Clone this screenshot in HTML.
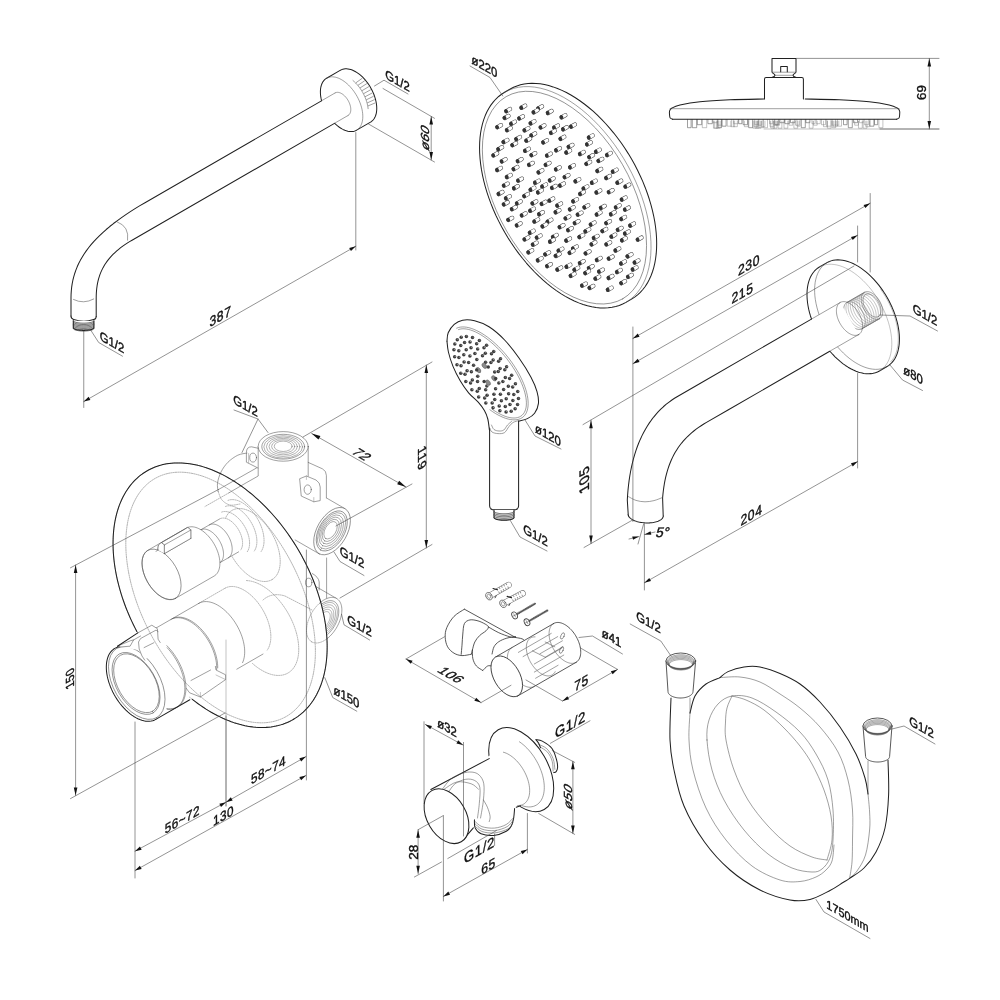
<!DOCTYPE html>
<html><head><meta charset="utf-8"><title>Shower set dimensions</title>
<style>
html,body{margin:0;padding:0;background:#fff;}
body{width:1000px;height:1000px;overflow:hidden;font-family:"Liberation Sans",sans-serif;}
svg{display:block;will-change:transform;}
path,ellipse{fill:none;stroke-linecap:round;stroke-linejoin:round;}
.k{stroke:#202020;stroke-width:1.02;}
.t{stroke:#505050;stroke-width:.55;}
.d{stroke:#3a3a3a;stroke-width:.55;}
.h{stroke:#7a7a7a;stroke-width:.45;}
.o{stroke:#707070;stroke-width:.5;stroke-dasharray:1.2 1.1;}
.m{stroke:#2e2e2e;stroke-width:.8;}
.t2{stroke:#666;stroke-width:.5;}
.w{fill:#fff;stroke:none;}
.a{fill:#111;stroke:none;}
text{font-family:"Liberation Sans",sans-serif;fill:#111;}
</style></head><body>
<svg width="1000" height="1000" viewBox="0 0 1000 1000">
<rect width="1000" height="1000" fill="#fff"/>
<path class="k" d="M326.6 78.22L325.59 78.89L324.66 79.68L323.81 80.59L323.05 81.61L322.38 82.75L321.8 83.99L321.32 85.32L320.94 86.75L320.65 88.27L320.47 89.86L320.4 91.52L320.42 93.25L320.55 95.02L320.78 96.85L321.12 98.71L321.55 100.59L322.08 102.49L322.71 104.4L323.43 106.31L324.23 108.21L325.12 110.09L326.09 111.94L327.14 113.76L328.26 115.52L329.44 117.24L330.68 118.88L331.98 120.46L333.32 121.96L334.7 123.37L336.12 124.69L337.56 125.9L339.02 127.02L340.5 128.02L341.98 128.9L343.45 129.67L344.92 130.31L346.38 130.82L347.81 131.2L349.21 131.45L350.57 131.57L351.89 131.56L353.16 131.41L354.37 131.13L355.52 130.72L356.6 130.18L370.54 122.13L371.55 121.46L372.48 120.67L373.33 119.76L374.09 118.74L374.77 117.6L375.34 116.36L375.83 115.03L376.21 113.6L376.49 112.08L376.67 110.49L376.75 108.83L376.72 107.1L376.59 105.33L376.36 103.5L376.03 101.64L375.59 99.76L375.06 97.86L374.44 95.95L373.72 94.04L372.91 92.14L372.02 90.26L371.05 88.41L370 86.59L368.88 84.83L367.7 83.11L366.46 81.47L365.16 79.89L363.82 78.39L362.44 76.98L361.03 75.66L359.58 74.45L358.12 73.33L356.65 72.33L355.17 71.45L353.69 70.68L352.22 70.04L350.77 69.53L349.34 69.15L347.94 68.9L346.57 68.78L345.26 68.79L343.99 68.94L342.78 69.22L341.63 69.63L340.54 70.17Z" style="fill:#fff"/>
<path class="t" d="M356.6 130.18L357.61 129.51L358.54 128.72L359.39 127.81L360.15 126.79L360.82 125.65L361.4 124.41L361.88 123.08L362.26 121.65L362.55 120.13L362.73 118.54L362.8 116.88L362.78 115.15L362.65 113.38L362.42 111.55L362.08 109.69L361.65 107.81L361.12 105.91L360.49 104L359.77 102.09L358.97 100.19L358.08 98.31L357.11 96.46L356.06 94.64L354.94 92.88L353.76 91.16L352.52 89.52L351.22 87.94L349.88 86.44L348.5 85.03L347.08 83.71L345.64 82.5L344.18 81.38L342.7 80.38L341.22 79.5L339.75 78.73L338.28 78.09L336.82 77.58L335.39 77.2L333.99 76.95L332.63 76.83L331.31 76.84L330.04 76.99L328.83 77.27L327.68 77.68L326.6 78.22"/>
<path class="t" d="M368.26 105.83L375 103.01"/>
<path class="t" d="M367.57 102.77L374.27 99.75"/>
<path class="t" d="M366.61 99.66L373.25 96.45"/>
<path class="t" d="M365.39 96.56L371.94 93.15"/>
<path class="t" d="M363.92 93.51L370.38 89.9"/>
<path class="t" d="M362.24 90.55L368.59 86.75"/>
<path class="t" d="M360.35 87.73L366.58 83.75"/>
<path class="t" d="M358.3 85.09L364.39 80.94"/>
<path class="t" d="M356.11 82.67L362.06 78.36"/>
<path class="t" d="M368.12 108.68L367.89 106.94L367.57 105.16L367.15 103.35L366.63 101.53L366.02 99.7L365.32 97.87L364.53 96.06L363.66 94.26L362.71 92.5L361.69 90.77L360.6 89.1L359.45 87.48L358.24 85.93L356.98 84.45L355.68 83.05L354.34 81.74L352.97 80.52"/>
<path class="w" d="M335.1 92.94L145.01 202.69L145.01 202.69L139.93 205.68L135.04 208.66L130.35 211.63L125.85 214.61L121.54 217.58L117.42 220.56L113.48 223.53L109.74 226.52L106.18 229.51L102.8 232.52L99.6 235.53L96.58 238.56L93.73 241.61L91.07 244.67L88.58 247.76L86.26 250.87L84.11 254L82.13 257.17L80.32 260.36L78.67 263.58L77.19 266.83L75.88 270.13L74.72 273.46L73.72 276.83L72.88 280.24L72.2 283.69L71.67 287.2L71.3 290.75L71.07 294.35L71 298L71 317.6L71 317.6L71.03 317.82L71.12 318.05L71.28 318.27L71.49 318.48L71.76 318.69L72.09 318.9L72.47 319.1L72.91 319.3L73.41 319.48L73.95 319.66L74.54 319.82L75.17 319.98L75.84 320.12L76.55 320.25L77.3 320.37L78.08 320.48L78.88 320.57L79.71 320.64L80.55 320.7L81.41 320.75L82.28 320.78L83.16 320.8L84.04 320.8L84.92 320.78L85.79 320.75L86.65 320.7L87.49 320.64L88.32 320.57L89.12 320.48L89.9 320.37L90.65 320.25L91.36 320.12L92.03 319.98L92.66 319.82L93.25 319.66L93.79 319.48L94.29 319.3L94.73 319.1L95.11 318.9L95.44 318.69L95.71 318.48L95.92 318.27L96.08 318.05L96.17 317.82L96.2 317.6L96.2 298L96.2 298L96.24 295.43L96.34 292.92L96.53 290.46L96.78 288.06L97.11 285.71L97.52 283.41L98 281.15L98.56 278.95L99.2 276.8L99.92 274.69L100.71 272.63L101.59 270.61L102.55 268.63L103.59 266.69L104.71 264.79L105.92 262.93L107.21 261.11L108.58 259.33L110.04 257.57L111.59 255.85L113.23 254.17L114.95 252.51L116.77 250.88L118.67 249.29L120.66 247.71L122.75 246.17L124.93 244.64L127.2 243.14L129.57 241.67L132.03 240.21L132.03 240.21L348.1 115.46Z"/>
<path class="t" d="M335.1 92.94L321.46 100.82"/>
<path class="t" d="M348.1 115.46L334.46 123.33"/>
<path class="k" d="M321.46 100.82L145.01 202.69L145.01 202.69L139.93 205.68L135.04 208.66L130.35 211.63L125.85 214.61L121.54 217.58L117.42 220.56L113.48 223.53L109.74 226.52L106.18 229.51L102.8 232.52L99.6 235.53L96.58 238.56L93.73 241.61L91.07 244.67L88.58 247.76L86.26 250.87L84.11 254L82.13 257.17L80.32 260.36L78.67 263.58L77.19 266.83L75.88 270.13L74.72 273.46L73.72 276.83L72.88 280.24L72.2 283.69L71.67 287.2L71.3 290.75L71.07 294.35L71 298L71 316.1"/>
<path class="k" d="M334.46 123.33L132.03 240.21L132.03 240.21L129.57 241.67L127.2 243.14L124.93 244.64L122.75 246.17L120.66 247.71L118.67 249.29L116.77 250.88L114.95 252.51L113.23 254.17L111.59 255.85L110.04 257.57L108.58 259.33L107.21 261.11L105.92 262.93L104.71 264.79L103.59 266.69L102.55 268.63L101.59 270.61L100.71 272.63L99.92 274.69L99.2 276.8L98.56 278.95L98 281.15L97.52 283.41L97.11 285.71L96.78 288.06L96.53 290.46L96.34 292.92L96.24 295.43L96.2 298L96.2 316.4"/>
<path class="t" d="M348.1 115.46L348.54 115.17L348.94 114.83L349.31 114.43L349.64 113.99L349.93 113.5L350.18 112.96L350.39 112.38L350.55 111.76L350.68 111.1L350.75 110.41L350.79 109.69L350.78 108.95L350.72 108.18L350.62 107.39L350.48 106.58L350.29 105.76L350.06 104.94L349.79 104.11L349.48 103.28L349.13 102.46L348.74 101.65L348.32 100.84L347.87 100.06L347.38 99.29L346.87 98.55L346.33 97.84L345.77 97.15L345.19 96.51L344.59 95.89L343.98 95.32L343.35 94.8L342.72 94.31L342.08 93.88L341.44 93.5L340.8 93.16L340.16 92.89L339.53 92.66L338.91 92.5L338.3 92.39L337.71 92.34L337.14 92.34L336.59 92.41L336.07 92.53L335.57 92.71L335.1 92.94"/>
<path class="t" d="M117.4 222Q129.5 226.5 127.6 240.2"/>
<path class="t" d="M73.5 299.5Q83.6 304.5 93.7 299"/>
<path class="k" d="M71.0 316.1Q71.0 318.8 73.6 319.40000000000003Q83.6 322.8 93.60000000000001 319.6Q96.2 319.0 96.2 316.40000000000003"/>
<path class="k" d="M73.3 320.8L73.3 327.6L73.3 327.6L73.33 327.8L73.4 327.99L73.53 328.18L73.7 328.37L73.92 328.56L74.19 328.74L74.51 328.91L74.87 329.08L75.27 329.25L75.71 329.4L76.19 329.55L76.71 329.68L77.26 329.81L77.84 329.92L78.45 330.02L79.08 330.12L79.74 330.2L80.42 330.26L81.11 330.32L81.81 330.36L82.52 330.38L83.24 330.4L83.96 330.4L84.68 330.38L85.39 330.36L86.09 330.32L86.78 330.26L87.46 330.2L88.12 330.12L88.75 330.02L89.36 329.92L89.94 329.81L90.49 329.68L91.01 329.55L91.49 329.4L91.93 329.25L92.33 329.08L92.69 328.91L93.01 328.74L93.28 328.56L93.5 328.37L93.67 328.18L93.8 327.99L93.87 327.8L93.9 327.6L93.9 321" style="fill:#fff"/>
<path class="m" d="M73.31 320.69L73.36 320.87L73.46 321.05L73.61 321.23L73.8 321.4L74.05 321.57L74.34 321.74L74.68 321.9L75.06 322.05L75.48 322.2L75.95 322.34L76.45 322.47L76.98 322.59L77.55 322.7L78.14 322.8L78.76 322.9L79.41 322.98L80.08 323.04L80.76 323.1L81.46 323.14L82.17 323.17L82.88 323.19L83.6 323.2L84.32 323.19L85.03 323.17L85.74 323.14L86.44 323.1L87.12 323.04L87.79 322.98L88.44 322.9L89.06 322.8L89.65 322.7L90.22 322.59L90.75 322.47L91.25 322.34L91.72 322.2L92.14 322.05L92.52 321.9L92.86 321.74L93.15 321.57L93.4 321.4L93.59 321.23L93.74 321.05L93.84 320.87L93.89 320.69"/>
<path class="m" d="M73.31 321.99L73.36 322.17L73.46 322.35L73.61 322.53L73.8 322.7L74.05 322.87L74.34 323.04L74.68 323.2L75.06 323.35L75.48 323.5L75.95 323.64L76.45 323.77L76.98 323.89L77.55 324L78.14 324.1L78.76 324.2L79.41 324.28L80.08 324.34L80.76 324.4L81.46 324.44L82.17 324.47L82.88 324.49L83.6 324.5L84.32 324.49L85.03 324.47L85.74 324.44L86.44 324.4L87.12 324.34L87.79 324.28L88.44 324.2L89.06 324.1L89.65 324L90.22 323.89L90.75 323.77L91.25 323.64L91.72 323.5L92.14 323.35L92.52 323.2L92.86 323.04L93.15 322.87L93.4 322.7L93.59 322.53L93.74 322.35L93.84 322.17L93.89 321.99"/>
<path class="m" d="M73.31 323.29L73.36 323.47L73.46 323.65L73.61 323.83L73.8 324L74.05 324.17L74.34 324.34L74.68 324.5L75.06 324.65L75.48 324.8L75.95 324.94L76.45 325.07L76.98 325.19L77.55 325.3L78.14 325.4L78.76 325.5L79.41 325.58L80.08 325.64L80.76 325.7L81.46 325.74L82.17 325.77L82.88 325.79L83.6 325.8L84.32 325.79L85.03 325.77L85.74 325.74L86.44 325.7L87.12 325.64L87.79 325.58L88.44 325.5L89.06 325.4L89.65 325.3L90.22 325.19L90.75 325.07L91.25 324.94L91.72 324.8L92.14 324.65L92.52 324.5L92.86 324.34L93.15 324.17L93.4 324L93.59 323.83L93.74 323.65L93.84 323.47L93.89 323.29"/>
<path class="m" d="M73.31 324.59L73.36 324.77L73.46 324.95L73.61 325.13L73.8 325.3L74.05 325.47L74.34 325.64L74.68 325.8L75.06 325.95L75.48 326.1L75.95 326.24L76.45 326.37L76.98 326.49L77.55 326.6L78.14 326.7L78.76 326.8L79.41 326.88L80.08 326.94L80.76 327L81.46 327.04L82.17 327.07L82.88 327.09L83.6 327.1L84.32 327.09L85.03 327.07L85.74 327.04L86.44 327L87.12 326.94L87.79 326.88L88.44 326.8L89.06 326.7L89.65 326.6L90.22 326.49L90.75 326.37L91.25 326.24L91.72 326.1L92.14 325.95L92.52 325.8L92.86 325.64L93.15 325.47L93.4 325.3L93.59 325.13L93.74 324.95L93.84 324.77L93.89 324.59"/>
<path class="m" d="M73.31 325.89L73.36 326.07L73.46 326.25L73.61 326.43L73.8 326.6L74.05 326.77L74.34 326.94L74.68 327.1L75.06 327.25L75.48 327.4L75.95 327.54L76.45 327.67L76.98 327.79L77.55 327.9L78.14 328L78.76 328.1L79.41 328.18L80.08 328.24L80.76 328.3L81.46 328.34L82.17 328.37L82.88 328.39L83.6 328.4L84.32 328.39L85.03 328.37L85.74 328.34L86.44 328.3L87.12 328.24L87.79 328.18L88.44 328.1L89.06 328L89.65 327.9L90.22 327.79L90.75 327.67L91.25 327.54L91.72 327.4L92.14 327.25L92.52 327.1L92.86 326.94L93.15 326.77L93.4 326.6L93.59 326.43L93.74 326.25L93.84 326.07L93.89 325.89"/>
<path class="m" d="M73.31 327.19L73.36 327.37L73.46 327.55L73.61 327.73L73.8 327.9L74.05 328.07L74.34 328.24L74.68 328.4L75.06 328.55L75.48 328.7L75.95 328.84L76.45 328.97L76.98 329.09L77.55 329.2L78.14 329.3L78.76 329.4L79.41 329.48L80.08 329.54L80.76 329.6L81.46 329.64L82.17 329.67L82.88 329.69L83.6 329.7L84.32 329.69L85.03 329.67L85.74 329.64L86.44 329.6L87.12 329.54L87.79 329.48L88.44 329.4L89.06 329.3L89.65 329.2L90.22 329.09L90.75 328.97L91.25 328.84L91.72 328.7L92.14 328.55L92.52 328.4L92.86 328.24L93.15 328.07L93.4 327.9L93.59 327.73L93.74 327.55L93.84 327.37L93.89 327.19"/>
<path class="m" d="M73.31 328.49L73.36 328.67L73.46 328.85L73.61 329.03L73.8 329.2L74.05 329.37L74.34 329.54L74.68 329.7L75.06 329.85L75.48 330L75.95 330.14L76.45 330.27L76.98 330.39L77.55 330.5L78.14 330.6L78.76 330.7L79.41 330.78L80.08 330.84L80.76 330.9L81.46 330.94L82.17 330.97L82.88 330.99L83.6 331L84.32 330.99L85.03 330.97L85.74 330.94L86.44 330.9L87.12 330.84L87.79 330.78L88.44 330.7L89.06 330.6L89.65 330.5L90.22 330.39L90.75 330.27L91.25 330.14L91.72 330L92.14 329.85L92.52 329.7L92.86 329.54L93.15 329.37L93.4 329.2L93.59 329.03L93.74 328.85L93.84 328.67L93.89 328.49"/>
<path class="d" d="M90 329L98.7 342.5L122.5 356.2"/>
<text x="0" y="0" text-anchor="middle" transform="matrix(0.87 0.5 0 1 112 342.2)" style="font-size:13px;stroke:#111;stroke-width:0.4px;" dominant-baseline="central">G1/2</text>
<path class="d" d="M83.75 331L83.75 407.5"/>
<path class="d" d="M355.8 132.5L355.8 250"/>
<path class="d" d="M83.75 401.6L355.8 246.2"/>
<path class="a" d="M83.75 401.6L88.59 396.76L90.37 399.89Z"/>
<path class="a" d="M355.8 246.2L350.96 251.04L349.18 247.91Z"/>
<text x="0" y="0" text-anchor="middle" transform="matrix(0.87 -0.5 0 1 220.5 316)" style="font-size:14px;letter-spacing:0.6px;stroke:#111;stroke-width:0.4px;" dominant-baseline="central">387</text>
<path class="d" d="M374.5 86L384 80.2L408 94"/>
<text x="0" y="0" text-anchor="middle" transform="matrix(0.87 0.5 0 1 397.5 80.7)" style="font-size:13px;stroke:#111;stroke-width:0.4px;" dominant-baseline="central">G1/2</text>
<path class="d" d="M383 88.5L434.5 118.3"/>
<path class="d" d="M368.5 124L434.5 162"/>
<path class="d" d="M431.2 116.5L431.2 160"/>
<path class="a" d="M431.2 116.5L433 124.5L429.4 124.5Z"/>
<path class="a" d="M431.2 160L429.4 152L433 152Z"/>
<text x="0" y="0" text-anchor="middle" transform="matrix(0 -1 0.87 0.5 424.8 137.5)" style="font-size:13.5px;letter-spacing:0.3px;stroke:#111;stroke-width:0.4px;" dominant-baseline="central">ø60</text>
<path class="k" d="M504.65 92.25L501.56 94.23L498.65 96.48L495.91 99.02L493.37 101.82L491.03 104.89L488.89 108.21L486.96 111.77L485.24 115.57L483.74 119.59L482.47 123.82L481.42 128.26L480.61 132.88L480.02 137.68L479.67 142.65L479.55 147.76L479.67 153.01L480.03 158.39L480.61 163.87L481.43 169.44L482.48 175.08L483.76 180.79L485.26 186.54L486.98 192.32L488.91 198.12L491.05 203.91L493.4 209.69L495.95 215.43L498.68 221.12L501.6 226.75L504.69 232.3L507.94 237.74L511.36 243.08L514.92 248.3L518.62 253.37L522.45 258.29L526.4 263.04L530.45 267.62L534.6 272L538.83 276.17L543.13 280.13L547.5 283.86L551.91 287.36L556.36 290.61L560.84 293.6L565.33 296.33L569.81 298.78L574.29 300.96L578.74 302.86L583.15 304.46L587.52 305.77L591.82 306.79L596.05 307.5L600.2 307.91L604.25 308.02L608.2 307.83L612.02 307.33L615.72 306.53L619.28 305.43L622.69 304.04L625.95 302.35L631.58 299.1L634.67 297.12L637.58 294.87L640.31 292.33L642.86 289.53L645.2 286.46L647.34 283.14L649.27 279.58L650.99 275.78L652.49 271.76L653.76 267.53L654.81 263.09L655.62 258.47L656.21 253.67L656.56 248.7L656.68 243.59L656.56 238.34L656.2 232.96L655.62 227.48L654.8 221.91L653.75 216.27L652.47 210.56L650.97 204.81L649.25 199.03L647.32 193.23L645.17 187.44L642.83 181.66L640.28 175.92L637.55 170.23L634.63 164.6L631.54 159.05L628.29 153.61L624.87 148.27L621.31 143.05L617.61 137.98L613.78 133.06L609.83 128.31L605.78 123.73L601.63 119.35L597.4 115.18L593.1 111.22L588.73 107.49L584.32 103.99L579.87 100.74L575.39 97.75L570.9 95.02L566.42 92.57L561.94 90.39L557.49 88.49L553.08 86.89L548.71 85.58L544.41 84.56L540.18 83.85L536.03 83.44L531.98 83.33L528.03 83.52L524.21 84.02L520.51 84.82L516.95 85.92L513.53 87.31L510.28 89Z" style="fill:#fff"/>
<path class="t" d="M625.95 302.35L630.03 299.65L633.8 296.46L637.23 292.78L640.31 288.63L643.02 284.04L645.36 279.03L647.31 273.62L648.85 267.84L649.99 261.72L650.72 255.28L651.03 248.56L650.93 241.59L650.4 234.4L649.47 227.03L648.12 219.52L646.37 211.9L644.22 204.21L641.69 196.48L638.79 188.76L635.52 181.08L631.92 173.48L627.99 165.99L623.76 158.66L619.24 151.52L614.46 144.6L609.44 137.93L604.2 131.56L598.78 125.5L593.19 119.8L587.47 114.47L581.64 109.55L575.72 105.05L569.76 101L563.78 97.42L557.8 94.33L551.86 91.74L545.99 89.67L540.21 88.12L534.55 87.1L529.04 86.62L523.71 86.67L518.58 87.27L513.68 88.4L509.03 90.07L504.65 92.25"/>
<ellipse class="t" cx="564.5" cy="197.7" rx="116.7" ry="66.79" transform="rotate(60 564.5 197.7)"/>
<path d="M641.53 237.56L637.81 239.71" style="stroke:#3a3a3a;stroke-width:4.2;stroke-linecap:round"/>
<path d="M641.53 237.56L637.81 239.71" style="stroke:#fff;stroke-width:3.2;stroke-linecap:round"/>
<ellipse cx="637.61" cy="239.81" rx="2.15" ry="1.85" transform="rotate(60 637.81 239.71)" style="fill:#333;stroke:none"/>
<path d="M638.46 260.47L634.74 262.62" style="stroke:#3a3a3a;stroke-width:4.2;stroke-linecap:round"/>
<path d="M638.46 260.47L634.74 262.62" style="stroke:#fff;stroke-width:3.2;stroke-linecap:round"/>
<ellipse cx="634.54" cy="262.72" rx="2.15" ry="1.85" transform="rotate(60 634.74 262.62)" style="fill:#333;stroke:none"/>
<path d="M636.54 267.46L632.82 269.61" style="stroke:#3a3a3a;stroke-width:4.2;stroke-linecap:round"/>
<path d="M636.54 267.46L632.82 269.61" style="stroke:#fff;stroke-width:3.2;stroke-linecap:round"/>
<ellipse cx="632.62" cy="269.71" rx="2.15" ry="1.85" transform="rotate(60 632.82 269.61)" style="fill:#333;stroke:none"/>
<path d="M633.98 223.53L630.26 225.68" style="stroke:#3a3a3a;stroke-width:4.2;stroke-linecap:round"/>
<path d="M633.98 223.53L630.26 225.68" style="stroke:#fff;stroke-width:3.2;stroke-linecap:round"/>
<ellipse cx="630.06" cy="225.78" rx="2.15" ry="1.85" transform="rotate(60 630.26 225.68)" style="fill:#333;stroke:none"/>
<path d="M631.8 274.84L628.08 276.99" style="stroke:#3a3a3a;stroke-width:4.2;stroke-linecap:round"/>
<path d="M631.8 274.84L628.08 276.99" style="stroke:#fff;stroke-width:3.2;stroke-linecap:round"/>
<ellipse cx="627.88" cy="277.09" rx="2.15" ry="1.85" transform="rotate(60 628.08 276.99)" style="fill:#333;stroke:none"/>
<path d="M631.42 254.28L627.69 256.43" style="stroke:#3a3a3a;stroke-width:4.2;stroke-linecap:round"/>
<path d="M631.42 254.28L627.69 256.43" style="stroke:#fff;stroke-width:3.2;stroke-linecap:round"/>
<ellipse cx="627.49" cy="256.53" rx="2.15" ry="1.85" transform="rotate(60 627.69 256.43)" style="fill:#333;stroke:none"/>
<path d="M629.23 184.64L625.51 186.79" style="stroke:#3a3a3a;stroke-width:4.2;stroke-linecap:round"/>
<path d="M629.23 184.64L625.51 186.79" style="stroke:#fff;stroke-width:3.2;stroke-linecap:round"/>
<ellipse cx="625.31" cy="186.89" rx="2.15" ry="1.85" transform="rotate(60 625.51 186.79)" style="fill:#333;stroke:none"/>
<path d="M628.77 231.52L625.05 233.67" style="stroke:#3a3a3a;stroke-width:4.2;stroke-linecap:round"/>
<path d="M628.77 231.52L625.05 233.67" style="stroke:#fff;stroke-width:3.2;stroke-linecap:round"/>
<ellipse cx="624.85" cy="233.77" rx="2.15" ry="1.85" transform="rotate(60 625.05 233.67)" style="fill:#333;stroke:none"/>
<path d="M628.75 207.57L625.02 209.72" style="stroke:#3a3a3a;stroke-width:4.2;stroke-linecap:round"/>
<path d="M628.75 207.57L625.02 209.72" style="stroke:#fff;stroke-width:3.2;stroke-linecap:round"/>
<ellipse cx="624.82" cy="209.82" rx="2.15" ry="1.85" transform="rotate(60 625.02 209.72)" style="fill:#333;stroke:none"/>
<path d="M625.8 238.25L622.07 240.4" style="stroke:#3a3a3a;stroke-width:4.2;stroke-linecap:round"/>
<path d="M625.8 238.25L622.07 240.4" style="stroke:#fff;stroke-width:3.2;stroke-linecap:round"/>
<ellipse cx="621.87" cy="240.5" rx="2.15" ry="1.85" transform="rotate(60 622.07 240.4)" style="fill:#333;stroke:none"/>
<path d="M625.59 197.52L621.86 199.67" style="stroke:#3a3a3a;stroke-width:4.2;stroke-linecap:round"/>
<path d="M625.59 197.52L621.86 199.67" style="stroke:#fff;stroke-width:3.2;stroke-linecap:round"/>
<ellipse cx="621.66" cy="199.77" rx="2.15" ry="1.85" transform="rotate(60 621.86 199.67)" style="fill:#333;stroke:none"/>
<path d="M625.08 216.97L621.36 219.12" style="stroke:#3a3a3a;stroke-width:4.2;stroke-linecap:round"/>
<path d="M625.08 216.97L621.36 219.12" style="stroke:#fff;stroke-width:3.2;stroke-linecap:round"/>
<ellipse cx="621.16" cy="219.22" rx="2.15" ry="1.85" transform="rotate(60 621.36 219.12)" style="fill:#333;stroke:none"/>
<path d="M625.05 281.13L621.33 283.28" style="stroke:#3a3a3a;stroke-width:4.2;stroke-linecap:round"/>
<path d="M625.05 281.13L621.33 283.28" style="stroke:#fff;stroke-width:3.2;stroke-linecap:round"/>
<ellipse cx="621.13" cy="283.38" rx="2.15" ry="1.85" transform="rotate(60 621.33 283.28)" style="fill:#333;stroke:none"/>
<path d="M624.92 261.48L621.2 263.63" style="stroke:#3a3a3a;stroke-width:4.2;stroke-linecap:round"/>
<path d="M624.92 261.48L621.2 263.63" style="stroke:#fff;stroke-width:3.2;stroke-linecap:round"/>
<ellipse cx="621" cy="263.73" rx="2.15" ry="1.85" transform="rotate(60 621.2 263.63)" style="fill:#333;stroke:none"/>
<path d="M621.6 227.87L617.88 230.02" style="stroke:#3a3a3a;stroke-width:4.2;stroke-linecap:round"/>
<path d="M621.6 227.87L617.88 230.02" style="stroke:#fff;stroke-width:3.2;stroke-linecap:round"/>
<ellipse cx="617.68" cy="230.12" rx="2.15" ry="1.85" transform="rotate(60 617.88 230.02)" style="fill:#333;stroke:none"/>
<path d="M621.24 180.68L617.52 182.83" style="stroke:#3a3a3a;stroke-width:4.2;stroke-linecap:round"/>
<path d="M621.24 180.68L617.52 182.83" style="stroke:#fff;stroke-width:3.2;stroke-linecap:round"/>
<ellipse cx="617.32" cy="182.93" rx="2.15" ry="1.85" transform="rotate(60 617.52 182.83)" style="fill:#333;stroke:none"/>
<path d="M620.79 269.98L617.07 272.13" style="stroke:#3a3a3a;stroke-width:4.2;stroke-linecap:round"/>
<path d="M620.79 269.98L617.07 272.13" style="stroke:#fff;stroke-width:3.2;stroke-linecap:round"/>
<ellipse cx="616.87" cy="272.23" rx="2.15" ry="1.85" transform="rotate(60 617.07 272.13)" style="fill:#333;stroke:none"/>
<path d="M619.66 205.36L615.93 207.51" style="stroke:#3a3a3a;stroke-width:4.2;stroke-linecap:round"/>
<path d="M619.66 205.36L615.93 207.51" style="stroke:#fff;stroke-width:3.2;stroke-linecap:round"/>
<ellipse cx="615.73" cy="207.61" rx="2.15" ry="1.85" transform="rotate(60 615.93 207.51)" style="fill:#333;stroke:none"/>
<path d="M619.31 248.44L615.59 250.59" style="stroke:#3a3a3a;stroke-width:4.2;stroke-linecap:round"/>
<path d="M619.31 248.44L615.59 250.59" style="stroke:#fff;stroke-width:3.2;stroke-linecap:round"/>
<ellipse cx="615.39" cy="250.69" rx="2.15" ry="1.85" transform="rotate(60 615.59 250.59)" style="fill:#333;stroke:none"/>
<path d="M616.64 169.7L612.92 171.85" style="stroke:#3a3a3a;stroke-width:4.2;stroke-linecap:round"/>
<path d="M616.64 169.7L612.92 171.85" style="stroke:#fff;stroke-width:3.2;stroke-linecap:round"/>
<ellipse cx="612.72" cy="171.95" rx="2.15" ry="1.85" transform="rotate(60 612.92 171.85)" style="fill:#333;stroke:none"/>
<path d="M615.25 234.67L611.52 236.82" style="stroke:#3a3a3a;stroke-width:4.2;stroke-linecap:round"/>
<path d="M615.25 234.67L611.52 236.82" style="stroke:#fff;stroke-width:3.2;stroke-linecap:round"/>
<ellipse cx="611.32" cy="236.92" rx="2.15" ry="1.85" transform="rotate(60 611.52 236.82)" style="fill:#333;stroke:none"/>
<path d="M614.73 212.18L611.01 214.33" style="stroke:#3a3a3a;stroke-width:4.2;stroke-linecap:round"/>
<path d="M614.73 212.18L611.01 214.33" style="stroke:#fff;stroke-width:3.2;stroke-linecap:round"/>
<ellipse cx="610.81" cy="214.43" rx="2.15" ry="1.85" transform="rotate(60 611.01 214.33)" style="fill:#333;stroke:none"/>
<path d="M612.58 190.13L608.86 192.28" style="stroke:#3a3a3a;stroke-width:4.2;stroke-linecap:round"/>
<path d="M612.58 190.13L608.86 192.28" style="stroke:#fff;stroke-width:3.2;stroke-linecap:round"/>
<ellipse cx="608.66" cy="192.38" rx="2.15" ry="1.85" transform="rotate(60 608.86 192.28)" style="fill:#333;stroke:none"/>
<path d="M612.58 256.56L608.85 258.71" style="stroke:#3a3a3a;stroke-width:4.2;stroke-linecap:round"/>
<path d="M612.58 256.56L608.85 258.71" style="stroke:#fff;stroke-width:3.2;stroke-linecap:round"/>
<ellipse cx="608.65" cy="258.81" rx="2.15" ry="1.85" transform="rotate(60 608.85 258.71)" style="fill:#333;stroke:none"/>
<path d="M612.44 275.93L608.72 278.08" style="stroke:#3a3a3a;stroke-width:4.2;stroke-linecap:round"/>
<path d="M612.44 275.93L608.72 278.08" style="stroke:#fff;stroke-width:3.2;stroke-linecap:round"/>
<ellipse cx="608.52" cy="278.18" rx="2.15" ry="1.85" transform="rotate(60 608.72 278.08)" style="fill:#333;stroke:none"/>
<path d="M611.64 287.75L607.91 289.9" style="stroke:#3a3a3a;stroke-width:4.2;stroke-linecap:round"/>
<path d="M611.64 287.75L607.91 289.9" style="stroke:#fff;stroke-width:3.2;stroke-linecap:round"/>
<ellipse cx="607.71" cy="290" rx="2.15" ry="1.85" transform="rotate(60 607.91 289.9)" style="fill:#333;stroke:none"/>
<path d="M610.81 153.01L607.09 155.16" style="stroke:#3a3a3a;stroke-width:4.2;stroke-linecap:round"/>
<path d="M610.81 153.01L607.09 155.16" style="stroke:#fff;stroke-width:3.2;stroke-linecap:round"/>
<ellipse cx="606.89" cy="155.26" rx="2.15" ry="1.85" transform="rotate(60 607.09 155.16)" style="fill:#333;stroke:none"/>
<path d="M610.18 242.35L606.45 244.5" style="stroke:#3a3a3a;stroke-width:4.2;stroke-linecap:round"/>
<path d="M610.18 242.35L606.45 244.5" style="stroke:#fff;stroke-width:3.2;stroke-linecap:round"/>
<ellipse cx="606.25" cy="244.6" rx="2.15" ry="1.85" transform="rotate(60 606.45 244.5)" style="fill:#333;stroke:none"/>
<path d="M610.01 221.14L606.29 223.29" style="stroke:#3a3a3a;stroke-width:4.2;stroke-linecap:round"/>
<path d="M610.01 221.14L606.29 223.29" style="stroke:#fff;stroke-width:3.2;stroke-linecap:round"/>
<ellipse cx="606.09" cy="223.39" rx="2.15" ry="1.85" transform="rotate(60 606.29 223.29)" style="fill:#333;stroke:none"/>
<path d="M610.01 175.93L606.29 178.08" style="stroke:#3a3a3a;stroke-width:4.2;stroke-linecap:round"/>
<path d="M610.01 175.93L606.29 178.08" style="stroke:#fff;stroke-width:3.2;stroke-linecap:round"/>
<ellipse cx="606.09" cy="178.18" rx="2.15" ry="1.85" transform="rotate(60 606.29 178.08)" style="fill:#333;stroke:none"/>
<path d="M606.22 229.02L602.49 231.17" style="stroke:#3a3a3a;stroke-width:4.2;stroke-linecap:round"/>
<path d="M606.22 229.02L602.49 231.17" style="stroke:#fff;stroke-width:3.2;stroke-linecap:round"/>
<ellipse cx="602.29" cy="231.27" rx="2.15" ry="1.85" transform="rotate(60 602.49 231.17)" style="fill:#333;stroke:none"/>
<path d="M604.71 205.88L600.98 208.03" style="stroke:#3a3a3a;stroke-width:4.2;stroke-linecap:round"/>
<path d="M604.71 205.88L600.98 208.03" style="stroke:#fff;stroke-width:3.2;stroke-linecap:round"/>
<ellipse cx="600.78" cy="208.13" rx="2.15" ry="1.85" transform="rotate(60 600.98 208.03)" style="fill:#333;stroke:none"/>
<path d="M602.85 269.62L599.13 271.77" style="stroke:#3a3a3a;stroke-width:4.2;stroke-linecap:round"/>
<path d="M602.85 269.62L599.13 271.77" style="stroke:#fff;stroke-width:3.2;stroke-linecap:round"/>
<ellipse cx="598.93" cy="271.87" rx="2.15" ry="1.85" transform="rotate(60 599.13 271.77)" style="fill:#333;stroke:none"/>
<path d="M602.28 158.83L598.56 160.98" style="stroke:#3a3a3a;stroke-width:4.2;stroke-linecap:round"/>
<path d="M602.28 158.83L598.56 160.98" style="stroke:#fff;stroke-width:3.2;stroke-linecap:round"/>
<ellipse cx="598.36" cy="161.08" rx="2.15" ry="1.85" transform="rotate(60 598.56 160.98)" style="fill:#333;stroke:none"/>
<path d="M601.2 168.94L597.48 171.09" style="stroke:#3a3a3a;stroke-width:4.2;stroke-linecap:round"/>
<path d="M601.2 168.94L597.48 171.09" style="stroke:#fff;stroke-width:3.2;stroke-linecap:round"/>
<ellipse cx="597.28" cy="171.19" rx="2.15" ry="1.85" transform="rotate(60 597.48 171.09)" style="fill:#333;stroke:none"/>
<path d="M600.67 257.97L596.95 260.12" style="stroke:#3a3a3a;stroke-width:4.2;stroke-linecap:round"/>
<path d="M600.67 257.97L596.95 260.12" style="stroke:#fff;stroke-width:3.2;stroke-linecap:round"/>
<ellipse cx="596.75" cy="260.22" rx="2.15" ry="1.85" transform="rotate(60 596.95 260.12)" style="fill:#333;stroke:none"/>
<path d="M600.53 212.48L596.81 214.63" style="stroke:#3a3a3a;stroke-width:4.2;stroke-linecap:round"/>
<path d="M600.53 212.48L596.81 214.63" style="stroke:#fff;stroke-width:3.2;stroke-linecap:round"/>
<ellipse cx="596.61" cy="214.73" rx="2.15" ry="1.85" transform="rotate(60 596.81 214.63)" style="fill:#333;stroke:none"/>
<path d="M600.31 190.46L596.58 192.61" style="stroke:#3a3a3a;stroke-width:4.2;stroke-linecap:round"/>
<path d="M600.31 190.46L596.58 192.61" style="stroke:#fff;stroke-width:3.2;stroke-linecap:round"/>
<ellipse cx="596.38" cy="192.71" rx="2.15" ry="1.85" transform="rotate(60 596.58 192.61)" style="fill:#333;stroke:none"/>
<path d="M599.76 149.76L596.04 151.91" style="stroke:#3a3a3a;stroke-width:4.2;stroke-linecap:round"/>
<path d="M599.76 149.76L596.04 151.91" style="stroke:#fff;stroke-width:3.2;stroke-linecap:round"/>
<ellipse cx="595.84" cy="152.01" rx="2.15" ry="1.85" transform="rotate(60 596.04 151.91)" style="fill:#333;stroke:none"/>
<path d="M599.24 276.66L595.51 278.81" style="stroke:#3a3a3a;stroke-width:4.2;stroke-linecap:round"/>
<path d="M599.24 276.66L595.51 278.81" style="stroke:#fff;stroke-width:3.2;stroke-linecap:round"/>
<ellipse cx="595.31" cy="278.91" rx="2.15" ry="1.85" transform="rotate(60 595.51 278.81)" style="fill:#333;stroke:none"/>
<path d="M597.62 235.97L593.89 238.12" style="stroke:#3a3a3a;stroke-width:4.2;stroke-linecap:round"/>
<path d="M597.62 235.97L593.89 238.12" style="stroke:#fff;stroke-width:3.2;stroke-linecap:round"/>
<ellipse cx="593.69" cy="238.22" rx="2.15" ry="1.85" transform="rotate(60 593.89 238.12)" style="fill:#333;stroke:none"/>
<path d="M595.72 180.74L592 182.89" style="stroke:#3a3a3a;stroke-width:4.2;stroke-linecap:round"/>
<path d="M595.72 180.74L592 182.89" style="stroke:#fff;stroke-width:3.2;stroke-linecap:round"/>
<ellipse cx="591.8" cy="182.99" rx="2.15" ry="1.85" transform="rotate(60 592 182.89)" style="fill:#333;stroke:none"/>
<path d="M595.36 242.28L591.63 244.43" style="stroke:#3a3a3a;stroke-width:4.2;stroke-linecap:round"/>
<path d="M595.36 242.28L591.63 244.43" style="stroke:#fff;stroke-width:3.2;stroke-linecap:round"/>
<ellipse cx="591.43" cy="244.53" rx="2.15" ry="1.85" transform="rotate(60 591.63 244.43)" style="fill:#333;stroke:none"/>
<path d="M594.55 222.53L590.83 224.68" style="stroke:#3a3a3a;stroke-width:4.2;stroke-linecap:round"/>
<path d="M594.55 222.53L590.83 224.68" style="stroke:#fff;stroke-width:3.2;stroke-linecap:round"/>
<ellipse cx="590.63" cy="224.78" rx="2.15" ry="1.85" transform="rotate(60 590.83 224.68)" style="fill:#333;stroke:none"/>
<path d="M593.33 285.92L589.61 288.07" style="stroke:#3a3a3a;stroke-width:4.2;stroke-linecap:round"/>
<path d="M593.33 285.92L589.61 288.07" style="stroke:#fff;stroke-width:3.2;stroke-linecap:round"/>
<ellipse cx="589.41" cy="288.17" rx="2.15" ry="1.85" transform="rotate(60 589.61 288.07)" style="fill:#333;stroke:none"/>
<path d="M593 155.15L589.27 157.3" style="stroke:#3a3a3a;stroke-width:4.2;stroke-linecap:round"/>
<path d="M593 155.15L589.27 157.3" style="stroke:#fff;stroke-width:3.2;stroke-linecap:round"/>
<ellipse cx="589.07" cy="157.4" rx="2.15" ry="1.85" transform="rotate(60 589.27 157.3)" style="fill:#333;stroke:none"/>
<path d="M592.67 135.49L588.94 137.64" style="stroke:#3a3a3a;stroke-width:4.2;stroke-linecap:round"/>
<path d="M592.67 135.49L588.94 137.64" style="stroke:#fff;stroke-width:3.2;stroke-linecap:round"/>
<ellipse cx="588.74" cy="137.74" rx="2.15" ry="1.85" transform="rotate(60 588.94 137.64)" style="fill:#333;stroke:none"/>
<path d="M592.65 266.12L588.93 268.27" style="stroke:#3a3a3a;stroke-width:4.2;stroke-linecap:round"/>
<path d="M592.65 266.12L588.93 268.27" style="stroke:#fff;stroke-width:3.2;stroke-linecap:round"/>
<ellipse cx="588.73" cy="268.37" rx="2.15" ry="1.85" transform="rotate(60 588.93 268.27)" style="fill:#333;stroke:none"/>
<path d="M590.83 142.34L587.11 144.49" style="stroke:#3a3a3a;stroke-width:4.2;stroke-linecap:round"/>
<path d="M590.83 142.34L587.11 144.49" style="stroke:#fff;stroke-width:3.2;stroke-linecap:round"/>
<ellipse cx="586.91" cy="144.59" rx="2.15" ry="1.85" transform="rotate(60 587.11 144.49)" style="fill:#333;stroke:none"/>
<path d="M590.17 161.9L586.44 164.05" style="stroke:#3a3a3a;stroke-width:4.2;stroke-linecap:round"/>
<path d="M590.17 161.9L586.44 164.05" style="stroke:#fff;stroke-width:3.2;stroke-linecap:round"/>
<ellipse cx="586.24" cy="164.15" rx="2.15" ry="1.85" transform="rotate(60 586.44 164.05)" style="fill:#333;stroke:none"/>
<path d="M589.49 251.38L585.77 253.53" style="stroke:#3a3a3a;stroke-width:4.2;stroke-linecap:round"/>
<path d="M589.49 251.38L585.77 253.53" style="stroke:#fff;stroke-width:3.2;stroke-linecap:round"/>
<ellipse cx="585.57" cy="253.63" rx="2.15" ry="1.85" transform="rotate(60 585.77 253.53)" style="fill:#333;stroke:none"/>
<path d="M589.25 229.27L585.53 231.42" style="stroke:#3a3a3a;stroke-width:4.2;stroke-linecap:round"/>
<path d="M589.25 229.27L585.53 231.42" style="stroke:#fff;stroke-width:3.2;stroke-linecap:round"/>
<ellipse cx="585.33" cy="231.52" rx="2.15" ry="1.85" transform="rotate(60 585.53 231.42)" style="fill:#333;stroke:none"/>
<path d="M589.05 271.03L585.33 273.18" style="stroke:#3a3a3a;stroke-width:4.2;stroke-linecap:round"/>
<path d="M589.05 271.03L585.33 273.18" style="stroke:#fff;stroke-width:3.2;stroke-linecap:round"/>
<ellipse cx="585.13" cy="273.28" rx="2.15" ry="1.85" transform="rotate(60 585.33 273.18)" style="fill:#333;stroke:none"/>
<path d="M588.22 205.29L584.5 207.44" style="stroke:#3a3a3a;stroke-width:4.2;stroke-linecap:round"/>
<path d="M588.22 205.29L584.5 207.44" style="stroke:#fff;stroke-width:3.2;stroke-linecap:round"/>
<ellipse cx="584.3" cy="207.54" rx="2.15" ry="1.85" transform="rotate(60 584.5 207.44)" style="fill:#333;stroke:none"/>
<path d="M587.36 186.49L583.64 188.64" style="stroke:#3a3a3a;stroke-width:4.2;stroke-linecap:round"/>
<path d="M587.36 186.49L583.64 188.64" style="stroke:#fff;stroke-width:3.2;stroke-linecap:round"/>
<ellipse cx="583.44" cy="188.74" rx="2.15" ry="1.85" transform="rotate(60 583.64 188.64)" style="fill:#333;stroke:none"/>
<path d="M585.83 283.6L582.1 285.75" style="stroke:#3a3a3a;stroke-width:4.2;stroke-linecap:round"/>
<path d="M585.83 283.6L582.1 285.75" style="stroke:#fff;stroke-width:3.2;stroke-linecap:round"/>
<ellipse cx="581.9" cy="285.85" rx="2.15" ry="1.85" transform="rotate(60 582.1 285.75)" style="fill:#333;stroke:none"/>
<path d="M583.95 191.93L580.23 194.08" style="stroke:#3a3a3a;stroke-width:4.2;stroke-linecap:round"/>
<path d="M583.95 191.93L580.23 194.08" style="stroke:#fff;stroke-width:3.2;stroke-linecap:round"/>
<ellipse cx="580.03" cy="194.18" rx="2.15" ry="1.85" transform="rotate(60 580.23 194.08)" style="fill:#333;stroke:none"/>
<path d="M583.77 151.97L580.04 154.12" style="stroke:#3a3a3a;stroke-width:4.2;stroke-linecap:round"/>
<path d="M583.77 151.97L580.04 154.12" style="stroke:#fff;stroke-width:3.2;stroke-linecap:round"/>
<ellipse cx="579.84" cy="154.22" rx="2.15" ry="1.85" transform="rotate(60 580.04 154.12)" style="fill:#333;stroke:none"/>
<path d="M583.65 261.14L579.93 263.29" style="stroke:#3a3a3a;stroke-width:4.2;stroke-linecap:round"/>
<path d="M583.65 261.14L579.93 263.29" style="stroke:#fff;stroke-width:3.2;stroke-linecap:round"/>
<ellipse cx="579.73" cy="263.39" rx="2.15" ry="1.85" transform="rotate(60 579.93 263.29)" style="fill:#333;stroke:none"/>
<path d="M583.19 234.99L579.47 237.14" style="stroke:#3a3a3a;stroke-width:4.2;stroke-linecap:round"/>
<path d="M583.19 234.99L579.47 237.14" style="stroke:#fff;stroke-width:3.2;stroke-linecap:round"/>
<ellipse cx="579.27" cy="237.24" rx="2.15" ry="1.85" transform="rotate(60 579.47 237.14)" style="fill:#333;stroke:none"/>
<path d="M581.53 212.58L577.81 214.73" style="stroke:#3a3a3a;stroke-width:4.2;stroke-linecap:round"/>
<path d="M581.53 212.58L577.81 214.73" style="stroke:#fff;stroke-width:3.2;stroke-linecap:round"/>
<ellipse cx="577.61" cy="214.83" rx="2.15" ry="1.85" transform="rotate(60 577.81 214.73)" style="fill:#333;stroke:none"/>
<path d="M579.26 179.25L575.54 181.4" style="stroke:#3a3a3a;stroke-width:4.2;stroke-linecap:round"/>
<path d="M579.26 179.25L575.54 181.4" style="stroke:#fff;stroke-width:3.2;stroke-linecap:round"/>
<ellipse cx="575.34" cy="181.5" rx="2.15" ry="1.85" transform="rotate(60 575.54 181.4)" style="fill:#333;stroke:none"/>
<path d="M578.54 221.12L574.82 223.27" style="stroke:#3a3a3a;stroke-width:4.2;stroke-linecap:round"/>
<path d="M578.54 221.12L574.82 223.27" style="stroke:#fff;stroke-width:3.2;stroke-linecap:round"/>
<ellipse cx="574.62" cy="223.37" rx="2.15" ry="1.85" transform="rotate(60 574.82 223.27)" style="fill:#333;stroke:none"/>
<path d="M578.26 267.73L574.53 269.88" style="stroke:#3a3a3a;stroke-width:4.2;stroke-linecap:round"/>
<path d="M578.26 267.73L574.53 269.88" style="stroke:#fff;stroke-width:3.2;stroke-linecap:round"/>
<ellipse cx="574.33" cy="269.98" rx="2.15" ry="1.85" transform="rotate(60 574.53 269.88)" style="fill:#333;stroke:none"/>
<path d="M577 199.24L573.27 201.39" style="stroke:#3a3a3a;stroke-width:4.2;stroke-linecap:round"/>
<path d="M577 199.24L573.27 201.39" style="stroke:#fff;stroke-width:3.2;stroke-linecap:round"/>
<ellipse cx="573.07" cy="201.49" rx="2.15" ry="1.85" transform="rotate(60 573.27 201.39)" style="fill:#333;stroke:none"/>
<path d="M576.79 246.52L573.07 248.67" style="stroke:#3a3a3a;stroke-width:4.2;stroke-linecap:round"/>
<path d="M576.79 246.52L573.07 248.67" style="stroke:#fff;stroke-width:3.2;stroke-linecap:round"/>
<ellipse cx="572.87" cy="248.77" rx="2.15" ry="1.85" transform="rotate(60 573.07 248.67)" style="fill:#333;stroke:none"/>
<path d="M574.89 124.54L571.17 126.69" style="stroke:#3a3a3a;stroke-width:4.2;stroke-linecap:round"/>
<path d="M574.89 124.54L571.17 126.69" style="stroke:#fff;stroke-width:3.2;stroke-linecap:round"/>
<ellipse cx="570.97" cy="126.79" rx="2.15" ry="1.85" transform="rotate(60 571.17 126.69)" style="fill:#333;stroke:none"/>
<path d="M574.51 273.79L570.79 275.94" style="stroke:#3a3a3a;stroke-width:4.2;stroke-linecap:round"/>
<path d="M574.51 273.79L570.79 275.94" style="stroke:#fff;stroke-width:3.2;stroke-linecap:round"/>
<ellipse cx="570.59" cy="276.04" rx="2.15" ry="1.85" transform="rotate(60 570.79 275.94)" style="fill:#333;stroke:none"/>
<path d="M573.86 165.26L570.14 167.41" style="stroke:#3a3a3a;stroke-width:4.2;stroke-linecap:round"/>
<path d="M573.86 165.26L570.14 167.41" style="stroke:#fff;stroke-width:3.2;stroke-linecap:round"/>
<ellipse cx="569.94" cy="167.51" rx="2.15" ry="1.85" transform="rotate(60 570.14 167.41)" style="fill:#333;stroke:none"/>
<path d="M573.66 207.3L569.93 209.45" style="stroke:#3a3a3a;stroke-width:4.2;stroke-linecap:round"/>
<path d="M573.66 207.3L569.93 209.45" style="stroke:#fff;stroke-width:3.2;stroke-linecap:round"/>
<ellipse cx="569.73" cy="209.55" rx="2.15" ry="1.85" transform="rotate(60 569.93 209.45)" style="fill:#333;stroke:none"/>
<path d="M573.42 250.78L569.7 252.93" style="stroke:#3a3a3a;stroke-width:4.2;stroke-linecap:round"/>
<path d="M573.42 250.78L569.7 252.93" style="stroke:#fff;stroke-width:3.2;stroke-linecap:round"/>
<ellipse cx="569.5" cy="253.03" rx="2.15" ry="1.85" transform="rotate(60 569.7 252.93)" style="fill:#333;stroke:none"/>
<path d="M572.44 144.89L568.72 147.04" style="stroke:#3a3a3a;stroke-width:4.2;stroke-linecap:round"/>
<path d="M572.44 144.89L568.72 147.04" style="stroke:#fff;stroke-width:3.2;stroke-linecap:round"/>
<ellipse cx="568.52" cy="147.14" rx="2.15" ry="1.85" transform="rotate(60 568.72 147.04)" style="fill:#333;stroke:none"/>
<path d="M571.87 228.14L568.15 230.29" style="stroke:#3a3a3a;stroke-width:4.2;stroke-linecap:round"/>
<path d="M571.87 228.14L568.15 230.29" style="stroke:#fff;stroke-width:3.2;stroke-linecap:round"/>
<ellipse cx="567.95" cy="230.39" rx="2.15" ry="1.85" transform="rotate(60 568.15 230.29)" style="fill:#333;stroke:none"/>
<path d="M570.36 264.74L566.64 266.89" style="stroke:#3a3a3a;stroke-width:4.2;stroke-linecap:round"/>
<path d="M570.36 264.74L566.64 266.89" style="stroke:#fff;stroke-width:3.2;stroke-linecap:round"/>
<ellipse cx="566.44" cy="266.99" rx="2.15" ry="1.85" transform="rotate(60 566.64 266.89)" style="fill:#333;stroke:none"/>
<path d="M570.12 150.49L566.39 152.64" style="stroke:#3a3a3a;stroke-width:4.2;stroke-linecap:round"/>
<path d="M570.12 150.49L566.39 152.64" style="stroke:#fff;stroke-width:3.2;stroke-linecap:round"/>
<ellipse cx="566.19" cy="152.74" rx="2.15" ry="1.85" transform="rotate(60 566.39 152.64)" style="fill:#333;stroke:none"/>
<path d="M570.05 238.53L566.33 240.68" style="stroke:#3a3a3a;stroke-width:4.2;stroke-linecap:round"/>
<path d="M570.05 238.53L566.33 240.68" style="stroke:#fff;stroke-width:3.2;stroke-linecap:round"/>
<ellipse cx="566.13" cy="240.78" rx="2.15" ry="1.85" transform="rotate(60 566.33 240.68)" style="fill:#333;stroke:none"/>
<path d="M569.33 216.36L565.61 218.51" style="stroke:#3a3a3a;stroke-width:4.2;stroke-linecap:round"/>
<path d="M569.33 216.36L565.61 218.51" style="stroke:#fff;stroke-width:3.2;stroke-linecap:round"/>
<ellipse cx="565.41" cy="218.61" rx="2.15" ry="1.85" transform="rotate(60 565.61 218.51)" style="fill:#333;stroke:none"/>
<path d="M568.44 175.11L564.72 177.26" style="stroke:#3a3a3a;stroke-width:4.2;stroke-linecap:round"/>
<path d="M568.44 175.11L564.72 177.26" style="stroke:#fff;stroke-width:3.2;stroke-linecap:round"/>
<ellipse cx="564.52" cy="177.36" rx="2.15" ry="1.85" transform="rotate(60 564.72 177.26)" style="fill:#333;stroke:none"/>
<path d="M566.94 127.18L563.21 129.33" style="stroke:#3a3a3a;stroke-width:4.2;stroke-linecap:round"/>
<path d="M566.94 127.18L563.21 129.33" style="stroke:#fff;stroke-width:3.2;stroke-linecap:round"/>
<ellipse cx="563.01" cy="129.43" rx="2.15" ry="1.85" transform="rotate(60 563.21 129.33)" style="fill:#333;stroke:none"/>
<path d="M565.36 115.2L561.63 117.35" style="stroke:#3a3a3a;stroke-width:4.2;stroke-linecap:round"/>
<path d="M565.36 115.2L561.63 117.35" style="stroke:#fff;stroke-width:3.2;stroke-linecap:round"/>
<ellipse cx="561.43" cy="117.45" rx="2.15" ry="1.85" transform="rotate(60 561.63 117.35)" style="fill:#333;stroke:none"/>
<path d="M564.3 136.78L560.58 138.93" style="stroke:#3a3a3a;stroke-width:4.2;stroke-linecap:round"/>
<path d="M564.3 136.78L560.58 138.93" style="stroke:#fff;stroke-width:3.2;stroke-linecap:round"/>
<ellipse cx="560.38" cy="139.03" rx="2.15" ry="1.85" transform="rotate(60 560.58 138.93)" style="fill:#333;stroke:none"/>
<path d="M563.84 183.53L560.12 185.68" style="stroke:#3a3a3a;stroke-width:4.2;stroke-linecap:round"/>
<path d="M563.84 183.53L560.12 185.68" style="stroke:#fff;stroke-width:3.2;stroke-linecap:round"/>
<ellipse cx="559.92" cy="185.78" rx="2.15" ry="1.85" transform="rotate(60 560.12 185.68)" style="fill:#333;stroke:none"/>
<path d="M563.44 225.13L559.71 227.28" style="stroke:#3a3a3a;stroke-width:4.2;stroke-linecap:round"/>
<path d="M563.44 225.13L559.71 227.28" style="stroke:#fff;stroke-width:3.2;stroke-linecap:round"/>
<ellipse cx="559.51" cy="227.38" rx="2.15" ry="1.85" transform="rotate(60 559.71 227.28)" style="fill:#333;stroke:none"/>
<path d="M562.41 248.71L558.68 250.86" style="stroke:#3a3a3a;stroke-width:4.2;stroke-linecap:round"/>
<path d="M562.41 248.71L558.68 250.86" style="stroke:#fff;stroke-width:3.2;stroke-linecap:round"/>
<ellipse cx="558.48" cy="250.96" rx="2.15" ry="1.85" transform="rotate(60 558.68 250.86)" style="fill:#333;stroke:none"/>
<path d="M561.17 267.54L557.45 269.69" style="stroke:#3a3a3a;stroke-width:4.2;stroke-linecap:round"/>
<path d="M561.17 267.54L557.45 269.69" style="stroke:#fff;stroke-width:3.2;stroke-linecap:round"/>
<ellipse cx="557.25" cy="269.79" rx="2.15" ry="1.85" transform="rotate(60 557.45 269.69)" style="fill:#333;stroke:none"/>
<path d="M561.08 203.54L557.35 205.69" style="stroke:#3a3a3a;stroke-width:4.2;stroke-linecap:round"/>
<path d="M561.08 203.54L557.35 205.69" style="stroke:#fff;stroke-width:3.2;stroke-linecap:round"/>
<ellipse cx="557.15" cy="205.79" rx="2.15" ry="1.85" transform="rotate(60 557.35 205.69)" style="fill:#333;stroke:none"/>
<path d="M559.96 148.21L556.24 150.36" style="stroke:#3a3a3a;stroke-width:4.2;stroke-linecap:round"/>
<path d="M559.96 148.21L556.24 150.36" style="stroke:#fff;stroke-width:3.2;stroke-linecap:round"/>
<ellipse cx="556.04" cy="150.46" rx="2.15" ry="1.85" transform="rotate(60 556.24 150.36)" style="fill:#333;stroke:none"/>
<path d="M559.72 167.37L556 169.52" style="stroke:#3a3a3a;stroke-width:4.2;stroke-linecap:round"/>
<path d="M559.72 167.37L556 169.52" style="stroke:#fff;stroke-width:3.2;stroke-linecap:round"/>
<ellipse cx="555.8" cy="169.62" rx="2.15" ry="1.85" transform="rotate(60 556 169.52)" style="fill:#333;stroke:none"/>
<path d="M559.56 253.92L555.84 256.07" style="stroke:#3a3a3a;stroke-width:4.2;stroke-linecap:round"/>
<path d="M559.56 253.92L555.84 256.07" style="stroke:#fff;stroke-width:3.2;stroke-linecap:round"/>
<ellipse cx="555.64" cy="256.17" rx="2.15" ry="1.85" transform="rotate(60 555.84 256.07)" style="fill:#333;stroke:none"/>
<path d="M559.42 210.19L555.7 212.34" style="stroke:#3a3a3a;stroke-width:4.2;stroke-linecap:round"/>
<path d="M559.42 210.19L555.7 212.34" style="stroke:#fff;stroke-width:3.2;stroke-linecap:round"/>
<ellipse cx="555.5" cy="212.44" rx="2.15" ry="1.85" transform="rotate(60 555.7 212.34)" style="fill:#333;stroke:none"/>
<path d="M557.95 125.52L554.23 127.67" style="stroke:#3a3a3a;stroke-width:4.2;stroke-linecap:round"/>
<path d="M557.95 125.52L554.23 127.67" style="stroke:#fff;stroke-width:3.2;stroke-linecap:round"/>
<ellipse cx="554.03" cy="127.77" rx="2.15" ry="1.85" transform="rotate(60 554.23 127.67)" style="fill:#333;stroke:none"/>
<path d="M556.74 234.97L553.01 237.12" style="stroke:#3a3a3a;stroke-width:4.2;stroke-linecap:round"/>
<path d="M556.74 234.97L553.01 237.12" style="stroke:#fff;stroke-width:3.2;stroke-linecap:round"/>
<ellipse cx="552.81" cy="237.22" rx="2.15" ry="1.85" transform="rotate(60 553.01 237.12)" style="fill:#333;stroke:none"/>
<path d="M555.81 185.85L552.09 188" style="stroke:#3a3a3a;stroke-width:4.2;stroke-linecap:round"/>
<path d="M555.81 185.85L552.09 188" style="stroke:#fff;stroke-width:3.2;stroke-linecap:round"/>
<ellipse cx="551.89" cy="188.1" rx="2.15" ry="1.85" transform="rotate(60 552.09 188)" style="fill:#333;stroke:none"/>
<path d="M554.78 130.8L551.06 132.95" style="stroke:#3a3a3a;stroke-width:4.2;stroke-linecap:round"/>
<path d="M554.78 130.8L551.06 132.95" style="stroke:#fff;stroke-width:3.2;stroke-linecap:round"/>
<ellipse cx="550.86" cy="133.05" rx="2.15" ry="1.85" transform="rotate(60 551.06 132.95)" style="fill:#333;stroke:none"/>
<path d="M553.84 239.68L550.12 241.83" style="stroke:#3a3a3a;stroke-width:4.2;stroke-linecap:round"/>
<path d="M553.84 239.68L550.12 241.83" style="stroke:#fff;stroke-width:3.2;stroke-linecap:round"/>
<ellipse cx="549.92" cy="241.93" rx="2.15" ry="1.85" transform="rotate(60 550.12 241.83)" style="fill:#333;stroke:none"/>
<path d="M553.63 178.42L549.91 180.57" style="stroke:#3a3a3a;stroke-width:4.2;stroke-linecap:round"/>
<path d="M553.63 178.42L549.91 180.57" style="stroke:#fff;stroke-width:3.2;stroke-linecap:round"/>
<ellipse cx="549.71" cy="180.67" rx="2.15" ry="1.85" transform="rotate(60 549.91 180.57)" style="fill:#333;stroke:none"/>
<path d="M553.23 198.55L549.51 200.7" style="stroke:#3a3a3a;stroke-width:4.2;stroke-linecap:round"/>
<path d="M553.23 198.55L549.51 200.7" style="stroke:#fff;stroke-width:3.2;stroke-linecap:round"/>
<ellipse cx="549.31" cy="200.8" rx="2.15" ry="1.85" transform="rotate(60 549.51 200.7)" style="fill:#333;stroke:none"/>
<path d="M551.63 110.94L547.91 113.09" style="stroke:#3a3a3a;stroke-width:4.2;stroke-linecap:round"/>
<path d="M551.63 110.94L547.91 113.09" style="stroke:#fff;stroke-width:3.2;stroke-linecap:round"/>
<ellipse cx="547.71" cy="113.19" rx="2.15" ry="1.85" transform="rotate(60 547.91 113.09)" style="fill:#333;stroke:none"/>
<path d="M551.4 219.73L547.68 221.88" style="stroke:#3a3a3a;stroke-width:4.2;stroke-linecap:round"/>
<path d="M551.4 219.73L547.68 221.88" style="stroke:#fff;stroke-width:3.2;stroke-linecap:round"/>
<ellipse cx="547.48" cy="221.98" rx="2.15" ry="1.85" transform="rotate(60 547.68 221.88)" style="fill:#333;stroke:none"/>
<path d="M550.89 264.12L547.17 266.27" style="stroke:#3a3a3a;stroke-width:4.2;stroke-linecap:round"/>
<path d="M550.89 264.12L547.17 266.27" style="stroke:#fff;stroke-width:3.2;stroke-linecap:round"/>
<ellipse cx="546.97" cy="266.37" rx="2.15" ry="1.85" transform="rotate(60 547.17 266.27)" style="fill:#333;stroke:none"/>
<path d="M550.78 153.64L547.05 155.79" style="stroke:#3a3a3a;stroke-width:4.2;stroke-linecap:round"/>
<path d="M550.78 153.64L547.05 155.79" style="stroke:#fff;stroke-width:3.2;stroke-linecap:round"/>
<ellipse cx="546.85" cy="155.89" rx="2.15" ry="1.85" transform="rotate(60 547.05 155.79)" style="fill:#333;stroke:none"/>
<path d="M549.5 162.85L545.77 165" style="stroke:#3a3a3a;stroke-width:4.2;stroke-linecap:round"/>
<path d="M549.5 162.85L545.77 165" style="stroke:#fff;stroke-width:3.2;stroke-linecap:round"/>
<ellipse cx="545.57" cy="165.1" rx="2.15" ry="1.85" transform="rotate(60 545.77 165)" style="fill:#333;stroke:none"/>
<path d="M549.06 252.33L545.34 254.48" style="stroke:#3a3a3a;stroke-width:4.2;stroke-linecap:round"/>
<path d="M549.06 252.33L545.34 254.48" style="stroke:#fff;stroke-width:3.2;stroke-linecap:round"/>
<ellipse cx="545.14" cy="254.58" rx="2.15" ry="1.85" transform="rotate(60 545.34 254.48)" style="fill:#333;stroke:none"/>
<path d="M547.01 140.28L543.29 142.43" style="stroke:#3a3a3a;stroke-width:4.2;stroke-linecap:round"/>
<path d="M547.01 140.28L543.29 142.43" style="stroke:#fff;stroke-width:3.2;stroke-linecap:round"/>
<ellipse cx="543.09" cy="142.53" rx="2.15" ry="1.85" transform="rotate(60 543.29 142.43)" style="fill:#333;stroke:none"/>
<path d="M546.32 224.29L542.59 226.44" style="stroke:#3a3a3a;stroke-width:4.2;stroke-linecap:round"/>
<path d="M546.32 224.29L542.59 226.44" style="stroke:#fff;stroke-width:3.2;stroke-linecap:round"/>
<ellipse cx="542.39" cy="226.54" rx="2.15" ry="1.85" transform="rotate(60 542.59 226.44)" style="fill:#333;stroke:none"/>
<path d="M546.07 184.49L542.35 186.64" style="stroke:#3a3a3a;stroke-width:4.2;stroke-linecap:round"/>
<path d="M546.07 184.49L542.35 186.64" style="stroke:#fff;stroke-width:3.2;stroke-linecap:round"/>
<ellipse cx="542.15" cy="186.74" rx="2.15" ry="1.85" transform="rotate(60 542.35 186.64)" style="fill:#333;stroke:none"/>
<path d="M545.49 201.8L541.76 203.95" style="stroke:#3a3a3a;stroke-width:4.2;stroke-linecap:round"/>
<path d="M545.49 201.8L541.76 203.95" style="stroke:#fff;stroke-width:3.2;stroke-linecap:round"/>
<ellipse cx="541.56" cy="204.05" rx="2.15" ry="1.85" transform="rotate(60 541.76 203.95)" style="fill:#333;stroke:none"/>
<path d="M544.41 125.33L540.69 127.48" style="stroke:#3a3a3a;stroke-width:4.2;stroke-linecap:round"/>
<path d="M544.41 125.33L540.69 127.48" style="stroke:#fff;stroke-width:3.2;stroke-linecap:round"/>
<ellipse cx="540.49" cy="127.58" rx="2.15" ry="1.85" transform="rotate(60 540.69 127.48)" style="fill:#333;stroke:none"/>
<path d="M542.94 212.18L539.21 214.33" style="stroke:#3a3a3a;stroke-width:4.2;stroke-linecap:round"/>
<path d="M542.94 212.18L539.21 214.33" style="stroke:#fff;stroke-width:3.2;stroke-linecap:round"/>
<ellipse cx="539.01" cy="214.43" rx="2.15" ry="1.85" transform="rotate(60 539.21 214.33)" style="fill:#333;stroke:none"/>
<path d="M542.33 170.29L538.61 172.44" style="stroke:#3a3a3a;stroke-width:4.2;stroke-linecap:round"/>
<path d="M542.33 170.29L538.61 172.44" style="stroke:#fff;stroke-width:3.2;stroke-linecap:round"/>
<ellipse cx="538.41" cy="172.54" rx="2.15" ry="1.85" transform="rotate(60 538.61 172.44)" style="fill:#333;stroke:none"/>
<path d="M542.07 106.38L538.34 108.53" style="stroke:#3a3a3a;stroke-width:4.2;stroke-linecap:round"/>
<path d="M542.07 106.38L538.34 108.53" style="stroke:#fff;stroke-width:3.2;stroke-linecap:round"/>
<ellipse cx="538.14" cy="108.63" rx="2.15" ry="1.85" transform="rotate(60 538.34 108.53)" style="fill:#333;stroke:none"/>
<path d="M541.77 190.28L538.05 192.43" style="stroke:#3a3a3a;stroke-width:4.2;stroke-linecap:round"/>
<path d="M541.77 190.28L538.05 192.43" style="stroke:#fff;stroke-width:3.2;stroke-linecap:round"/>
<ellipse cx="537.85" cy="192.53" rx="2.15" ry="1.85" transform="rotate(60 538.05 192.43)" style="fill:#333;stroke:none"/>
<path d="M541.61 258.24L537.89 260.39" style="stroke:#3a3a3a;stroke-width:4.2;stroke-linecap:round"/>
<path d="M541.61 258.24L537.89 260.39" style="stroke:#fff;stroke-width:3.2;stroke-linecap:round"/>
<ellipse cx="537.69" cy="260.49" rx="2.15" ry="1.85" transform="rotate(60 537.89 260.39)" style="fill:#333;stroke:none"/>
<path d="M540.58 235.55L536.86 237.7" style="stroke:#3a3a3a;stroke-width:4.2;stroke-linecap:round"/>
<path d="M540.58 235.55L536.86 237.7" style="stroke:#fff;stroke-width:3.2;stroke-linecap:round"/>
<ellipse cx="536.66" cy="237.8" rx="2.15" ry="1.85" transform="rotate(60 536.86 237.7)" style="fill:#333;stroke:none"/>
<path d="M538.86 180.71L535.14 182.86" style="stroke:#3a3a3a;stroke-width:4.2;stroke-linecap:round"/>
<path d="M538.86 180.71L535.14 182.86" style="stroke:#fff;stroke-width:3.2;stroke-linecap:round"/>
<ellipse cx="534.94" cy="182.96" rx="2.15" ry="1.85" transform="rotate(60 535.14 182.86)" style="fill:#333;stroke:none"/>
<path d="M538.18 219.47L534.46 221.62" style="stroke:#3a3a3a;stroke-width:4.2;stroke-linecap:round"/>
<path d="M538.18 219.47L534.46 221.62" style="stroke:#fff;stroke-width:3.2;stroke-linecap:round"/>
<ellipse cx="534.26" cy="221.72" rx="2.15" ry="1.85" transform="rotate(60 534.46 221.62)" style="fill:#333;stroke:none"/>
<path d="M537.4 110.23L533.68 112.38" style="stroke:#3a3a3a;stroke-width:4.2;stroke-linecap:round"/>
<path d="M537.4 110.23L533.68 112.38" style="stroke:#fff;stroke-width:3.2;stroke-linecap:round"/>
<ellipse cx="533.48" cy="112.48" rx="2.15" ry="1.85" transform="rotate(60 533.68 112.38)" style="fill:#333;stroke:none"/>
<path d="M536.64 242.67L532.92 244.82" style="stroke:#3a3a3a;stroke-width:4.2;stroke-linecap:round"/>
<path d="M536.64 242.67L532.92 244.82" style="stroke:#fff;stroke-width:3.2;stroke-linecap:round"/>
<ellipse cx="532.72" cy="244.92" rx="2.15" ry="1.85" transform="rotate(60 532.92 244.82)" style="fill:#333;stroke:none"/>
<path d="M536.28 201.42L532.55 203.57" style="stroke:#3a3a3a;stroke-width:4.2;stroke-linecap:round"/>
<path d="M536.28 201.42L532.55 203.57" style="stroke:#fff;stroke-width:3.2;stroke-linecap:round"/>
<ellipse cx="532.35" cy="203.67" rx="2.15" ry="1.85" transform="rotate(60 532.55 203.57)" style="fill:#333;stroke:none"/>
<path d="M535.24 153.09L531.52 155.24" style="stroke:#3a3a3a;stroke-width:4.2;stroke-linecap:round"/>
<path d="M535.24 153.09L531.52 155.24" style="stroke:#fff;stroke-width:3.2;stroke-linecap:round"/>
<ellipse cx="531.32" cy="155.34" rx="2.15" ry="1.85" transform="rotate(60 531.52 155.24)" style="fill:#333;stroke:none"/>
<path d="M535.18 133.44L531.46 135.59" style="stroke:#3a3a3a;stroke-width:4.2;stroke-linecap:round"/>
<path d="M535.18 133.44L531.46 135.59" style="stroke:#fff;stroke-width:3.2;stroke-linecap:round"/>
<ellipse cx="531.26" cy="135.69" rx="2.15" ry="1.85" transform="rotate(60 531.46 135.59)" style="fill:#333;stroke:none"/>
<path d="M534.4 121.25L530.68 123.4" style="stroke:#3a3a3a;stroke-width:4.2;stroke-linecap:round"/>
<path d="M534.4 121.25L530.68 123.4" style="stroke:#fff;stroke-width:3.2;stroke-linecap:round"/>
<ellipse cx="530.48" cy="123.5" rx="2.15" ry="1.85" transform="rotate(60 530.68 123.4)" style="fill:#333;stroke:none"/>
<path d="M534.37 187.76L530.65 189.91" style="stroke:#3a3a3a;stroke-width:4.2;stroke-linecap:round"/>
<path d="M534.37 187.76L530.65 189.91" style="stroke:#fff;stroke-width:3.2;stroke-linecap:round"/>
<ellipse cx="530.45" cy="190.01" rx="2.15" ry="1.85" transform="rotate(60 530.65 189.91)" style="fill:#333;stroke:none"/>
<path d="M533.96 208.73L530.24 210.88" style="stroke:#3a3a3a;stroke-width:4.2;stroke-linecap:round"/>
<path d="M533.96 208.73L530.24 210.88" style="stroke:#fff;stroke-width:3.2;stroke-linecap:round"/>
<ellipse cx="530.04" cy="210.98" rx="2.15" ry="1.85" transform="rotate(60 530.24 210.88)" style="fill:#333;stroke:none"/>
<path d="M533.63 230.76L529.91 232.91" style="stroke:#3a3a3a;stroke-width:4.2;stroke-linecap:round"/>
<path d="M533.63 230.76L529.91 232.91" style="stroke:#fff;stroke-width:3.2;stroke-linecap:round"/>
<ellipse cx="529.71" cy="233.01" rx="2.15" ry="1.85" transform="rotate(60 529.91 232.91)" style="fill:#333;stroke:none"/>
<path d="M532.81 162.86L529.09 165.01" style="stroke:#3a3a3a;stroke-width:4.2;stroke-linecap:round"/>
<path d="M532.81 162.86L529.09 165.01" style="stroke:#fff;stroke-width:3.2;stroke-linecap:round"/>
<ellipse cx="528.89" cy="165.11" rx="2.15" ry="1.85" transform="rotate(60 529.09 165.01)" style="fill:#333;stroke:none"/>
<path d="M532.19 250.27L528.47 252.42" style="stroke:#3a3a3a;stroke-width:4.2;stroke-linecap:round"/>
<path d="M532.19 250.27L528.47 252.42" style="stroke:#fff;stroke-width:3.2;stroke-linecap:round"/>
<ellipse cx="528.27" cy="252.52" rx="2.15" ry="1.85" transform="rotate(60 528.47 252.42)" style="fill:#333;stroke:none"/>
<path d="M530.1 138.66L526.38 140.81" style="stroke:#3a3a3a;stroke-width:4.2;stroke-linecap:round"/>
<path d="M530.1 138.66L526.38 140.81" style="stroke:#fff;stroke-width:3.2;stroke-linecap:round"/>
<ellipse cx="526.18" cy="140.91" rx="2.15" ry="1.85" transform="rotate(60 526.38 140.81)" style="fill:#333;stroke:none"/>
<path d="M528.84 148.77L525.11 150.92" style="stroke:#3a3a3a;stroke-width:4.2;stroke-linecap:round"/>
<path d="M528.84 148.77L525.11 150.92" style="stroke:#fff;stroke-width:3.2;stroke-linecap:round"/>
<ellipse cx="524.91" cy="151.02" rx="2.15" ry="1.85" transform="rotate(60 525.11 150.92)" style="fill:#333;stroke:none"/>
<path d="M528.35 128.23L524.62 130.38" style="stroke:#3a3a3a;stroke-width:4.2;stroke-linecap:round"/>
<path d="M528.35 128.23L524.62 130.38" style="stroke:#fff;stroke-width:3.2;stroke-linecap:round"/>
<ellipse cx="524.42" cy="130.48" rx="2.15" ry="1.85" transform="rotate(60 524.62 130.38)" style="fill:#333;stroke:none"/>
<path d="M528.32 237.37L524.6 239.52" style="stroke:#3a3a3a;stroke-width:4.2;stroke-linecap:round"/>
<path d="M528.32 237.37L524.6 239.52" style="stroke:#fff;stroke-width:3.2;stroke-linecap:round"/>
<ellipse cx="524.4" cy="239.62" rx="2.15" ry="1.85" transform="rotate(60 524.6 239.52)" style="fill:#333;stroke:none"/>
<path d="M528.02 194.04L524.3 196.19" style="stroke:#3a3a3a;stroke-width:4.2;stroke-linecap:round"/>
<path d="M528.02 194.04L524.3 196.19" style="stroke:#fff;stroke-width:3.2;stroke-linecap:round"/>
<ellipse cx="524.1" cy="196.29" rx="2.15" ry="1.85" transform="rotate(60 524.3 196.19)" style="fill:#333;stroke:none"/>
<path d="M525.58 213.37L521.86 215.52" style="stroke:#3a3a3a;stroke-width:4.2;stroke-linecap:round"/>
<path d="M525.58 213.37L521.86 215.52" style="stroke:#fff;stroke-width:3.2;stroke-linecap:round"/>
<ellipse cx="521.66" cy="215.62" rx="2.15" ry="1.85" transform="rotate(60 521.86 215.52)" style="fill:#333;stroke:none"/>
<path d="M525.23 105.68L521.5 107.83" style="stroke:#3a3a3a;stroke-width:4.2;stroke-linecap:round"/>
<path d="M525.23 105.68L521.5 107.83" style="stroke:#fff;stroke-width:3.2;stroke-linecap:round"/>
<ellipse cx="521.3" cy="107.93" rx="2.15" ry="1.85" transform="rotate(60 521.5 107.83)" style="fill:#333;stroke:none"/>
<path d="M522.97 116.33L519.25 118.48" style="stroke:#3a3a3a;stroke-width:4.2;stroke-linecap:round"/>
<path d="M522.97 116.33L519.25 118.48" style="stroke:#fff;stroke-width:3.2;stroke-linecap:round"/>
<ellipse cx="519.05" cy="118.58" rx="2.15" ry="1.85" transform="rotate(60 519.25 118.48)" style="fill:#333;stroke:none"/>
<path d="M521.94 178.6L518.22 180.75" style="stroke:#3a3a3a;stroke-width:4.2;stroke-linecap:round"/>
<path d="M521.94 178.6L518.22 180.75" style="stroke:#fff;stroke-width:3.2;stroke-linecap:round"/>
<ellipse cx="518.02" cy="180.85" rx="2.15" ry="1.85" transform="rotate(60 518.22 180.75)" style="fill:#333;stroke:none"/>
<path d="M521.56 159.14L517.84 161.29" style="stroke:#3a3a3a;stroke-width:4.2;stroke-linecap:round"/>
<path d="M521.56 159.14L517.84 161.29" style="stroke:#fff;stroke-width:3.2;stroke-linecap:round"/>
<ellipse cx="517.64" cy="161.39" rx="2.15" ry="1.85" transform="rotate(60 517.84 161.29)" style="fill:#333;stroke:none"/>
<path d="M520.72 201.39L517 203.54" style="stroke:#3a3a3a;stroke-width:4.2;stroke-linecap:round"/>
<path d="M520.72 201.39L517 203.54" style="stroke:#fff;stroke-width:3.2;stroke-linecap:round"/>
<ellipse cx="516.8" cy="203.64" rx="2.15" ry="1.85" transform="rotate(60 517 203.54)" style="fill:#333;stroke:none"/>
<path d="M520.6 223.39L516.88 225.54" style="stroke:#3a3a3a;stroke-width:4.2;stroke-linecap:round"/>
<path d="M520.6 223.39L516.88 225.54" style="stroke:#fff;stroke-width:3.2;stroke-linecap:round"/>
<ellipse cx="516.68" cy="225.64" rx="2.15" ry="1.85" transform="rotate(60 516.88 225.54)" style="fill:#333;stroke:none"/>
<path d="M520.02 137.02L516.3 139.17" style="stroke:#3a3a3a;stroke-width:4.2;stroke-linecap:round"/>
<path d="M520.02 137.02L516.3 139.17" style="stroke:#fff;stroke-width:3.2;stroke-linecap:round"/>
<ellipse cx="516.1" cy="139.27" rx="2.15" ry="1.85" transform="rotate(60 516.3 139.17)" style="fill:#333;stroke:none"/>
<path d="M517.81 186.18L514.08 188.33" style="stroke:#3a3a3a;stroke-width:4.2;stroke-linecap:round"/>
<path d="M517.81 186.18L514.08 188.33" style="stroke:#fff;stroke-width:3.2;stroke-linecap:round"/>
<ellipse cx="513.88" cy="188.43" rx="2.15" ry="1.85" transform="rotate(60 514.08 188.33)" style="fill:#333;stroke:none"/>
<path d="M517.39 167.04L513.67 169.19" style="stroke:#3a3a3a;stroke-width:4.2;stroke-linecap:round"/>
<path d="M517.39 167.04L513.67 169.19" style="stroke:#fff;stroke-width:3.2;stroke-linecap:round"/>
<ellipse cx="513.47" cy="169.29" rx="2.15" ry="1.85" transform="rotate(60 513.67 169.19)" style="fill:#333;stroke:none"/>
<path d="M516.12 143.07L512.4 145.22" style="stroke:#3a3a3a;stroke-width:4.2;stroke-linecap:round"/>
<path d="M516.12 143.07L512.4 145.22" style="stroke:#fff;stroke-width:3.2;stroke-linecap:round"/>
<ellipse cx="512.2" cy="145.32" rx="2.15" ry="1.85" transform="rotate(60 512.4 145.22)" style="fill:#333;stroke:none"/>
<path d="M515.68 207.06L511.95 209.21" style="stroke:#3a3a3a;stroke-width:4.2;stroke-linecap:round"/>
<path d="M515.68 207.06L511.95 209.21" style="stroke:#fff;stroke-width:3.2;stroke-linecap:round"/>
<ellipse cx="511.75" cy="209.31" rx="2.15" ry="1.85" transform="rotate(60 511.95 209.21)" style="fill:#333;stroke:none"/>
<path d="M514.95 121.73L511.23 123.88" style="stroke:#3a3a3a;stroke-width:4.2;stroke-linecap:round"/>
<path d="M514.95 121.73L511.23 123.88" style="stroke:#fff;stroke-width:3.2;stroke-linecap:round"/>
<ellipse cx="511.03" cy="123.98" rx="2.15" ry="1.85" transform="rotate(60 511.23 123.88)" style="fill:#333;stroke:none"/>
<path d="M512.11 217.87L508.38 220.02" style="stroke:#3a3a3a;stroke-width:4.2;stroke-linecap:round"/>
<path d="M512.11 217.87L508.38 220.02" style="stroke:#fff;stroke-width:3.2;stroke-linecap:round"/>
<ellipse cx="508.18" cy="220.12" rx="2.15" ry="1.85" transform="rotate(60 508.38 220.02)" style="fill:#333;stroke:none"/>
<path d="M510.75 128.03L507.03 130.18" style="stroke:#3a3a3a;stroke-width:4.2;stroke-linecap:round"/>
<path d="M510.75 128.03L507.03 130.18" style="stroke:#fff;stroke-width:3.2;stroke-linecap:round"/>
<ellipse cx="506.83" cy="130.28" rx="2.15" ry="1.85" transform="rotate(60 507.03 130.18)" style="fill:#333;stroke:none"/>
<path d="M510.69 174.99L506.96 177.14" style="stroke:#3a3a3a;stroke-width:4.2;stroke-linecap:round"/>
<path d="M510.69 174.99L506.96 177.14" style="stroke:#fff;stroke-width:3.2;stroke-linecap:round"/>
<ellipse cx="506.76" cy="177.24" rx="2.15" ry="1.85" transform="rotate(60 506.96 177.14)" style="fill:#333;stroke:none"/>
<path d="M509.98 109.05L506.26 111.2" style="stroke:#3a3a3a;stroke-width:4.2;stroke-linecap:round"/>
<path d="M509.98 109.05L506.26 111.2" style="stroke:#fff;stroke-width:3.2;stroke-linecap:round"/>
<ellipse cx="506.06" cy="111.3" rx="2.15" ry="1.85" transform="rotate(60 506.26 111.2)" style="fill:#333;stroke:none"/>
<path d="M509.76 196.24L506.04 198.39" style="stroke:#3a3a3a;stroke-width:4.2;stroke-linecap:round"/>
<path d="M509.76 196.24L506.04 198.39" style="stroke:#fff;stroke-width:3.2;stroke-linecap:round"/>
<ellipse cx="505.84" cy="198.49" rx="2.15" ry="1.85" transform="rotate(60 506.04 198.39)" style="fill:#333;stroke:none"/>
<path d="M508.43 115.91L504.71 118.06" style="stroke:#3a3a3a;stroke-width:4.2;stroke-linecap:round"/>
<path d="M508.43 115.91L504.71 118.06" style="stroke:#fff;stroke-width:3.2;stroke-linecap:round"/>
<ellipse cx="504.51" cy="118.16" rx="2.15" ry="1.85" transform="rotate(60 504.71 118.06)" style="fill:#333;stroke:none"/>
<path d="M507.7 183.62L503.98 185.77" style="stroke:#3a3a3a;stroke-width:4.2;stroke-linecap:round"/>
<path d="M507.7 183.62L503.98 185.77" style="stroke:#fff;stroke-width:3.2;stroke-linecap:round"/>
<ellipse cx="503.78" cy="185.87" rx="2.15" ry="1.85" transform="rotate(60 503.98 185.77)" style="fill:#333;stroke:none"/>
<path d="M507.63 202.31L503.9 204.46" style="stroke:#3a3a3a;stroke-width:4.2;stroke-linecap:round"/>
<path d="M507.63 202.31L503.9 204.46" style="stroke:#fff;stroke-width:3.2;stroke-linecap:round"/>
<ellipse cx="503.7" cy="204.56" rx="2.15" ry="1.85" transform="rotate(60 503.9 204.46)" style="fill:#333;stroke:none"/>
<path d="M507.35 140.01L503.63 142.16" style="stroke:#3a3a3a;stroke-width:4.2;stroke-linecap:round"/>
<path d="M507.35 140.01L503.63 142.16" style="stroke:#fff;stroke-width:3.2;stroke-linecap:round"/>
<ellipse cx="503.43" cy="142.26" rx="2.15" ry="1.85" transform="rotate(60 503.63 142.16)" style="fill:#333;stroke:none"/>
<path d="M505.57 159.28L501.85 161.43" style="stroke:#3a3a3a;stroke-width:4.2;stroke-linecap:round"/>
<path d="M505.57 159.28L501.85 161.43" style="stroke:#fff;stroke-width:3.2;stroke-linecap:round"/>
<ellipse cx="501.65" cy="161.53" rx="2.15" ry="1.85" transform="rotate(60 501.85 161.43)" style="fill:#333;stroke:none"/>
<path d="M502.44 191.94L498.72 194.09" style="stroke:#3a3a3a;stroke-width:4.2;stroke-linecap:round"/>
<path d="M502.44 191.94L498.72 194.09" style="stroke:#fff;stroke-width:3.2;stroke-linecap:round"/>
<ellipse cx="498.52" cy="194.19" rx="2.15" ry="1.85" transform="rotate(60 498.72 194.09)" style="fill:#333;stroke:none"/>
<path d="M502.12 147.18L498.4 149.33" style="stroke:#3a3a3a;stroke-width:4.2;stroke-linecap:round"/>
<path d="M502.12 147.18L498.4 149.33" style="stroke:#fff;stroke-width:3.2;stroke-linecap:round"/>
<ellipse cx="498.2" cy="149.43" rx="2.15" ry="1.85" transform="rotate(60 498.4 149.33)" style="fill:#333;stroke:none"/>
<path d="M501.03 125.09L497.31 127.24" style="stroke:#3a3a3a;stroke-width:4.2;stroke-linecap:round"/>
<path d="M501.03 125.09L497.31 127.24" style="stroke:#fff;stroke-width:3.2;stroke-linecap:round"/>
<ellipse cx="497.11" cy="127.34" rx="2.15" ry="1.85" transform="rotate(60 497.31 127.24)" style="fill:#333;stroke:none"/>
<path d="M500.96 167.95L497.24 170.1" style="stroke:#3a3a3a;stroke-width:4.2;stroke-linecap:round"/>
<path d="M500.96 167.95L497.24 170.1" style="stroke:#fff;stroke-width:3.2;stroke-linecap:round"/>
<ellipse cx="497.04" cy="170.2" rx="2.15" ry="1.85" transform="rotate(60 497.24 170.1)" style="fill:#333;stroke:none"/>
<path d="M497.16 153.39L493.43 155.54" style="stroke:#3a3a3a;stroke-width:4.2;stroke-linecap:round"/>
<path d="M497.16 153.39L493.43 155.54" style="stroke:#fff;stroke-width:3.2;stroke-linecap:round"/>
<ellipse cx="493.23" cy="155.64" rx="2.15" ry="1.85" transform="rotate(60 493.43 155.54)" style="fill:#333;stroke:none"/>
<path class="d" d="M470 66L490 77.5L502.8 96"/>
<text x="0" y="0" text-anchor="middle" transform="matrix(0.87 0.5 0 1 484.5 66.2)" style="font-size:13px;stroke:#111;stroke-width:0.4px;" dominant-baseline="central">ø220</text>
<path class="t" d="M687.5 119.2V127.7H691.1V119.2"/>
<path class="t" d="M692.3 119.2V127.7H696.7V119.2"/>
<path class="t" d="M697.3 119.2V124.7H701.7V119.2"/>
<path class="h" d="M702.3 119.2V127.7H706.7V119.2"/>
<path class="t" d="M707.9 119.2V123.7H712.3V119.2"/>
<path class="h" d="M712.9 119.2V122.7H717.3V119.2"/>
<path class="t" d="M717.9 119.2V127.7H721.5V119.2"/>
<path class="t" d="M722.1 119.2V126.2H726.1V119.2"/>
<path class="h" d="M727.3 119.2V126.2H731.7V119.2"/>
<path class="h" d="M733.7 119.2V123.7H738.1V119.2"/>
<path class="t" d="M738.7 119.2V123.7H741.9V119.2"/>
<path class="t" d="M743.1 119.2V124.7H747.5V119.2"/>
<path class="t" d="M748.7 119.2V127.7H752.7V119.2"/>
<path class="h" d="M754.7 119.2V124.7H758.3V119.2"/>
<path class="h" d="M758.9 119.2V127.7H762.9V119.2"/>
<path class="h" d="M763.5 119.2V127.7H767.5V119.2"/>
<path class="h" d="M769.5 119.2V123.7H772.7V119.2"/>
<path class="t" d="M774.7 119.2V124.7H778.7V119.2"/>
<path class="t" d="M779.9 119.2V122.7H784.3V119.2"/>
<path class="t" d="M784.9 119.2V123.7H789.3V119.2"/>
<path class="t" d="M790.5 119.2V122.7H794.9V119.2"/>
<path class="h" d="M796.9 119.2V126.2H800.1V119.2"/>
<path class="t" d="M801.3 119.2V127.7H805.3V119.2"/>
<path class="t" d="M805.9 119.2V122.7H809.9V119.2"/>
<path class="h" d="M811.9 119.2V123.7H815.1V119.2"/>
<path class="h" d="M816.3 119.2V123.7H820.3V119.2"/>
<path class="h" d="M821.5 119.2V124.7H825.5V119.2"/>
<path class="h" d="M826.7 119.2V126.2H831.1V119.2"/>
<path class="h" d="M832.3 119.2V127.7H835.5V119.2"/>
<path class="h" d="M837.5 119.2V126.2H841.5V119.2"/>
<path class="t" d="M843.5 119.2V124.7H847.1V119.2"/>
<path class="t" d="M848.3 119.2V127.7H852.3V119.2"/>
<path class="t" d="M853.5 119.2V122.7H857.5V119.2"/>
<path class="h" d="M859.5 119.2V122.7H863.1V119.2"/>
<path class="h" d="M864.3 119.2V124.7H868.7V119.2"/>
<path class="t" d="M869.9 119.2V126.2H873.9V119.2"/>
<path class="t" d="M874.5 119.2V124.7H877.7V119.2"/>
<path class="h" d="M878.9 119.2V127.7H882.9V119.2"/>
<path class="h" d="M761.14 121.2V126.7H764.94V121.2"/>
<path class="h" d="M827.36 121.2V128.2H831.16V121.2"/>
<path class="h" d="M744.38 121.2V126.7H748.18V121.2"/>
<path class="h" d="M717.62 121.2V125.2H721.42V121.2"/>
<path class="h" d="M863.19 121.2V128.2H866.99V121.2"/>
<path class="h" d="M823.51 121.2V126.7H827.31V121.2"/>
<path class="h" d="M784 121.2V128.2H787.8V121.2"/>
<path class="h" d="M835.04 121.2V125.2H838.84V121.2"/>
<path class="h" d="M755.07 121.2V128.2H758.87V121.2"/>
<path class="h" d="M773.12 121.2V128.2H776.92V121.2"/>
<path class="h" d="M716.3 121.2V128.2H720.1V121.2"/>
<path class="h" d="M754.09 121.2V126.7H757.89V121.2"/>
<path class="h" d="M813.39 121.2V125.2H817.19V121.2"/>
<path class="h" d="M773.66 121.2V125.2H777.46V121.2"/>
<path class="h" d="M713.43 121.2V128.2H717.23V121.2"/>
<path class="h" d="M809.24 121.2V128.2H813.04V121.2"/>
<path class="h" d="M775.79 121.2V125.2H779.59V121.2"/>
<path class="h" d="M832.22 121.2V125.2H836.02V121.2"/>
<path class="h" d="M788.98 121.2V125.2H792.78V121.2"/>
<path class="h" d="M752.94 121.2V128.2H756.74V121.2"/>
<path class="h" d="M730.84 121.2V126.7H734.64V121.2"/>
<path class="h" d="M757.14 121.2V128.2H760.94V121.2"/>
<path class="h" d="M714.37 121.2V128.2H718.17V121.2"/>
<path class="h" d="M758.01 121.2V125.2H761.81V121.2"/>
<path class="h" d="M770.77 121.2V128.2H774.57V121.2"/>
<path class="h" d="M833.37 121.2V126.7H837.17V121.2"/>
<path class="h" d="M778.07 121.2V128.2H781.87V121.2"/>
<path class="h" d="M770.04 121.2V126.7H773.84V121.2"/>
<path class="h" d="M795.48 121.2V125.2H799.28V121.2"/>
<path class="h" d="M854.66 121.2V125.2H858.46V121.2"/>
<path class="h" d="M733.53 121.2V126.7H737.33V121.2"/>
<path class="h" d="M858.47 121.2V128.2H862.27V121.2"/>
<path class="h" d="M865.8 121.2V126.7H869.6V121.2"/>
<path class="h" d="M793.89 121.2V128.2H797.69V121.2"/>
<path class="w" d="M669.6 116.7L669.6 110.6L672 108L680 105L700 101.7L730 99.8L764 99L805.2 99L839.2 99.8L869.2 101.7L889.2 105L897.2 108L899.6 110.6L899.6 116.7Q899.6 119.2 896.6 119.2H672.6Q669.6 119.2 669.6 116.7Z"/>
<path class="k" d="M672.6 119.2C672.2 119 670.7 118.67 670.2 118C669.7 117.33 669.7 116.4 669.6 115.2C669.5 114 669.2 112 669.6 110.8C670 109.6 670.27 108.97 672 108C673.73 107.03 675.33 106.05 680 105C684.67 103.95 691.67 102.57 700 101.7C708.33 100.83 719.33 100.25 730 99.8C740.67 99.35 758.33 99.13 764 99"/>
<path class="k" d="M896.6 119.2C897 119 898.5 118.67 899 118C899.5 117.33 899.5 116.4 899.6 115.2C899.7 114 900 112 899.6 110.8C899.2 109.6 898.93 108.97 897.2 108C895.47 107.03 893.87 106.05 889.2 105C884.53 103.95 877.53 102.57 869.2 101.7C860.87 100.83 849.87 100.25 839.2 99.8C828.53 99.35 810.87 99.13 805.2 99"/>
<path class="k" d="M672.6 119.2L896.6 119.2"/>
<path class="t" d="M670.1 108.7L899.1 108.7"/>
<path class="k" d="M764.5 99V79.2Q764.5 77.6 766.1 77.6H801.8Q803.4 77.6 803.4 79.2V99" style="fill:#fff"/>
<path class="k" d="M772 72V58.4H796V72C796 73.5 793 73.8 793 75.2C793 76.6 795 77 796.5 77.6H771.5C773 77 775 76.6 775 75.2C775 73.8 772 73.5 772 72Z" style="fill:#fff"/>
<path class="t" d="M772.5 72.2L795.5 72.2"/>
<path class="t" d="M775 75.3L793 75.3"/>
<path class="k" d="M780.7 71.8V66.6H787.3V71.8"/>
<path class="d" d="M796.5 58.4L939 58.4"/>
<path class="h" d="M764 129L939 129"/>
<path class="d" d="M880 129L939 129"/>
<path class="d" d="M929.3 58.4L929.3 129"/>
<path class="a" d="M929.3 58.4L931.1 66.4L927.5 66.4Z"/>
<path class="a" d="M929.3 129L927.5 121L931.1 121Z"/>
<text x="0" y="0" text-anchor="middle" transform="matrix(0 -1 1 0 921.3 92.5)" style="font-size:13.4px;stroke:#111;stroke-width:0.4px;" dominant-baseline="central">69</text>
<path class="k" d="M819.4 267.04L817.58 268.23L815.88 269.62L814.31 271.2L812.89 272.98L811.6 274.93L810.47 277.06L809.49 279.35L808.67 281.8L808.01 284.4L807.51 287.14L807.17 290L807.01 292.97L807.01 296.05L807.18 299.22L807.51 302.46L808.01 305.77L808.67 309.14L809.5 312.54L810.48 315.97L811.62 319.41L812.9 322.84L814.33 326.27L815.89 329.66L817.59 333.01L819.42 336.31L821.36 339.54L823.41 342.69L825.57 345.74L827.82 348.69L830.16 351.52L832.57 354.22L835.05 356.79L837.58 359.2L840.16 361.46L842.78 363.55L845.42 365.46L848.08 367.19L850.75 368.73L853.4 370.07L856.05 371.21L858.66 372.15L861.25 372.87L863.78 373.39L866.26 373.68L868.67 373.77L871 373.63L873.25 373.28L875.41 372.72L877.46 371.95L879.4 370.96L887.02 366.56L888.84 365.37L890.54 363.98L892.11 362.4L893.53 360.62L894.82 358.67L895.95 356.54L896.93 354.25L897.75 351.8L898.42 349.2L898.91 346.46L899.25 343.6L899.41 340.63L899.41 337.55L899.25 334.38L898.91 331.14L898.41 327.83L897.75 324.46L896.92 321.06L895.94 317.63L894.81 314.19L893.52 310.76L892.09 307.33L890.53 303.94L888.83 300.59L887 297.29L885.06 294.06L883.01 290.91L880.85 287.86L878.6 284.91L876.26 282.08L873.85 279.38L871.38 276.81L868.84 274.4L866.26 272.14L863.64 270.05L861 268.14L858.34 266.41L855.68 264.87L853.02 263.53L850.37 262.39L847.76 261.45L845.18 260.73L842.64 260.21L840.16 259.92L837.75 259.83L835.42 259.97L833.17 260.32L831.02 260.88L828.96 261.65L827.02 262.64Z" style="fill:#fff"/>
<path class="h" d="M879.4 370.96L881.42 369.63L883.28 368.05L884.98 366.23L886.5 364.18L887.85 361.91L889 359.43L889.96 356.75L890.73 353.89L891.29 350.86L891.65 347.68L891.81 344.35L891.75 340.91L891.5 337.35L891.03 333.71L890.37 329.99L889.5 326.22L888.44 322.42L887.18 318.59L885.75 314.77L884.14 310.98L882.35 307.22L880.41 303.51L878.32 299.89L876.08 296.35L873.72 292.93L871.23 289.63L868.64 286.48L865.96 283.49L863.2 280.66L860.37 278.03L857.48 275.59L854.56 273.37L851.61 271.37L848.65 269.6L845.69 268.07L842.75 266.79L839.85 265.76L836.99 264.99L834.19 264.49L831.46 264.25L828.83 264.28L826.29 264.58L823.86 265.14L821.56 265.96L819.4 267.04"/>
<path class="t" d="M829.75 261.33L827.53 262.36L825.45 263.65L823.53 265.19L821.78 266.98L820.2 269L818.81 271.25L817.61 273.72L816.6 276.39L815.8 279.25L815.2 282.29L814.8 285.49L814.62 288.83L814.65 292.3L814.89 295.89L815.34 299.56L816 303.31L816.86 307.12L817.92 310.96L819.17 314.82L820.62 318.68L822.24 322.52L824.04 326.32L826 330.07L828.12 333.73L830.38 337.3L832.77 340.76L835.28 344.09L837.9 347.27L840.62 350.28L843.42 353.12L846.28 355.77L849.2 358.22L852.16 360.44L855.14 362.44L858.14 364.2L861.12 365.72L864.09 366.98L867.02 367.97L869.9 368.71L872.72 369.17L875.46 369.36L878.1 369.28L880.64 368.93L883.07 368.31L885.36 367.42L887.52 366.27L889.52 364.86"/>
<path class="h" d="M890.88 361.57L892.48 359.65L893.9 357.49L895.12 355.11L896.16 352.53L896.99 349.75L897.62 346.8L898.05 343.68L898.26 340.41L898.27 337.01L898.06 333.5L897.65 329.89L897.03 326.2L896.2 322.45L895.18 318.67L893.96 314.86L892.55 311.05L890.96 307.26L889.2 303.51L887.27 299.81L885.19 296.19L882.97 292.66L880.62 289.25"/>
<path class="t" d="M862.1 328.76L861.55 329.04L860.97 329.25L860.35 329.39L859.71 329.46L859.04 329.47L858.35 329.41L857.64 329.28L856.92 329.09L856.18 328.83L855.44 328.5L854.69 328.12L853.94 327.67L853.19 327.16L852.45 326.6L851.72 325.98L851 325.31L850.3 324.6L849.62 323.84L848.97 323.04L848.34 322.2L847.74 321.34L847.17 320.44L846.64 319.52L846.15 318.59L845.7 317.63L845.29 316.67L844.93 315.7L844.61 314.73L844.34 313.77L844.12 312.82L843.95 311.87L843.84 310.95L843.77 310.05L843.76 309.18L843.8 308.33L843.89 307.53L844.03 306.76L844.22 306.04L844.47 305.36L844.76 304.73L845.1 304.16L845.49 303.64L845.92 303.17L846.39 302.77L846.9 302.44L847.45 302.16L848.03 301.95L848.65 301.81L849.29 301.74L849.96 301.73L850.65 301.79L851.36 301.92L852.08 302.11L852.82 302.37L853.56 302.7L854.31 303.08L855.06 303.53L855.81 304.04L856.55 304.6L857.28 305.22L858 305.89L858.7 306.6L859.38 307.36L860.03 308.16L860.66 309L861.26 309.86L861.83 310.76L862.36 311.68L862.85 312.61L863.3 313.57L863.71 314.53L864.07 315.5L864.39 316.47L864.66 317.43L864.88 318.38L865.05 319.33L865.16 320.25L865.23 321.15L865.24 322.02L865.2 322.87L865.11 323.67L864.97 324.44L864.78 325.16L864.53 325.84L864.24 326.47L863.9 327.04L863.51 327.56L863.08 328.03L862.61 328.43L862.1 328.76"/>
<path class="h" d="M864.29 327.5L863.74 327.77L863.16 327.98L862.54 328.13L861.9 328.2L861.23 328.21L860.54 328.15L859.83 328.02L859.11 327.82L858.37 327.56L857.63 327.24L856.88 326.85L856.13 326.4L855.38 325.9L854.64 325.33L853.91 324.72L853.19 324.05L852.49 323.33L851.81 322.58L851.16 321.78L850.53 320.94L849.93 320.07L849.36 319.18L848.83 318.26L848.34 317.32L847.89 316.37L847.48 315.41L847.12 314.44L846.8 313.47L846.53 312.51L846.31 311.55L846.14 310.61L846.02 309.69L845.96 308.79L845.94 307.91L845.98 307.07L846.07 306.27L846.22 305.5L846.41 304.77L846.66 304.1L846.95 303.47L847.29 302.89L847.67 302.37L848.1 301.91L848.58 301.51L849.09 301.17L849.64 300.9L850.22 300.69L850.83 300.55L851.48 300.48L852.14 300.47L852.83 300.53L853.54 300.66L854.27 300.85L855 301.11L855.75 301.43L856.5 301.82L857.25 302.27L857.99 302.78L858.73 303.34L859.47 303.96L860.18 304.63L860.88 305.34L861.56 306.1L862.22 306.9L862.85 307.73L863.45 308.6L864.01 309.5L864.54 310.41L865.04 311.35L865.49 312.3L865.9 313.27L866.26 314.23L866.58 315.2L866.85 316.17L867.07 317.12L867.23 318.06L867.35 318.99L867.42 319.89L867.43 320.76L867.39 321.6L867.3 322.41L867.16 323.18L866.96 323.9L866.72 324.58L866.43 325.21L866.09 325.78L865.7 326.3L865.27 326.76L864.8 327.16L864.29 327.5"/>
<path class="h" d="M866.48 326.24L865.93 326.51L865.34 326.72L864.73 326.86L864.09 326.94L863.42 326.94L862.73 326.88L862.02 326.76L861.3 326.56L860.56 326.3L859.81 325.98L859.07 325.59L858.32 325.14L857.57 324.63L856.83 324.07L856.1 323.45L855.38 322.79L854.68 322.07L854 321.31L853.34 320.51L852.71 319.68L852.12 318.81L851.55 317.92L851.02 317L850.53 316.06L850.08 315.11L849.67 314.15L849.3 313.18L848.99 312.21L848.72 311.25L848.5 310.29L848.33 309.35L848.21 308.43L848.15 307.53L848.13 306.65L848.17 305.81L848.26 305L848.4 304.24L848.6 303.51L848.84 302.83L849.14 302.21L849.48 301.63L849.86 301.11L850.29 300.65L850.76 300.25L851.27 299.91L851.82 299.64L852.41 299.43L853.02 299.29L853.66 299.21L854.33 299.21L855.02 299.27L855.73 299.39L856.45 299.59L857.19 299.85L857.94 300.17L858.68 300.56L859.43 301.01L860.18 301.52L860.92 302.08L861.65 302.7L862.37 303.36L863.07 304.08L863.75 304.84L864.41 305.64L865.04 306.47L865.63 307.34L866.2 308.23L866.73 309.15L867.22 310.09L867.67 311.04L868.08 312L868.45 312.97L868.76 313.94L869.03 314.9L869.25 315.86L869.42 316.8L869.54 317.72L869.6 318.62L869.62 319.5L869.58 320.34L869.49 321.15L869.35 321.91L869.15 322.64L868.91 323.32L868.61 323.94L868.27 324.52L867.89 325.04L867.46 325.5L866.99 325.9L866.48 326.24"/>
<path class="h" d="M868.66 324.98L868.11 325.25L867.53 325.46L866.92 325.6L866.27 325.67L865.61 325.68L864.92 325.62L864.21 325.49L863.48 325.3L862.75 325.04L862 324.72L861.25 324.33L860.5 323.88L859.76 323.37L859.02 322.81L858.28 322.19L857.57 321.52L856.87 320.81L856.19 320.05L855.53 319.25L854.9 318.42L854.3 317.55L853.74 316.65L853.21 315.74L852.71 314.8L852.26 313.85L851.85 312.88L851.49 311.92L851.17 310.95L850.9 309.98L850.68 309.03L850.52 308.09L850.4 307.16L850.33 306.26L850.32 305.39L850.36 304.55L850.45 303.74L850.59 302.97L850.79 302.25L851.03 301.57L851.32 300.94L851.66 300.37L852.05 299.85L852.48 299.39L852.95 298.99L853.46 298.65L854.01 298.38L854.59 298.17L855.21 298.02L855.85 297.95L856.52 297.94L857.21 298L857.92 298.13L858.64 298.33L859.38 298.59L860.12 298.91L860.87 299.3L861.62 299.75L862.37 300.25L863.11 300.82L863.84 301.43L864.56 302.1L865.26 302.82L865.94 303.57L866.59 304.37L867.22 305.21L867.82 306.08L868.39 306.97L868.92 307.89L869.41 308.83L869.86 309.78L870.27 310.74L870.63 311.71L870.95 312.68L871.22 313.64L871.44 314.6L871.61 315.54L871.73 316.46L871.79 317.36L871.81 318.24L871.77 319.08L871.68 319.88L871.53 320.65L871.34 321.38L871.09 322.05L870.8 322.68L870.46 323.26L870.08 323.78L869.65 324.24L869.17 324.64L868.66 324.98"/>
<path class="h" d="M870.85 323.71L870.3 323.99L869.72 324.2L869.1 324.34L868.46 324.41L867.79 324.42L867.1 324.36L866.39 324.23L865.67 324.04L864.93 323.78L864.19 323.45L863.44 323.07L862.69 322.62L861.94 322.11L861.2 321.55L860.47 320.93L859.75 320.26L859.05 319.55L858.37 318.79L857.72 317.99L857.09 317.15L856.49 316.29L855.92 315.39L855.39 314.47L854.9 313.54L854.45 312.58L854.04 311.62L853.68 310.65L853.36 309.68L853.09 308.72L852.87 307.77L852.7 306.82L852.59 305.9L852.52 305L852.51 304.13L852.55 303.28L852.64 302.48L852.78 301.71L852.97 300.99L853.22 300.31L853.51 299.68L853.85 299.11L854.24 298.59L854.67 298.12L855.14 297.72L855.65 297.39L856.2 297.11L856.78 296.9L857.4 296.76L858.04 296.69L858.71 296.68L859.4 296.74L860.11 296.87L860.83 297.06L861.57 297.32L862.31 297.65L863.06 298.03L863.81 298.48L864.56 298.99L865.3 299.55L866.03 300.17L866.75 300.84L867.45 301.55L868.13 302.31L868.78 303.11L869.41 303.95L870.01 304.81L870.58 305.71L871.11 306.63L871.6 307.56L872.05 308.52L872.46 309.48L872.82 310.45L873.14 311.42L873.41 312.38L873.63 313.33L873.8 314.28L873.91 315.2L873.98 316.1L873.99 316.97L873.95 317.82L873.86 318.62L873.72 319.39L873.53 320.11L873.28 320.79L872.99 321.42L872.65 321.99L872.26 322.51L871.83 322.98L871.36 323.38L870.85 323.71"/>
<path class="h" d="M873.04 322.45L872.49 322.72L871.91 322.93L871.29 323.08L870.65 323.15L869.98 323.16L869.29 323.1L868.58 322.97L867.86 322.77L867.12 322.51L866.38 322.19L865.63 321.8L864.88 321.35L864.13 320.85L863.39 320.28L862.66 319.67L861.94 319L861.24 318.28L860.56 317.53L859.91 316.73L859.28 315.89L858.68 315.02L858.11 314.13L857.58 313.21L857.09 312.27L856.64 311.32L856.23 310.36L855.87 309.39L855.55 308.42L855.28 307.46L855.06 306.5L854.89 305.56L854.77 304.64L854.71 303.74L854.69 302.86L854.73 302.02L854.82 301.22L854.97 300.45L855.16 299.72L855.41 299.05L855.7 298.42L856.04 297.84L856.42 297.32L856.85 296.86L857.33 296.46L857.84 296.12L858.39 295.85L858.97 295.64L859.58 295.5L860.23 295.43L860.89 295.42L861.58 295.48L862.29 295.61L863.02 295.8L863.75 296.06L864.5 296.38L865.25 296.77L866 297.22L866.74 297.73L867.48 298.29L868.22 298.91L868.93 299.58L869.63 300.29L870.31 301.05L870.97 301.85L871.6 302.68L872.2 303.55L872.76 304.45L873.29 305.36L873.79 306.3L874.24 307.25L874.65 308.22L875.01 309.18L875.33 310.15L875.6 311.12L875.82 312.07L875.98 313.01L876.1 313.94L876.17 314.84L876.18 315.71L876.14 316.55L876.05 317.36L875.91 318.13L875.71 318.85L875.47 319.53L875.18 320.16L874.84 320.73L874.45 321.25L874.02 321.71L873.55 322.11L873.04 322.45"/>
<path class="h" d="M875.23 321.19L874.68 321.46L874.09 321.67L873.48 321.81L872.84 321.89L872.17 321.89L871.48 321.83L870.77 321.71L870.05 321.51L869.31 321.25L868.56 320.93L867.82 320.54L867.07 320.09L866.32 319.58L865.58 319.02L864.85 318.4L864.13 317.74L863.43 317.02L862.75 316.26L862.09 315.46L861.46 314.63L860.87 313.76L860.3 312.87L859.77 311.95L859.28 311.01L858.83 310.06L858.42 309.1L858.05 308.13L857.74 307.16L857.47 306.2L857.25 305.24L857.08 304.3L856.96 303.38L856.9 302.48L856.88 301.6L856.92 300.76L857.01 299.95L857.15 299.19L857.35 298.46L857.59 297.78L857.89 297.16L858.23 296.58L858.61 296.06L859.04 295.6L859.51 295.2L860.02 294.86L860.57 294.59L861.16 294.38L861.77 294.24L862.41 294.16L863.08 294.16L863.77 294.22L864.48 294.34L865.2 294.54L865.94 294.8L866.69 295.12L867.43 295.51L868.18 295.96L868.93 296.47L869.67 297.03L870.4 297.65L871.12 298.31L871.82 299.03L872.5 299.79L873.16 300.59L873.79 301.42L874.38 302.29L874.95 303.18L875.48 304.1L875.97 305.04L876.42 305.99L876.83 306.95L877.2 307.92L877.51 308.89L877.78 309.85L878 310.81L878.17 311.75L878.29 312.67L878.35 313.57L878.37 314.45L878.33 315.29L878.24 316.1L878.1 316.86L877.9 317.59L877.66 318.27L877.36 318.89L877.02 319.47L876.64 319.99L876.21 320.45L875.74 320.85L875.23 321.19"/>
<path class="h" d="M877.41 319.93L876.86 320.2L876.28 320.41L875.67 320.55L875.02 320.62L874.36 320.63L873.67 320.57L872.96 320.44L872.23 320.25L871.5 319.99L870.75 319.67L870 319.28L869.25 318.83L868.51 318.32L867.77 317.76L867.03 317.14L866.32 316.47L865.62 315.76L864.94 315L864.28 314.2L863.65 313.37L863.05 312.5L862.49 311.6L861.96 310.69L861.46 309.75L861.01 308.8L860.6 307.83L860.24 306.87L859.92 305.9L859.65 304.93L859.43 303.98L859.27 303.04L859.15 302.11L859.08 301.21L859.07 300.34L859.11 299.5L859.2 298.69L859.34 297.92L859.54 297.2L859.78 296.52L860.07 295.89L860.41 295.32L860.8 294.8L861.23 294.34L861.7 293.94L862.21 293.6L862.76 293.33L863.34 293.12L863.96 292.97L864.6 292.9L865.27 292.89L865.96 292.95L866.67 293.08L867.39 293.28L868.13 293.54L868.87 293.86L869.62 294.25L870.37 294.7L871.12 295.2L871.86 295.77L872.59 296.38L873.31 297.05L874.01 297.77L874.69 298.52L875.34 299.32L875.97 300.16L876.57 301.03L877.14 301.92L877.67 302.84L878.16 303.78L878.61 304.73L879.02 305.69L879.38 306.66L879.7 307.63L879.97 308.59L880.19 309.55L880.36 310.49L880.48 311.41L880.54 312.31L880.56 313.19L880.52 314.03L880.43 314.83L880.28 315.6L880.09 316.33L879.84 317L879.55 317.63L879.21 318.21L878.83 318.73L878.4 319.19L877.92 319.59L877.41 319.93"/>
<path class="t" d="M879.6 318.66L879.05 318.94L878.47 319.15L877.85 319.29L877.21 319.36L876.54 319.37L875.85 319.31L875.14 319.18L874.42 318.99L873.68 318.73L872.94 318.4L872.19 318.02L871.44 317.57L870.69 317.06L869.95 316.5L869.22 315.88L868.5 315.21L867.8 314.5L867.12 313.74L866.47 312.94L865.84 312.1L865.24 311.24L864.67 310.34L864.14 309.42L863.65 308.49L863.2 307.53L862.79 306.57L862.43 305.6L862.11 304.63L861.84 303.67L861.62 302.72L861.45 301.77L861.34 300.85L861.27 299.95L861.26 299.08L861.3 298.23L861.39 297.43L861.53 296.66L861.72 295.94L861.97 295.26L862.26 294.63L862.6 294.06L862.99 293.54L863.42 293.07L863.89 292.67L864.4 292.34L864.95 292.06L865.53 291.85L866.15 291.71L866.79 291.64L867.46 291.63L868.15 291.69L868.86 291.82L869.58 292.01L870.32 292.27L871.06 292.6L871.81 292.98L872.56 293.43L873.31 293.94L874.05 294.5L874.78 295.12L875.5 295.79L876.2 296.5L876.88 297.26L877.53 298.06L878.16 298.9L878.76 299.76L879.33 300.66L879.86 301.58L880.35 302.51L880.8 303.47L881.21 304.43L881.57 305.4L881.89 306.37L882.16 307.33L882.38 308.28L882.55 309.23L882.66 310.15L882.73 311.05L882.74 311.92L882.7 312.77L882.61 313.57L882.47 314.34L882.28 315.06L882.03 315.74L881.74 316.37L881.4 316.94L881.01 317.46L880.58 317.93L880.11 318.33L879.6 318.66"/>
<path class="t" d="M846.9 302.44L864.4 292.34"/>
<path class="t" d="M862.1 328.76L879.6 318.66"/>
<path class="t" d="M878.35 316.5L877.89 316.73L877.4 316.9L876.89 317.02L876.35 317.08L875.8 317.09L875.22 317.04L874.63 316.93L874.02 316.77L873.41 316.55L872.79 316.28L872.16 315.96L871.53 315.58L870.91 315.16L870.29 314.69L869.68 314.17L869.08 313.61L868.49 313.02L867.93 312.38L867.38 311.72L866.85 311.02L866.35 310.29L865.88 309.55L865.44 308.78L865.02 307.99L864.65 307.2L864.31 306.39L864 305.59L863.74 304.78L863.51 303.97L863.33 303.17L863.19 302.39L863.09 301.62L863.03 300.86L863.02 300.13L863.06 299.43L863.13 298.76L863.25 298.11L863.41 297.51L863.62 296.94L863.86 296.42L864.15 295.94L864.47 295.5L864.83 295.12L865.22 294.78L865.65 294.5L866.11 294.27L866.6 294.1L867.11 293.98L867.65 293.92L868.2 293.91L868.78 293.96L869.37 294.07L869.98 294.23L870.59 294.45L871.21 294.72L871.84 295.04L872.47 295.42L873.09 295.84L873.71 296.31L874.32 296.83L874.92 297.39L875.51 297.98L876.07 298.62L876.62 299.28L877.15 299.98L877.65 300.71L878.12 301.45L878.56 302.22L878.98 303.01L879.35 303.8L879.69 304.61L880 305.41L880.26 306.22L880.49 307.03L880.67 307.83L880.81 308.61L880.91 309.38L880.97 310.14L880.98 310.87L880.94 311.57L880.87 312.24L880.75 312.89L880.59 313.49L880.38 314.06L880.14 314.58L879.85 315.06L879.53 315.5L879.17 315.88L878.78 316.22L878.35 316.5"/>
<path class="w" d="M840.25 302.48L700 383.46L677.5 396.45L674.49 398.28L671.57 400.23L668.74 402.29L666 404.47L663.35 406.76L660.79 409.16L658.33 411.68L655.95 414.32L653.67 417.06L651.48 419.92L649.38 422.89L647.37 425.98L645.46 429.17L643.63 432.47L641.91 435.89L640.27 439.41L638.73 443.04L637.28 446.79L635.93 450.64L634.67 454.59L633.5 458.66L632.43 462.83L631.46 467.11L630.58 471.49L629.79 475.98L629.1 480.58L628.51 485.28L628.01 490.08L627.61 494.99L627.3 500L628.2 514.2L628.12 514.18L628.14 514.72L628.24 515.27L628.42 515.82L628.69 516.36L629.04 516.9L629.48 517.43L629.99 517.94L630.58 518.45L631.24 518.93L631.97 519.4L632.77 519.85L633.64 520.27L634.56 520.67L635.53 521.04L636.56 521.39L637.63 521.7L638.74 521.98L639.88 522.22L641.05 522.44L642.25 522.61L643.46 522.75L644.68 522.85L645.91 522.92L647.13 522.94L648.35 522.93L649.56 522.88L650.74 522.79L651.91 522.67L653.04 522.5L654.13 522.31L655.19 522.07L656.2 521.81L657.16 521.5L658.06 521.17L658.9 520.81L659.68 520.42L660.39 520.01L661.03 519.57L661.59 519.11L662.08 518.63L662.48 518.13L662.81 517.62L663.05 517.1L663.2 516.56L663.28 516.02L663.2 516L662.6 498L662.93 494.35L663.33 490.8L663.79 487.33L664.33 483.96L664.94 480.68L665.63 477.48L666.38 474.37L667.22 471.34L668.13 468.39L669.11 465.52L670.18 462.73L671.32 460.02L672.54 457.39L673.85 454.82L675.23 452.33L676.7 449.91L678.25 447.56L679.89 445.27L681.61 443.05L683.42 440.89L685.32 438.8L687.3 436.76L689.38 434.78L691.55 432.86L693.8 431L696.15 429.18L698.6 427.42L701.14 425.71L703.77 424.05L706.5 422.43L728 410.02L858.75 334.52Z"/>
<path class="t" d="M840.25 302.48L811.45 319.1"/>
<path class="t" d="M858.75 334.52L829.74 351.27"/>
<path class="k" d="M811.45 319.1L700 383.46L677.5 396.45L674.49 398.28L671.57 400.23L668.74 402.29L666 404.47L663.35 406.76L660.79 409.16L658.33 411.68L655.95 414.32L653.67 417.06L651.48 419.92L649.38 422.89L647.37 425.98L645.46 429.17L643.63 432.47L641.91 435.89L640.27 439.41L638.73 443.04L637.28 446.79L635.93 450.64L634.67 454.59L633.5 458.66L632.43 462.83L631.46 467.11L630.58 471.49L629.79 475.98L629.1 480.58L628.51 485.28L628.01 490.08L627.61 494.99L627.3 500L628.2 514.2"/>
<path class="k" d="M829.74 351.27L728 410.02L706.5 422.43L703.77 424.05L701.14 425.71L698.6 427.42L696.15 429.18L693.8 431L691.55 432.86L689.38 434.78L687.3 436.76L685.32 438.8L683.42 440.89L681.61 443.05L679.89 445.27L678.25 447.56L676.7 449.91L675.23 452.33L673.85 454.82L672.54 457.39L671.32 460.02L670.18 462.73L669.11 465.52L668.13 468.39L667.22 471.34L666.38 474.37L665.63 477.48L664.94 480.68L664.33 483.96L663.79 487.33L663.33 490.8L662.93 494.35L662.6 498L663.2 516"/>
<path class="k" d="M628.12 514.18L628.14 514.72L628.24 515.27L628.42 515.82L628.69 516.36L629.04 516.9L629.48 517.43L629.99 517.94L630.58 518.45L631.24 518.93L631.97 519.4L632.77 519.85L633.64 520.27L634.56 520.67L635.53 521.04L636.56 521.39L637.63 521.7L638.74 521.98L639.88 522.22L641.05 522.44L642.25 522.61L643.46 522.75L644.68 522.85L645.91 522.92L647.13 522.94L648.35 522.93L649.56 522.88L650.74 522.79L651.91 522.67L653.04 522.5L654.13 522.31L655.19 522.07L656.2 521.81L657.16 521.5L658.06 521.17L658.9 520.81L659.68 520.42L660.39 520.01L661.03 519.57L661.59 519.11L662.08 518.63L662.48 518.13L662.81 517.62L663.05 517.1L663.2 516.56L663.28 516.02"/>
<path class="t" d="M858.75 334.52L858.08 334.85L857.37 335.11L856.63 335.28L855.84 335.37L855.03 335.38L854.19 335.31L853.33 335.15L852.45 334.92L851.55 334.6L850.64 334.2L849.73 333.73L848.82 333.19L847.91 332.57L847.01 331.88L846.12 331.13L845.25 330.32L844.39 329.45L843.57 328.53L842.77 327.55L842 326.54L841.27 325.48L840.58 324.39L839.94 323.27L839.34 322.13L838.79 320.97L838.29 319.8L837.85 318.63L837.46 317.45L837.14 316.27L836.87 315.11L836.66 313.97L836.52 312.84L836.44 311.75L836.42 310.68L836.47 309.66L836.58 308.68L836.76 307.74L836.99 306.86L837.29 306.03L837.65 305.27L838.06 304.57L838.53 303.94L839.05 303.38L839.63 302.89L840.25 302.48L840.92 302.15L841.63 301.89L842.37 301.72L843.16 301.63L843.97 301.62L844.81 301.69L845.67 301.85L846.55 302.08L847.45 302.4L848.36 302.8L849.27 303.27L850.18 303.81L851.09 304.43L851.99 305.12L852.88 305.87L853.75 306.68L854.61 307.55L855.43 308.47L856.23 309.45L857 310.46L857.73 311.52L858.42 312.61L859.06 313.73L859.66 314.87L860.21 316.03L860.71 317.2L861.15 318.37L861.54 319.55L861.86 320.73L862.13 321.89L862.34 323.03L862.48 324.16L862.56 325.25L862.58 326.32L862.53 327.34L862.42 328.32L862.24 329.26L862.01 330.14L861.71 330.97L861.35 331.73L860.94 332.43L860.47 333.06L859.95 333.62L859.37 334.11L858.75 334.52"/>
<path class="t" d="M628.4 496.6C629.67 497.23 633.23 499.53 636 500.4C638.77 501.27 642 501.77 645 501.8C648 501.83 651.12 501.3 654 500.6C656.88 499.9 660.92 498.1 662.3 497.6"/>
<path class="d" d="M583 424.6L854 266"/>
<path class="d" d="M584 547.5L633 519.8"/>
<path class="d" d="M591 420.2L591 543.6"/>
<path class="a" d="M591 420.2L592.8 428.2L589.2 428.2Z"/>
<path class="a" d="M591 543.6L589.2 535.6L592.8 535.6Z"/>
<text x="0" y="0" text-anchor="middle" transform="matrix(0 -1 0.95 -0.55 584.2 480)" style="font-size:14.5px;letter-spacing:0.6px;stroke:#111;stroke-width:0.4px;" dominant-baseline="central">105</text>
<path class="d" d="M632.9 327L632.9 521.5"/>
<path class="d" d="M870.2 193.5L870.2 272"/>
<path class="d" d="M857.6 226L857.6 262"/>
<path class="d" d="M857.6 373.5L857.6 468"/>
<path class="d" d="M632.9 338.4L870.2 203.2"/>
<path class="a" d="M632.9 338.4L637.74 333.57L639.53 336.7Z"/>
<path class="a" d="M870.2 203.2L865.36 208.03L863.57 204.9Z"/>
<path class="d" d="M632.9 363.7L857.6 235.2"/>
<path class="a" d="M632.9 363.7L637.74 358.86L639.52 361.99Z"/>
<path class="a" d="M857.6 235.2L852.76 240.04L850.98 236.91Z"/>
<text x="0" y="0" text-anchor="middle" transform="matrix(0.87 -0.5 0 1 749 264.6)" style="font-size:14px;letter-spacing:0.6px;stroke:#111;stroke-width:0.4px;" dominant-baseline="central">230</text>
<text x="0" y="0" text-anchor="middle" transform="matrix(0.87 -0.5 0 1 742.5 292.8)" style="font-size:14px;letter-spacing:0.6px;stroke:#111;stroke-width:0.4px;" dominant-baseline="central">215</text>
<path class="d" d="M644.4 523.5L644.4 590"/>
<path class="d" d="M644.4 582.8L857.6 461.6"/>
<path class="a" d="M644.4 582.8L649.25 577.97L651.03 581.1Z"/>
<path class="a" d="M857.6 461.6L852.75 466.43L850.97 463.3Z"/>
<text x="0" y="0" text-anchor="middle" transform="matrix(0.87 -0.5 0 1 751.5 514.6)" style="font-size:14px;letter-spacing:0.6px;stroke:#111;stroke-width:0.4px;" dominant-baseline="central">204</text>
<path class="d" d="M643.6 524L638 544"/>
<path class="d" d="M629 539L639 536.6"/>
<path class="a" d="M639 536.6L633.08 539.77L632.28 536.46Z"/>
<path class="d" d="M655 532L644.6 534.5"/>
<path class="a" d="M644.6 534.5L650.52 531.33L651.32 534.64Z"/>
<text x="0" y="0" text-anchor="middle" transform="matrix(1 0 -0.25 1 663 532)" style="font-size:14px;stroke:#111;stroke-width:0.4px;" dominant-baseline="central">5°</text>
<path class="d" d="M880 315L910 316L937.5 331"/>
<text x="0" y="0" text-anchor="middle" transform="matrix(0.87 0.5 0 1 925 314.7)" style="font-size:13px;stroke:#111;stroke-width:0.4px;" dominant-baseline="central">G1/2</text>
<path class="d" d="M890 365L902.5 380L922.5 390.5"/>
<text x="0" y="0" text-anchor="middle" transform="matrix(0.87 0.5 0 1 913 374.7)" style="font-size:13px;stroke:#111;stroke-width:0.4px;" dominant-baseline="central">ø80</text>
<path class="w" d="M489.4 430L487.8 419L484.4 410.6L478.2 402.2L468.6 392.8L460.2 380.8L453 366.4L448.4 352L447 341.2L447 341.2L448.2 332.8L454.2 324.4L462.6 320.2L474.6 320.8L489 326.8L504.6 340L519 358L531 377.2L537 391.6L538.4 403.6L534.6 413.2L527.4 418.6L518.8 421.2L518.6 430Z"/>
<path class="k" d="M489.6 428V506Q489.6 509 492.6 509.8H515.6Q518.6 509 518.6 506V421" style="fill:#fff"/>
<path class="k" d="M494 510L494 517.5L494 517.5L494.02 517.7L494.1 517.89L494.22 518.08L494.39 518.27L494.6 518.46L494.86 518.64L495.17 518.81L495.52 518.98L495.91 519.15L496.34 519.3L496.81 519.45L497.31 519.58L497.84 519.71L498.41 519.82L499 519.92L499.62 520.02L500.25 520.1L500.91 520.16L501.58 520.22L502.26 520.26L502.95 520.28L503.65 520.3L504.35 520.3L505.05 520.28L505.74 520.26L506.42 520.22L507.09 520.16L507.75 520.1L508.38 520.02L509 519.92L509.59 519.82L510.16 519.71L510.69 519.58L511.19 519.45L511.66 519.3L512.09 519.15L512.48 518.98L512.83 518.81L513.14 518.64L513.4 518.46L513.61 518.27L513.78 518.08L513.9 517.89L513.98 517.7L514 517.5L514 510" style="fill:#fff"/>
<path class="m" d="M494.01 511.29L494.05 511.47L494.15 511.65L494.3 511.83L494.49 512L494.73 512.17L495.01 512.34L495.34 512.5L495.71 512.65L496.12 512.8L496.57 512.94L497.05 513.07L497.57 513.19L498.12 513.3L498.7 513.4L499.31 513.5L499.93 513.58L500.58 513.64L501.24 513.7L501.92 513.74L502.61 513.77L503.3 513.79L504 513.8L504.7 513.79L505.39 513.77L506.08 513.74L506.76 513.7L507.42 513.64L508.07 513.58L508.69 513.5L509.3 513.4L509.88 513.3L510.43 513.19L510.95 513.07L511.43 512.94L511.88 512.8L512.29 512.65L512.66 512.5L512.99 512.34L513.27 512.17L513.51 512L513.7 511.83L513.85 511.65L513.95 511.47L513.99 511.29"/>
<path class="m" d="M494.01 512.79L494.05 512.97L494.15 513.15L494.3 513.33L494.49 513.5L494.73 513.67L495.01 513.84L495.34 514L495.71 514.15L496.12 514.3L496.57 514.44L497.05 514.57L497.57 514.69L498.12 514.8L498.7 514.9L499.31 515L499.93 515.08L500.58 515.14L501.24 515.2L501.92 515.24L502.61 515.27L503.3 515.29L504 515.3L504.7 515.29L505.39 515.27L506.08 515.24L506.76 515.2L507.42 515.14L508.07 515.08L508.69 515L509.3 514.9L509.88 514.8L510.43 514.69L510.95 514.57L511.43 514.44L511.88 514.3L512.29 514.15L512.66 514L512.99 513.84L513.27 513.67L513.51 513.5L513.7 513.33L513.85 513.15L513.95 512.97L513.99 512.79"/>
<path class="m" d="M494.01 514.29L494.05 514.47L494.15 514.65L494.3 514.83L494.49 515L494.73 515.17L495.01 515.34L495.34 515.5L495.71 515.65L496.12 515.8L496.57 515.94L497.05 516.07L497.57 516.19L498.12 516.3L498.7 516.4L499.31 516.5L499.93 516.58L500.58 516.64L501.24 516.7L501.92 516.74L502.61 516.77L503.3 516.79L504 516.8L504.7 516.79L505.39 516.77L506.08 516.74L506.76 516.7L507.42 516.64L508.07 516.58L508.69 516.5L509.3 516.4L509.88 516.3L510.43 516.19L510.95 516.07L511.43 515.94L511.88 515.8L512.29 515.65L512.66 515.5L512.99 515.34L513.27 515.17L513.51 515L513.7 514.83L513.85 514.65L513.95 514.47L513.99 514.29"/>
<path class="m" d="M494.01 515.79L494.05 515.97L494.15 516.15L494.3 516.33L494.49 516.5L494.73 516.67L495.01 516.84L495.34 517L495.71 517.15L496.12 517.3L496.57 517.44L497.05 517.57L497.57 517.69L498.12 517.8L498.7 517.9L499.31 518L499.93 518.08L500.58 518.14L501.24 518.2L501.92 518.24L502.61 518.27L503.3 518.29L504 518.3L504.7 518.29L505.39 518.27L506.08 518.24L506.76 518.2L507.42 518.14L508.07 518.08L508.69 518L509.3 517.9L509.88 517.8L510.43 517.69L510.95 517.57L511.43 517.44L511.88 517.3L512.29 517.15L512.66 517L512.99 516.84L513.27 516.67L513.51 516.5L513.7 516.33L513.85 516.15L513.95 515.97L513.99 515.79"/>
<path class="m" d="M494.01 517.29L494.05 517.47L494.15 517.65L494.3 517.83L494.49 518L494.73 518.17L495.01 518.34L495.34 518.5L495.71 518.65L496.12 518.8L496.57 518.94L497.05 519.07L497.57 519.19L498.12 519.3L498.7 519.4L499.31 519.5L499.93 519.58L500.58 519.64L501.24 519.7L501.92 519.74L502.61 519.77L503.3 519.79L504 519.8L504.7 519.79L505.39 519.77L506.08 519.74L506.76 519.7L507.42 519.64L508.07 519.58L508.69 519.5L509.3 519.4L509.88 519.3L510.43 519.19L510.95 519.07L511.43 518.94L511.88 518.8L512.29 518.65L512.66 518.5L512.99 518.34L513.27 518.17L513.51 518L513.7 517.83L513.85 517.65L513.95 517.47L513.99 517.29"/>
<path class="k" d="M447 341.2C447.2 339.8 447 335.6 448.2 332.8C449.4 330 451.8 326.5 454.2 324.4C456.6 322.3 459.2 320.8 462.6 320.2C466 319.6 470.2 319.7 474.6 320.8C479 321.9 484 323.6 489 326.8C494 330 499.6 334.8 504.6 340C509.6 345.2 514.6 351.8 519 358C523.4 364.2 528 371.6 531 377.2C534 382.8 535.77 387.2 537 391.6C538.23 396 538.8 400 538.4 403.6C538 407.2 536.43 410.7 534.6 413.2C532.77 415.7 530.03 417.27 527.4 418.6C524.77 419.93 520.23 420.77 518.8 421.2"/>
<path class="k" d="M447 341.2C447.23 343 447.4 347.8 448.4 352C449.4 356.2 451.03 361.6 453 366.4C454.97 371.2 457.6 376.4 460.2 380.8C462.8 385.2 465.6 389.23 468.6 392.8C471.6 396.37 475.57 399.23 478.2 402.2C480.83 405.17 482.8 407.8 484.4 410.6C486 413.4 486.97 415.77 487.8 419C488.63 422.23 489.13 428.17 489.4 430"/>
<path class="t" d="M456.63 328.2L458.34 327.56L460.19 327.13L462.18 326.94L464.3 326.97L466.54 327.22L468.88 327.7L471.33 328.4L473.85 329.32L476.45 330.46L479.11 331.8L481.81 333.35L484.55 335.1L487.3 337.03L490.06 339.13L492.82 341.41L495.55 343.84L498.25 346.41L500.91 349.12L503.5 351.94L506.02 354.87L508.46 357.89L510.8 360.98L513.03 364.13L515.14 367.33L517.12 370.56L518.97 373.81L520.66 377.05L522.2 380.27L523.58 383.46L524.79 386.6L525.82 389.68L526.66 392.68L527.33 395.58L527.8 398.37L528.08 401.05L528.17 403.59L528.07 405.98L527.78 408.21L527.29 410.27L526.62 412.16L525.76 413.85L524.72 415.35L523.5 416.65L522.12 417.73L520.57 418.6L518.86 419.24L517.01 419.67L515.02 419.86L512.9 419.83L510.66 419.58L508.32 419.1L505.87 418.4L503.35 417.48L500.75 416.34L498.09 415L495.39 413.45L492.65 411.7L489.9 409.77"/>
<path class="t" d="M458.49 329.57L460.18 329.09L462.01 328.82L463.98 328.79L466.07 328.97L468.27 329.38L470.57 330L472.97 330.85L475.44 331.91L477.98 333.17L480.57 334.64L483.2 336.3L485.86 338.14L488.53 340.16L491.2 342.35L493.86 344.7L496.49 347.18L499.09 349.8L501.63 352.54L504.1 355.38L506.5 358.31L508.81 361.32L511.02 364.38L513.11 367.5L515.09 370.64L516.93 373.79L518.63 376.95L520.17 380.08L521.56 383.19L522.79 386.24L523.84 389.23L524.72 392.14L525.42 394.95L525.93 397.66L526.26 400.25L526.4 402.7L526.35 405.01L526.11 407.16L525.68 409.13L525.06 410.94L524.27 412.55L523.29 413.96L522.15 415.18L520.83 416.18L519.35 416.97L517.72 417.55L515.95 417.9L514.03 418.03L511.99 417.93L509.84 417.61L507.57 417.08L505.21 416.32L502.77 415.35L500.26 414.17L497.69 412.78L495.07 411.2L492.42 409.43"/>
<path class="t" d="M489.6 428C490 428.67 490.6 431.07 492 432C493.4 432.93 495.92 433.5 498 433.6C500.08 433.7 502.67 433.78 504.5 432.6C506.33 431.42 507.58 428.18 509 426.5C510.42 424.82 511.4 423.48 513 422.5C514.6 421.52 517.67 420.92 518.6 420.6"/>
<path class="t" d="M491.5 425C491.92 425.75 492.75 428.5 494 429.5C495.25 430.5 497.37 430.92 499 431C500.63 431.08 502.38 431 503.8 430C505.22 429 506.22 426.42 507.5 425C508.78 423.58 510.83 422.08 511.5 421.5"/>
<circle cx="495.58" cy="388.85" r="1.75" style="fill:#3c3c3c;stroke:none"/>
<circle cx="496.08" cy="388.35" r="0.6" style="fill:#999;stroke:none"/>
<circle cx="486.84" cy="386.09" r="1.75" style="fill:#3c3c3c;stroke:none"/>
<circle cx="487.34" cy="385.59" r="0.6" style="fill:#999;stroke:none"/>
<circle cx="477.73" cy="376.36" r="1.75" style="fill:#3c3c3c;stroke:none"/>
<circle cx="478.23" cy="375.86" r="0.6" style="fill:#999;stroke:none"/>
<circle cx="473.58" cy="365.37" r="1.75" style="fill:#3c3c3c;stroke:none"/>
<circle cx="474.08" cy="364.87" r="0.6" style="fill:#999;stroke:none"/>
<circle cx="476.82" cy="359.55" r="1.75" style="fill:#3c3c3c;stroke:none"/>
<circle cx="477.32" cy="359.05" r="0.6" style="fill:#999;stroke:none"/>
<circle cx="485.56" cy="362.31" r="1.75" style="fill:#3c3c3c;stroke:none"/>
<circle cx="486.06" cy="361.81" r="0.6" style="fill:#999;stroke:none"/>
<circle cx="494.67" cy="372.04" r="1.75" style="fill:#3c3c3c;stroke:none"/>
<circle cx="495.17" cy="371.54" r="0.6" style="fill:#999;stroke:none"/>
<circle cx="498.82" cy="383.03" r="1.75" style="fill:#3c3c3c;stroke:none"/>
<circle cx="499.32" cy="382.53" r="0.6" style="fill:#999;stroke:none"/>
<circle cx="500.4" cy="394.22" r="1.75" style="fill:#3c3c3c;stroke:none"/>
<circle cx="500.9" cy="393.72" r="0.6" style="fill:#999;stroke:none"/>
<circle cx="493.92" cy="394.27" r="1.75" style="fill:#3c3c3c;stroke:none"/>
<circle cx="494.42" cy="393.77" r="0.6" style="fill:#999;stroke:none"/>
<circle cx="485.67" cy="389.72" r="1.75" style="fill:#3c3c3c;stroke:none"/>
<circle cx="486.17" cy="389.22" r="0.6" style="fill:#999;stroke:none"/>
<circle cx="477.54" cy="381.62" r="1.75" style="fill:#3c3c3c;stroke:none"/>
<circle cx="478.04" cy="381.12" r="0.6" style="fill:#999;stroke:none"/>
<circle cx="471.39" cy="371.81" r="1.75" style="fill:#3c3c3c;stroke:none"/>
<circle cx="471.89" cy="371.31" r="0.6" style="fill:#999;stroke:none"/>
<circle cx="468.64" cy="362.56" r="1.75" style="fill:#3c3c3c;stroke:none"/>
<circle cx="469.14" cy="362.06" r="0.6" style="fill:#999;stroke:none"/>
<circle cx="469.91" cy="355.96" r="1.75" style="fill:#3c3c3c;stroke:none"/>
<circle cx="470.41" cy="355.46" r="0.6" style="fill:#999;stroke:none"/>
<circle cx="474.91" cy="353.55" r="1.75" style="fill:#3c3c3c;stroke:none"/>
<circle cx="475.41" cy="353.05" r="0.6" style="fill:#999;stroke:none"/>
<circle cx="482.5" cy="355.87" r="1.75" style="fill:#3c3c3c;stroke:none"/>
<circle cx="483" cy="355.37" r="0.6" style="fill:#999;stroke:none"/>
<circle cx="490.93" cy="362.39" r="1.75" style="fill:#3c3c3c;stroke:none"/>
<circle cx="491.43" cy="361.89" r="0.6" style="fill:#999;stroke:none"/>
<circle cx="498.28" cy="371.61" r="1.75" style="fill:#3c3c3c;stroke:none"/>
<circle cx="498.78" cy="371.11" r="0.6" style="fill:#999;stroke:none"/>
<circle cx="502.87" cy="381.43" r="1.75" style="fill:#3c3c3c;stroke:none"/>
<circle cx="503.37" cy="380.93" r="0.6" style="fill:#999;stroke:none"/>
<circle cx="503.63" cy="389.59" r="1.75" style="fill:#3c3c3c;stroke:none"/>
<circle cx="504.13" cy="389.09" r="0.6" style="fill:#999;stroke:none"/>
<circle cx="501.39" cy="400.66" r="1.75" style="fill:#3c3c3c;stroke:none"/>
<circle cx="501.89" cy="400.16" r="0.6" style="fill:#999;stroke:none"/>
<circle cx="494.74" cy="399.49" r="1.75" style="fill:#3c3c3c;stroke:none"/>
<circle cx="495.24" cy="398.99" r="0.6" style="fill:#999;stroke:none"/>
<circle cx="487.07" cy="395.27" r="1.75" style="fill:#3c3c3c;stroke:none"/>
<circle cx="487.57" cy="394.77" r="0.6" style="fill:#999;stroke:none"/>
<circle cx="479.28" cy="388.5" r="1.75" style="fill:#3c3c3c;stroke:none"/>
<circle cx="479.78" cy="388" r="0.6" style="fill:#999;stroke:none"/>
<circle cx="472.33" cy="380.01" r="1.75" style="fill:#3c3c3c;stroke:none"/>
<circle cx="472.83" cy="379.51" r="0.6" style="fill:#999;stroke:none"/>
<circle cx="467.06" cy="370.82" r="1.75" style="fill:#3c3c3c;stroke:none"/>
<circle cx="467.56" cy="370.32" r="0.6" style="fill:#999;stroke:none"/>
<circle cx="464.09" cy="362.04" r="1.75" style="fill:#3c3c3c;stroke:none"/>
<circle cx="464.59" cy="361.54" r="0.6" style="fill:#999;stroke:none"/>
<circle cx="463.79" cy="354.72" r="1.75" style="fill:#3c3c3c;stroke:none"/>
<circle cx="464.29" cy="354.22" r="0.6" style="fill:#999;stroke:none"/>
<circle cx="466.19" cy="349.75" r="1.75" style="fill:#3c3c3c;stroke:none"/>
<circle cx="466.69" cy="349.25" r="0.6" style="fill:#999;stroke:none"/>
<circle cx="471.01" cy="347.74" r="1.75" style="fill:#3c3c3c;stroke:none"/>
<circle cx="471.51" cy="347.24" r="0.6" style="fill:#999;stroke:none"/>
<circle cx="477.66" cy="348.91" r="1.75" style="fill:#3c3c3c;stroke:none"/>
<circle cx="478.16" cy="348.41" r="0.6" style="fill:#999;stroke:none"/>
<circle cx="485.33" cy="353.13" r="1.75" style="fill:#3c3c3c;stroke:none"/>
<circle cx="485.83" cy="352.63" r="0.6" style="fill:#999;stroke:none"/>
<circle cx="493.12" cy="359.9" r="1.75" style="fill:#3c3c3c;stroke:none"/>
<circle cx="493.62" cy="359.4" r="0.6" style="fill:#999;stroke:none"/>
<circle cx="500.07" cy="368.39" r="1.75" style="fill:#3c3c3c;stroke:none"/>
<circle cx="500.57" cy="367.89" r="0.6" style="fill:#999;stroke:none"/>
<circle cx="505.34" cy="377.58" r="1.75" style="fill:#3c3c3c;stroke:none"/>
<circle cx="505.84" cy="377.08" r="0.6" style="fill:#999;stroke:none"/>
<circle cx="508.31" cy="386.36" r="1.75" style="fill:#3c3c3c;stroke:none"/>
<circle cx="508.81" cy="385.86" r="0.6" style="fill:#999;stroke:none"/>
<circle cx="508.61" cy="393.68" r="1.75" style="fill:#3c3c3c;stroke:none"/>
<circle cx="509.11" cy="393.18" r="0.6" style="fill:#999;stroke:none"/>
<circle cx="506.21" cy="398.65" r="1.75" style="fill:#3c3c3c;stroke:none"/>
<circle cx="506.71" cy="398.15" r="0.6" style="fill:#999;stroke:none"/>
<circle cx="509.96" cy="404.61" r="1.75" style="fill:#3c3c3c;stroke:none"/>
<circle cx="510.46" cy="404.11" r="0.6" style="fill:#999;stroke:none"/>
<circle cx="505.29" cy="406.45" r="1.75" style="fill:#3c3c3c;stroke:none"/>
<circle cx="505.79" cy="405.95" r="0.6" style="fill:#999;stroke:none"/>
<circle cx="499.2" cy="405.89" r="1.75" style="fill:#3c3c3c;stroke:none"/>
<circle cx="499.7" cy="405.39" r="0.6" style="fill:#999;stroke:none"/>
<circle cx="492.14" cy="402.99" r="1.75" style="fill:#3c3c3c;stroke:none"/>
<circle cx="492.64" cy="402.49" r="0.6" style="fill:#999;stroke:none"/>
<circle cx="484.65" cy="397.95" r="1.75" style="fill:#3c3c3c;stroke:none"/>
<circle cx="485.15" cy="397.45" r="0.6" style="fill:#999;stroke:none"/>
<circle cx="477.27" cy="391.14" r="1.75" style="fill:#3c3c3c;stroke:none"/>
<circle cx="477.77" cy="390.64" r="0.6" style="fill:#999;stroke:none"/>
<circle cx="470.55" cy="383.09" r="1.75" style="fill:#3c3c3c;stroke:none"/>
<circle cx="471.05" cy="382.59" r="0.6" style="fill:#999;stroke:none"/>
<circle cx="464.99" cy="374.37" r="1.75" style="fill:#3c3c3c;stroke:none"/>
<circle cx="465.49" cy="373.87" r="0.6" style="fill:#999;stroke:none"/>
<circle cx="461.01" cy="365.64" r="1.75" style="fill:#3c3c3c;stroke:none"/>
<circle cx="461.51" cy="365.14" r="0.6" style="fill:#999;stroke:none"/>
<circle cx="458.89" cy="357.54" r="1.75" style="fill:#3c3c3c;stroke:none"/>
<circle cx="459.39" cy="357.04" r="0.6" style="fill:#999;stroke:none"/>
<circle cx="458.8" cy="350.68" r="1.75" style="fill:#3c3c3c;stroke:none"/>
<circle cx="459.3" cy="350.18" r="0.6" style="fill:#999;stroke:none"/>
<circle cx="460.75" cy="345.57" r="1.75" style="fill:#3c3c3c;stroke:none"/>
<circle cx="461.25" cy="345.07" r="0.6" style="fill:#999;stroke:none"/>
<circle cx="464.57" cy="342.57" r="1.75" style="fill:#3c3c3c;stroke:none"/>
<circle cx="465.07" cy="342.07" r="0.6" style="fill:#999;stroke:none"/>
<circle cx="470.01" cy="341.93" r="1.75" style="fill:#3c3c3c;stroke:none"/>
<circle cx="470.51" cy="341.43" r="0.6" style="fill:#999;stroke:none"/>
<circle cx="476.64" cy="343.67" r="1.75" style="fill:#3c3c3c;stroke:none"/>
<circle cx="477.14" cy="343.17" r="0.6" style="fill:#999;stroke:none"/>
<circle cx="483.99" cy="347.69" r="1.75" style="fill:#3c3c3c;stroke:none"/>
<circle cx="484.49" cy="347.19" r="0.6" style="fill:#999;stroke:none"/>
<circle cx="491.49" cy="353.66" r="1.75" style="fill:#3c3c3c;stroke:none"/>
<circle cx="491.99" cy="353.16" r="0.6" style="fill:#999;stroke:none"/>
<circle cx="498.61" cy="361.16" r="1.75" style="fill:#3c3c3c;stroke:none"/>
<circle cx="499.11" cy="360.66" r="0.6" style="fill:#999;stroke:none"/>
<circle cx="504.8" cy="369.63" r="1.75" style="fill:#3c3c3c;stroke:none"/>
<circle cx="505.3" cy="369.13" r="0.6" style="fill:#999;stroke:none"/>
<circle cx="509.62" cy="378.44" r="1.75" style="fill:#3c3c3c;stroke:none"/>
<circle cx="510.12" cy="377.94" r="0.6" style="fill:#999;stroke:none"/>
<circle cx="512.7" cy="386.93" r="1.75" style="fill:#3c3c3c;stroke:none"/>
<circle cx="513.2" cy="386.43" r="0.6" style="fill:#999;stroke:none"/>
<circle cx="513.81" cy="394.48" r="1.75" style="fill:#3c3c3c;stroke:none"/>
<circle cx="514.31" cy="393.98" r="0.6" style="fill:#999;stroke:none"/>
<circle cx="512.87" cy="400.52" r="1.75" style="fill:#3c3c3c;stroke:none"/>
<circle cx="513.37" cy="400.02" r="0.6" style="fill:#999;stroke:none"/>
<circle cx="511.2" cy="411.26" r="1.75" style="fill:#3c3c3c;stroke:none"/>
<circle cx="511.7" cy="410.76" r="0.6" style="fill:#999;stroke:none"/>
<circle cx="506.04" cy="411.98" r="1.75" style="fill:#3c3c3c;stroke:none"/>
<circle cx="506.54" cy="411.48" r="0.6" style="fill:#999;stroke:none"/>
<circle cx="499.87" cy="410.8" r="1.75" style="fill:#3c3c3c;stroke:none"/>
<circle cx="500.37" cy="410.3" r="0.6" style="fill:#999;stroke:none"/>
<circle cx="493.03" cy="407.78" r="1.75" style="fill:#3c3c3c;stroke:none"/>
<circle cx="493.53" cy="407.28" r="0.6" style="fill:#999;stroke:none"/>
<circle cx="485.84" cy="403.08" r="1.75" style="fill:#3c3c3c;stroke:none"/>
<circle cx="486.34" cy="402.58" r="0.6" style="fill:#999;stroke:none"/>
<circle cx="478.67" cy="396.93" r="1.75" style="fill:#3c3c3c;stroke:none"/>
<circle cx="479.17" cy="396.43" r="0.6" style="fill:#999;stroke:none"/>
<circle cx="471.88" cy="389.65" r="1.75" style="fill:#3c3c3c;stroke:none"/>
<circle cx="472.38" cy="389.15" r="0.6" style="fill:#999;stroke:none"/>
<circle cx="465.8" cy="381.58" r="1.75" style="fill:#3c3c3c;stroke:none"/>
<circle cx="466.3" cy="381.08" r="0.6" style="fill:#999;stroke:none"/>
<circle cx="460.75" cy="373.15" r="1.75" style="fill:#3c3c3c;stroke:none"/>
<circle cx="461.25" cy="372.65" r="0.6" style="fill:#999;stroke:none"/>
<circle cx="456.97" cy="364.77" r="1.75" style="fill:#3c3c3c;stroke:none"/>
<circle cx="457.47" cy="364.27" r="0.6" style="fill:#999;stroke:none"/>
<circle cx="454.66" cy="356.86" r="1.75" style="fill:#3c3c3c;stroke:none"/>
<circle cx="455.16" cy="356.36" r="0.6" style="fill:#999;stroke:none"/>
<circle cx="453.93" cy="349.83" r="1.75" style="fill:#3c3c3c;stroke:none"/>
<circle cx="454.43" cy="349.33" r="0.6" style="fill:#999;stroke:none"/>
<circle cx="454.82" cy="344.01" r="1.75" style="fill:#3c3c3c;stroke:none"/>
<circle cx="455.32" cy="343.51" r="0.6" style="fill:#999;stroke:none"/>
<circle cx="457.29" cy="339.71" r="1.75" style="fill:#3c3c3c;stroke:none"/>
<circle cx="457.79" cy="339.21" r="0.6" style="fill:#999;stroke:none"/>
<circle cx="461.2" cy="337.14" r="1.75" style="fill:#3c3c3c;stroke:none"/>
<circle cx="461.7" cy="336.64" r="0.6" style="fill:#999;stroke:none"/>
<circle cx="466.36" cy="336.42" r="1.75" style="fill:#3c3c3c;stroke:none"/>
<circle cx="466.86" cy="335.92" r="0.6" style="fill:#999;stroke:none"/>
<circle cx="472.53" cy="337.6" r="1.75" style="fill:#3c3c3c;stroke:none"/>
<circle cx="473.03" cy="337.1" r="0.6" style="fill:#999;stroke:none"/>
<circle cx="479.37" cy="340.62" r="1.75" style="fill:#3c3c3c;stroke:none"/>
<circle cx="479.87" cy="340.12" r="0.6" style="fill:#999;stroke:none"/>
<circle cx="486.56" cy="345.32" r="1.75" style="fill:#3c3c3c;stroke:none"/>
<circle cx="487.06" cy="344.82" r="0.6" style="fill:#999;stroke:none"/>
<circle cx="493.73" cy="351.47" r="1.75" style="fill:#3c3c3c;stroke:none"/>
<circle cx="494.23" cy="350.97" r="0.6" style="fill:#999;stroke:none"/>
<circle cx="500.52" cy="358.75" r="1.75" style="fill:#3c3c3c;stroke:none"/>
<circle cx="501.02" cy="358.25" r="0.6" style="fill:#999;stroke:none"/>
<circle cx="506.6" cy="366.82" r="1.75" style="fill:#3c3c3c;stroke:none"/>
<circle cx="507.1" cy="366.32" r="0.6" style="fill:#999;stroke:none"/>
<circle cx="511.65" cy="375.25" r="1.75" style="fill:#3c3c3c;stroke:none"/>
<circle cx="512.15" cy="374.75" r="0.6" style="fill:#999;stroke:none"/>
<circle cx="515.43" cy="383.63" r="1.75" style="fill:#3c3c3c;stroke:none"/>
<circle cx="515.93" cy="383.13" r="0.6" style="fill:#999;stroke:none"/>
<circle cx="517.74" cy="391.54" r="1.75" style="fill:#3c3c3c;stroke:none"/>
<circle cx="518.24" cy="391.04" r="0.6" style="fill:#999;stroke:none"/>
<circle cx="518.47" cy="398.57" r="1.75" style="fill:#3c3c3c;stroke:none"/>
<circle cx="518.97" cy="398.07" r="0.6" style="fill:#999;stroke:none"/>
<circle cx="517.58" cy="404.39" r="1.75" style="fill:#3c3c3c;stroke:none"/>
<circle cx="518.08" cy="403.89" r="0.6" style="fill:#999;stroke:none"/>
<circle cx="515.11" cy="408.69" r="1.75" style="fill:#3c3c3c;stroke:none"/>
<circle cx="515.61" cy="408.19" r="0.6" style="fill:#999;stroke:none"/>
<ellipse cx="488.07" cy="382.61" rx="3" ry="2" transform="rotate(52 488.07 382.61)" style="fill:#8a8a8a;stroke:#555;stroke-width:.4"/>
<ellipse cx="478.44" cy="370.1" rx="3" ry="2" transform="rotate(52 478.44 370.1)" style="fill:#8a8a8a;stroke:#555;stroke-width:.4"/>
<ellipse cx="484.33" cy="365.79" rx="3" ry="2" transform="rotate(52 484.33 365.79)" style="fill:#8a8a8a;stroke:#555;stroke-width:.4"/>
<ellipse cx="493.96" cy="378.3" rx="3" ry="2" transform="rotate(52 493.96 378.3)" style="fill:#8a8a8a;stroke:#555;stroke-width:.4"/>
<circle cx="484.11" cy="381.46" r="1.7" style="fill:#3c3c3c;stroke:none"/>
<circle cx="476.7" cy="369.9" r="1.7" style="fill:#3c3c3c;stroke:none"/>
<circle cx="488.29" cy="366.94" r="1.7" style="fill:#3c3c3c;stroke:none"/>
<circle cx="495.7" cy="378.5" r="1.7" style="fill:#3c3c3c;stroke:none"/>
<path class="d" d="M525 420L535 436L561 449"/>
<text x="0" y="0" text-anchor="middle" transform="matrix(0.87 0.5 0 1 548 434.9)" style="font-size:13px;stroke:#111;stroke-width:0.4px;" dominant-baseline="central">ø120</text>
<path class="d" d="M510 520L520 537L547 551"/>
<text x="0" y="0" text-anchor="middle" transform="matrix(0.87 0.5 0 1 535.5 535.3)" style="font-size:13px;stroke:#111;stroke-width:0.4px;" dominant-baseline="central">G1/2</text>
<path class="t" d="M246.9 453.1C245.38 453.45 240.95 453.68 237.8 455.2C234.65 456.72 230.8 459.4 228 462.2C225.2 465 222.75 468.5 221 472C219.25 475.5 217.97 479.93 217.5 483.2C217.03 486.47 218.08 490.2 218.2 491.6"/>
<path class="o" d="M218.2 491.6C218.83 493 220.03 497.77 222 500C223.97 502.23 227 504.33 230 505C233 505.67 238.33 504.17 240 504"/>
<path class="t" d="M258.2 446.4V476L246.2 482.8L229 492.8"/>
<path class="o" d="M229 492.8L205 506.5"/>
<path class="t" d="M256.5 468L218.5 489.5"/>
<path class="t" d="M308.2 446.4V476"/>
<ellipse class="t" cx="283.2" cy="446.4" rx="25" ry="14.8" transform="rotate(0 283.2 446.4)" style="fill:#fff"/>
<ellipse class="t" cx="283.2" cy="446.7" rx="21.4" ry="12.4" transform="rotate(0 283.2 446.7)"/>
<ellipse class="t2" cx="283.2" cy="446.9" rx="19.4" ry="11.2" transform="rotate(0 283.2 446.9)"/>
<ellipse class="t2" cx="283.2" cy="446.75" rx="16.8" ry="9.7" transform="rotate(0 283.2 446.75)"/>
<ellipse class="t2" cx="283.2" cy="446.6" rx="14.2" ry="8.2" transform="rotate(0 283.2 446.6)"/>
<ellipse class="t2" cx="283.2" cy="446.45" rx="11.6" ry="6.7" transform="rotate(0 283.2 446.45)"/>
<ellipse class="t2" cx="283.2" cy="446.3" rx="9" ry="5.2" transform="rotate(0 283.2 446.3)"/>
<path class="t" d="M257.9 448.2L251.5 446.8Q246.4 446.8 246.4 452.6V462.2L257.9 468"/>
<path class="h" d="M248.6 453.5V462.8"/>
<ellipse class="t" cx="253.1" cy="457.6" rx="3.4" ry="4.5" transform="rotate(0 253.1 457.6)"/>
<path class="t" d="M308.2 462.4L322.4 468.8Q326.4 470.8 326.4 475.5V498"/>
<path class="t" d="M300 478.6L306.4 476L316 480Q320.2 482.6 320.2 487V500.6L313.8 501.8L301.6 496.2Z" style="fill:#fff"/>
<path class="h" d="M306.4 476V479.5M313.8 501.8V497.5"/>
<ellipse class="t" cx="307.7" cy="489.6" rx="3.6" ry="4.7" transform="rotate(0 307.7 489.6)"/>
<path class="t" d="M345 508.68L326.81 498.18"/>
<path class="t" d="M319 553.72L295.18 539.97"/>
<path class="t" d="M326.6 558V598"/>
<ellipse class="t" cx="332" cy="531.2" rx="26" ry="15" transform="rotate(120 332 531.2)" style="fill:#fff"/>
<ellipse class="t" cx="331.7" cy="531" rx="22" ry="12.7" transform="rotate(120 331.7 531)"/>
<ellipse class="t2" cx="331.5" cy="530.9" rx="20" ry="11.5" transform="rotate(120 331.5 530.9)"/>
<ellipse class="t2" cx="331.25" cy="530.75" rx="17.4" ry="10" transform="rotate(120 331.25 530.75)"/>
<ellipse class="t2" cx="331" cy="530.6" rx="14.8" ry="8.5" transform="rotate(120 331 530.6)"/>
<ellipse class="t2" cx="330.75" cy="530.45" rx="12.2" ry="7" transform="rotate(120 330.75 530.45)"/>
<ellipse class="t2" cx="330.5" cy="530.3" rx="9.6" ry="5.5" transform="rotate(120 330.5 530.3)"/>
<path class="t" d="M336.7 598.55L315.92 586.55"/>
<path class="t" d="M312.3 573.5Q318.6 577 319.2 582V590"/>
<ellipse class="t" cx="308.7" cy="582.5" rx="3.2" ry="4.3" transform="rotate(0 308.7 582.5)"/>
<path class="w" d="M311.7 641.85L310.46 640.98L309.38 639.88L308.45 638.56L307.7 637.05L307.13 635.34L306.74 633.48L306.55 631.46L306.55 629.33L306.75 627.09L307.13 624.78L307.7 622.42L308.46 620.03L309.38 617.65L310.47 615.29L311.71 612.99L313.08 610.76L314.58 608.64L316.18 606.65L317.87 604.8L319.63 603.13L321.44 601.64L323.28 600.35L325.13 599.28L326.97 598.44L328.78 597.84L330.54 597.49L332.23 597.38L333.83 597.52L335.33 597.91L336.7 598.55L337.94 599.42L339.02 600.52L339.95 601.84L340.7 603.35L341.27 605.06L341.66 606.92L341.85 608.94L341.85 611.07L341.65 613.31L341.27 615.62L340.7 617.98L339.94 620.37L339.02 622.75L337.93 625.11L336.69 627.41L335.32 629.64L333.82 631.76L332.22 633.75L330.53 635.6L328.77 637.27L326.96 638.76L325.12 640.05L323.27 641.12L321.43 641.96L319.62 642.56L317.86 642.91L316.17 643.02L314.57 642.88L313.07 642.49L311.7 641.85Z"/>
<path class="o" d="M311.7 641.85L310.86 641.29L310.08 640.64L309.38 639.88L308.74 639.02L308.18 638.08L307.7 637.05L307.3 635.93L306.98 634.74L306.74 633.48L306.59 632.15L306.53 630.76L306.55 629.33L306.66 627.85L306.85 626.33L307.13 624.78L307.49 623.21L307.93 621.62L308.46 620.03L309.05 618.44L309.73 616.86L310.47 615.29L311.28 613.75L312.15 612.24L313.08 610.76L314.07 609.34L315.1 607.96L316.18 606.65L317.3 605.4L318.45 604.23L319.63 603.13"/>
<path class="t" d="M319.63 603.13L320.83 602.11L322.05 601.19L323.28 600.35L324.51 599.62L325.75 598.98L326.97 598.44L328.18 598.02L329.37 597.7L330.54 597.49L331.67 597.39L332.77 597.4L333.83 597.52L334.84 597.76L335.8 598.1L336.7 598.55L337.54 599.11L338.32 599.76L339.02 600.52L339.66 601.38L340.22 602.32L340.7 603.35L341.1 604.47L341.42 605.66L341.66 606.92L341.81 608.25L341.87 609.64L341.85 611.07L341.74 612.55L341.55 614.07L341.27 615.62L340.91 617.19L340.47 618.78L339.94 620.37L339.35 621.96L338.67 623.54L337.93 625.11L337.12 626.65L336.25 628.16L335.32 629.64L334.33 631.06L333.3 632.44L332.22 633.75L331.1 635L329.95 636.17L328.77 637.27L327.57 638.29"/>
<path class="o" d="M327.57 638.29L326.35 639.21L325.12 640.05L323.89 640.78L322.65 641.42L321.43 641.96L320.22 642.38L319.03 642.7L317.86 642.91L316.73 643.01L315.63 643L314.57 642.88L313.56 642.64L312.6 642.3L311.7 641.85"/>
<path class="t" d="M322 603.89L323.04 603.18L324.09 602.56L325.13 602.01L326.17 601.56L327.19 601.2L328.2 600.93L329.19 600.75L330.15 600.66L331.08 600.67L331.97 600.77L332.83 600.97L333.64 601.26L334.4 601.64L335.11 602.11L335.77 602.67L336.37 603.31L336.9 604.03L337.37 604.83L337.78 605.71L338.12 606.65L338.39 607.66L338.59 608.73L338.71 609.86L338.76 611.03L338.74 612.25L338.65 613.5L338.49 614.79L338.25 616.1L337.94 617.43L337.57 618.78L337.12 620.13L336.62 621.48L336.05 622.82L335.42 624.15L334.73 625.46L333.99 626.74L333.2 627.99L332.36 629.2L331.49 630.36L330.57 631.47L329.63 632.53L328.65 633.53L327.65 634.46"/>
<path class="t2" d="M322.2 605.43L323.14 604.79L324.09 604.22L325.03 603.73L325.97 603.32L326.89 602.98L327.8 602.74L328.7 602.57L329.56 602.49L330.4 602.5L331.21 602.59L331.98 602.77L332.71 603.03L333.4 603.37L334.04 603.8L334.63 604.3L335.17 604.88L335.65 605.53L336.08 606.26L336.44 607.05L336.75 607.9L336.99 608.81L337.17 609.78L337.28 610.8L337.32 611.86L337.3 612.96L337.22 614.1L337.07 615.26L336.85 616.45L336.57 617.65L336.23 618.87L335.83 620.09L335.37 621.31L334.85 622.53L334.28 623.73L333.66 624.92L332.99 626.08L332.27 627.21L331.51 628.3L330.72 629.36L329.89 630.37L329.04 631.33L328.15 632.23L327.25 633.08"/>
<path class="t2" d="M322.42 607.33L323.24 606.77L324.06 606.28L324.88 605.85L325.69 605.49L326.5 605.2L327.29 604.99L328.06 604.85L328.82 604.78L329.55 604.78L330.25 604.86L330.92 605.01L331.55 605.24L332.15 605.54L332.71 605.91L333.22 606.34L333.69 606.85L334.11 607.41L334.48 608.04L334.79 608.73L335.06 609.47L335.26 610.27L335.42 611.11L335.51 611.99L335.55 612.91L335.53 613.87L335.46 614.86L335.33 615.87L335.14 616.9L334.89 617.95L334.6 619.01L334.25 620.07L333.84 621.13L333.39 622.19L332.9 623.24L332.36 624.27L331.77 625.28L331.15 626.26L330.49 627.21L329.8 628.13L329.09 629.01L328.34 629.85L327.57 630.63L326.79 631.37"/>
<path class="t2" d="M322.64 609.24L323.34 608.76L324.03 608.34L324.73 607.98L325.42 607.67L326.1 607.42L326.78 607.24L327.43 607.12L328.07 607.06L328.69 607.06L329.29 607.13L329.85 607.26L330.39 607.45L330.9 607.7L331.37 608.01L331.81 608.39L332.2 608.81L332.56 609.3L332.87 609.83L333.14 610.41L333.36 611.04L333.54 611.72L333.67 612.43L333.75 613.18L333.78 613.97L333.76 614.78L333.7 615.62L333.59 616.48L333.43 617.36L333.22 618.25L332.96 619.15L332.67 620.05L332.32 620.95L331.94 621.85L331.52 622.74L331.06 623.62L330.56 624.48L330.03 625.31L329.48 626.12L328.89 626.9L328.28 627.65L327.64 628.36L326.99 629.03L326.32 629.66"/>
<path class="t2" d="M323.43 610.75L324.01 610.4L324.58 610.1L325.15 609.85L325.71 609.65L326.26 609.49L326.8 609.39L327.33 609.34L327.84 609.34L328.32 609.4L328.79 609.5L329.23 609.66L329.65 609.87L330.04 610.12L330.39 610.43L330.72 610.78L331.01 611.18L331.27 611.62L331.49 612.1L331.67 612.61L331.81 613.17L331.92 613.76L331.98 614.38L332.01 615.02L331.99 615.69L331.94 616.38L331.85 617.09L331.71 617.81L331.54 618.55L331.33 619.29L331.08 620.03L330.8 620.77L330.49 621.51L330.14 622.25L329.76 622.97L329.35 623.68L328.92 624.37L328.46 625.03L327.97 625.68L327.47 626.29L326.95 626.88L326.41 627.43"/>
<path class="t2" d="M323.53 612.74L323.98 612.46L324.43 612.23L324.87 612.03L325.31 611.87L325.75 611.74L326.17 611.66L326.58 611.62L326.98 611.62L327.36 611.67L327.73 611.75L328.07 611.87L328.4 612.03L328.7 612.23L328.98 612.47L329.24 612.75L329.46 613.06L329.66 613.4L329.83 613.78L329.98 614.19L330.09 614.62L330.17 615.08L330.22 615.57L330.24 616.07L330.22 616.6L330.18 617.14L330.11 617.7L330 618.27L329.86 618.84L329.7 619.43L329.5 620.01L329.28 620.6L329.03 621.18L328.76 621.75L328.46 622.32L328.14 622.88L327.8 623.42L327.44 623.94L327.06 624.45L326.66 624.93L326.25 625.4L325.83 625.83"/>
<path class="o" d="M272 579.64L270.56 580.36L269.03 580.9L267.42 581.28L265.73 581.47L263.98 581.49L262.17 581.32L260.31 580.99L258.41 580.47L256.47 579.78L254.52 578.93L252.55 577.91L250.58 576.73L248.62 575.39L246.67 573.9L244.75 572.28L242.86 570.52L241.02 568.64L239.24 566.64L237.51 564.54L235.86 562.34L234.28 560.06L232.79 557.7L231.4 555.28L230.1 552.82L228.91 550.31L227.83 547.78L226.88 545.23L226.04 542.69L225.33 540.15L224.75 537.64L224.3 535.16L223.99 532.73L223.81 530.37L223.78 528.07L223.88 525.86L224.11 523.73L224.48 521.72L224.99 519.81L225.63 518.03L226.39 516.38L227.28 514.87L228.3 513.51L229.42 512.3L230.66 511.25L232 510.36L233.44 509.64L234.97 509.1L236.58 508.72L238.27 508.53L240.02 508.51L241.83 508.68L243.69 509.01L245.59 509.53L247.53 510.22L249.48 511.07L251.45 512.09L253.42 513.27L255.38 514.61L257.33 516.1L259.25 517.72L261.14 519.48L262.98 521.36L264.76 523.36L266.49 525.46L268.14 527.66L269.72 529.94L271.21 532.3L272.6 534.72L273.9 537.18L275.09 539.69L276.17 542.22L277.12 544.77L277.96 547.31L278.67 549.85L279.25 552.36L279.7 554.84L280.01 557.27L280.19 559.63L280.22 561.93L280.12 564.14L279.89 566.27L279.52 568.28L279.01 570.19L278.37 571.97L277.61 573.62L276.72 575.13L275.7 576.49L274.58 577.7L273.34 578.75L272 579.64"/>
<path class="o" d="M246.45 580.55L248.82 580.76L251.24 581.2L253.72 581.86L256.24 582.75L258.78 583.86L261.34 585.19L263.91 586.72L266.47 588.45L269 590.38L271.5 592.49L273.95 594.78L276.35 597.22L278.67 599.82L280.92 602.55L283.07 605.41L285.12 608.37L287.06 611.44L288.87 614.58L290.56 617.79L292.1 621.05L293.5 624.34L294.74 627.65L295.83 630.96L296.75 634.26L297.5 637.53L298.08 640.75L298.48 643.91L298.7 646.99L298.75 649.97L298.62 652.86L298.31 655.62L297.82 658.24L297.15 660.72L296.32 663.04L295.32 665.19L294.15 667.15L292.83 668.93L291.36 670.51L289.75 671.88L288 673.03L286.12 673.97L284.13 674.68L282.03 675.17L279.83 675.42L277.55 675.45L275.18 675.24L272.76 674.8L270.28 674.14L267.76 673.25L265.22 672.14L262.66 670.81L260.09 669.28L257.53 667.55L255 665.62L252.5 663.51"/>
<path class="o" d="M263 600Q272 592 285 596L312 610"/>
<path class="o" d="M293.72 719.19L289.55 721.44L285.19 723.34L280.65 724.88L275.95 726.08L271.09 726.91L266.1 727.38L260.97 727.5L255.74 727.24L250.41 726.63L244.99 725.66L239.51 724.32L233.97 722.64L228.4 720.6L222.8 718.23L217.19 715.51L211.6 712.46L206.02 709.1L200.49 705.42L195.01 701.44L189.59 697.17L184.26 692.61L179.03 687.79L173.92 682.72L168.92 677.41L164.07 671.87L159.37 666.12L154.84 660.18L150.49 654.06L146.33 647.78L142.37 641.35L138.62 634.8L135.1 628.14L131.81 621.39L128.76 614.57L125.96 607.69L123.42 600.78L121.15 593.85L119.15 586.93L117.42 580.03L115.97 573.17L114.81 566.38L113.94 559.66L113.36 553.04L113.07 546.53L113.08 540.16L113.38 533.94L113.97 527.89L114.85 522.02L116.02 516.35L117.48 510.9L119.21 505.68L121.23 500.7L123.51 495.98L126.06 491.54L128.87 487.38L131.93 483.51L135.23 479.96L138.76 476.71L142.51 473.79L146.48 471.21L150.65 468.96L155.01 467.06L159.55 465.52L164.25 464.32L169.11 463.49L174.1 463.02L179.23 462.9L184.46 463.16L189.79 463.77L195.21 464.74L200.69 466.08L206.23 467.76L211.8 469.8L217.4 472.17L223.01 474.89L228.6 477.94L234.18 481.3L239.71 484.98L245.19 488.96L250.61 493.23L255.94 497.79L261.17 502.61L266.28 507.68L271.28 512.99L276.13 518.53L280.83 524.28L285.36 530.22L289.71 536.34L293.87 542.62L297.83 549.05L301.58 555.6L305.1 562.26L308.39 569.01L311.44 575.83L314.24 582.71L316.78 589.62L319.05 596.55L321.05 603.47L322.78 610.37L324.23 617.23L325.39 624.02L326.26 630.74L326.84 637.36L327.13 643.87L327.12 650.24L326.82 656.46L326.23 662.51L325.35 668.38L324.18 674.05L322.72 679.5L320.99 684.72L318.97 689.7L316.69 694.42L314.14 698.86L311.33 703.02L308.27 706.89L304.97 710.44L301.44 713.69L297.69 716.61L293.72 719.19Z"/>
<path class="w" d="M190.81 535.6L219.65 518.95L220.34 518.6L221.06 518.34L221.83 518.17L222.63 518.07L223.47 518.06L224.33 518.14L225.22 518.3L226.12 518.54L227.04 518.87L227.98 519.27L228.91 519.76L229.85 520.32L230.78 520.95L231.71 521.65L232.62 522.43L233.52 523.26L234.39 524.15L235.24 525.1L236.06 526.1L236.85 527.14L237.6 528.23L238.31 529.35L238.97 530.5L239.59 531.67L240.15 532.86L240.66 534.06L241.12 535.27L241.51 536.48L241.85 537.69L242.12 538.88L242.33 540.06L242.48 541.21L242.56 542.34L242.58 543.43L242.53 544.48L242.42 545.49L242.24 546.45L242 547.36L241.69 548.2L241.32 548.99L240.9 549.71L240.42 550.36L239.88 550.93L239.29 551.43L238.65 551.85L209.81 568.5Z"/>
<path class="o" d="M220.51 518.53L221.25 518.29L222.03 518.13L222.84 518.06L223.68 518.07L224.55 518.17L225.44 518.35L226.35 518.61L227.28 518.96L228.21 519.39L229.15 519.89L230.08 520.47L231.02 521.12L231.94 521.84L232.85 522.63L233.74 523.48L234.61 524.39L235.45 525.35L236.26 526.36L237.04 527.41L237.78 528.51L238.48 529.63L239.13 530.79L239.73 531.96L240.28 533.16L240.78 534.36L241.22 535.57L241.6 536.78L241.92 537.99L242.18 539.18L242.38 540.35L242.51 541.5L242.57 542.61L242.57 543.7L242.51 544.74L242.38 545.73L242.18 546.68L241.92 547.57L241.6 548.4L241.22 549.17L240.78 549.88"/>
<path class="o" d="M221.7 512.09L222.64 511.79L223.62 511.59L224.64 511.5L225.71 511.51L226.81 511.64L227.93 511.86L229.08 512.2L230.25 512.63L231.43 513.17L232.61 513.81L233.79 514.54L234.97 515.36L236.14 516.27L237.29 517.27L238.41 518.34L239.51 519.49L240.57 520.7L241.6 521.98L242.58 523.31L243.52 524.69L244.4 526.11L245.22 527.57L245.98 529.06L246.68 530.57L247.3 532.09L247.86 533.62L248.34 535.15L248.75 536.67L249.07 538.17L249.32 539.65L249.49 541.1L249.57 542.51L249.57 543.88L249.49 545.2L249.32 546.45L249.08 547.65L248.75 548.78L248.35 549.83L247.86 550.8L247.31 551.68"/>
<path class="o" d="M225.54 506.43L226.59 506.09L227.69 505.86L228.84 505.76L230.04 505.78L231.28 505.92L232.54 506.17L233.84 506.55L235.15 507.04L236.47 507.64L237.8 508.36L239.14 509.18L240.46 510.11L241.77 511.13L243.07 512.25L244.33 513.46L245.57 514.75L246.77 516.11L247.92 517.55L249.02 519.05L250.07 520.6L251.06 522.2L251.99 523.84L252.85 525.52L253.63 527.22L254.34 528.93L254.96 530.65L255.5 532.37L255.96 534.08L256.33 535.77L256.61 537.43L256.79 539.06L256.88 540.65L256.88 542.19L256.79 543.67L256.61 545.09L256.33 546.43L255.96 547.7L255.51 548.88L254.97 549.97L254.34 550.97"/>
<path class="o" d="M228.05 500.38L229.25 499.98L230.52 499.73L231.85 499.61L233.22 499.63L234.64 499.79L236.09 500.08L237.58 500.51L239.08 501.08L240.61 501.77L242.13 502.59L243.66 503.54L245.18 504.6L246.69 505.78L248.17 507.06L249.63 508.45L251.05 509.93L252.42 511.5L253.75 513.15L255.02 514.87L256.22 516.65L257.36 518.49L258.42 520.37L259.4 522.29L260.3 524.24L261.11 526.21L261.83 528.18L262.46 530.16L262.98 532.12L263.4 534.06L263.72 535.97L263.93 537.84L264.04 539.67L264.04 541.44L263.93 543.14L263.72 544.76L263.4 546.31L262.98 547.76L262.46 549.12L261.84 550.37L261.12 551.52"/>
<path class="t" d="M190.81 535.6L219.65 518.95"/>
<path class="t" d="M209.81 568.5L238.65 551.85"/>
<path class="t" d="M219.6 562.85L220.24 562.43L220.83 561.93L221.36 561.36L221.85 560.71L222.27 559.99L222.64 559.2L222.94 558.36L223.19 557.45L223.36 556.49L223.48 555.48L223.53 554.43L223.51 553.34L223.43 552.21L223.28 551.06L223.07 549.88L222.8 548.69L222.46 547.48L222.06 546.27L221.61 545.06L221.1 543.86L220.53 542.67L219.92 541.5L219.25 540.35L218.55 539.23L217.8 538.14L217.01 537.1L216.19 536.1L215.34 535.15L214.47 534.26L213.57 533.43L212.66 532.65L211.73 531.95L210.8 531.32L209.86 530.76L208.92 530.27L207.99 529.87L207.07 529.54L206.17 529.3L205.28 529.14L204.42 529.06L203.58 529.07L202.78 529.17L202.01 529.34L201.28 529.6L200.6 529.95"/>
<path class="t" d="M228.26 557.85L228.9 557.43L229.49 556.93L230.02 556.36L230.51 555.71L230.93 554.99L231.3 554.2L231.6 553.36L231.85 552.45L232.02 551.49L232.14 550.48L232.19 549.43L232.17 548.34L232.09 547.21L231.94 546.06L231.73 544.88L231.46 543.69L231.12 542.48L230.72 541.27L230.27 540.06L229.76 538.86L229.19 537.67L228.58 536.5L227.91 535.35L227.21 534.23L226.46 533.14L225.67 532.1L224.85 531.1L224 530.15L223.13 529.26L222.23 528.43L221.32 527.65L220.39 526.95L219.46 526.32L218.52 525.76L217.58 525.27L216.65 524.87L215.73 524.54L214.83 524.3L213.94 524.14L213.08 524.06L212.24 524.07L211.44 524.17L210.67 524.34L209.94 524.6L209.26 524.95"/>
<path class="t" d="M147.75 550.41L146.82 551.03L145.96 551.76L145.17 552.6L144.47 553.54L143.85 554.59L143.32 555.74L142.87 556.97L142.52 558.29L142.26 559.69L142.09 561.16L142.02 562.7L142.05 564.29L142.17 565.93L142.38 567.61L142.69 569.33L143.09 571.07L143.58 572.82L144.16 574.59L144.82 576.35L145.56 578.1L146.39 579.84L147.28 581.55L148.25 583.22L149.28 584.86L150.37 586.44L151.52 587.96L152.72 589.41L153.95 590.8L155.23 592.1L156.54 593.32L157.87 594.44L159.22 595.47L160.58 596.39L161.95 597.21L163.31 597.91L164.67 598.5L166.01 598.98L167.33 599.33L168.62 599.57L169.88 599.68L171.1 599.66L172.27 599.53L173.39 599.27L174.45 598.89L175.45 598.39L214.16 576.04L215.09 575.42L215.95 574.69L216.74 573.85L217.44 572.91L218.06 571.86L218.59 570.71L219.04 569.48L219.39 568.16L219.65 566.76L219.82 565.29L219.89 563.75L219.87 562.16L219.75 560.52L219.53 558.84L219.22 557.12L218.82 555.38L218.33 553.63L217.76 551.86L217.09 550.1L216.35 548.35L215.52 546.61L214.63 544.9L213.66 543.23L212.63 541.59L211.54 540.01L210.39 538.49L209.2 537.04L207.96 535.65L206.68 534.35L205.37 533.13L204.04 532.01L202.69 530.98L201.33 530.06L199.96 529.24L198.6 528.54L197.24 527.95L195.9 527.47L194.58 527.12L193.29 526.88L192.03 526.77L190.81 526.79L189.64 526.92L188.52 527.18L187.46 527.56L186.46 528.06Z" style="fill:#fff"/>
<ellipse class="t" cx="161.6" cy="574.4" rx="27.7" ry="15.98" transform="rotate(60 161.6 574.4)"/>
<path class="t" d="M157.8 549.8L158.4 545L161.4 542.6L164.4 545V553.6M161.4 542.6L187.8 527.4L190.8 530V538.4M164.4 545L190.8 530M164.4 553.6L190.8 538.4" style="fill:#fff"/>
<path class="w" d="M157.8 549.8L158.4 545L161.4 542.6L164.4 545V553.6L190.8 538.4V530L187.8 527.4Z"/>
<path class="t" d="M157.8 549.8L158.4 545L161.4 542.6L164.4 545V553.6M161.4 542.6L187.8 527.4L190.8 530V538.4M164.4 545L190.8 530M164.4 553.6L190.8 538.4M157.8 549.8L156 551.6"/>
<path class="w" d="M116.3 650.99L224.99 588.24L226.36 587.56L227.81 587.04L229.35 586.68L230.96 586.49L232.63 586.48L234.35 586.63L236.12 586.95L237.94 587.43L239.78 588.08L241.64 588.89L243.51 589.86L245.38 590.98L247.25 592.25L249.1 593.66L250.93 595.2L252.72 596.87L254.47 598.66L256.17 600.55L257.81 602.55L259.39 604.64L260.88 606.81L262.3 609.05L263.63 611.34L264.86 613.69L265.99 616.07L267.01 618.47L267.92 620.89L268.71 623.31L269.38 625.72L269.93 628.11L270.35 630.46L270.65 632.77L270.81 635.02L270.84 637.21L270.75 639.31L270.52 641.33L270.16 643.25L269.68 645.06L269.07 646.75L268.33 648.32L267.48 649.76L266.52 651.06L265.44 652.21L264.26 653.21L262.99 654.06L154.3 716.81Z"/>
<path class="o" d="M224.99 588.24L226.37 587.55L227.83 587.03L229.38 586.68L231 586.49L232.68 586.48L234.42 586.64L236.2 586.96L238.02 587.46L239.88 588.12L241.75 588.95L243.64 589.93L245.52 591.07L247.4 592.36L249.26 593.79L251.1 595.35L252.9 597.04L254.65 598.85L256.36 600.77L258 602.79L259.57 604.9L261.07 607.09L262.48 609.35L263.8 611.67L265.03 614.03L266.15 616.43L267.16 618.86L268.06 621.29L268.83 623.73L269.49 626.15L270.02 628.54L270.42 630.9L270.69 633.22L270.83 635.47L270.83 637.65L270.71 639.75L270.45 641.76L270.06 643.67L269.55 645.46L268.9 647.14L268.14 648.69L267.25 650.1"/>
<path class="o" d="M198.83 603.34L224.99 588.24"/>
<path class="t" d="M236.83 669.16L262.99 654.06"/>
<path class="t" d="M142.28 635.99L198.83 603.34"/>
<path class="t" d="M198.83 603.34L200.22 602.65L201.7 602.12L203.26 601.77L204.89 601.59L206.58 601.58L208.33 601.75L210.13 602.08L211.97 602.59L213.84 603.27L215.72 604.11L217.62 605.11L219.52 606.27L221.41 607.58L223.28 609.03L225.12 610.61L226.93 612.33L228.7 614.16L230.4 616.11L232.05 618.15L233.62 620.29L235.12 622.5L236.53 624.79L237.85 627.13L239.06 629.52L240.17 631.94L241.17 634.38L242.05 636.83L242.81 639.28L243.45 641.71L243.95 644.12L244.33 646.49L244.58 648.8L244.69 651.06L244.66 653.24L244.51 655.33L244.22 657.33L243.79 659.22L243.24 661L242.56 662.66"/>
<path class="t" d="M170.86 619.49L172.25 618.8L173.73 618.27L175.29 617.92L176.93 617.74L178.62 617.73L180.38 617.9L182.18 618.24L184.02 618.75L185.89 619.43L187.79 620.28L189.69 621.28L191.59 622.45L193.48 623.76L195.36 625.22L197.2 626.81L199.01 628.53L200.78 630.37L202.49 632.32L204.13 634.38L205.71 636.52L207.2 638.74L208.61 641.03L209.93 643.38L211.14 645.77L212.25 648.2L213.24 650.65L214.12 653.1L214.87 655.56L215.5 657.99L216.01 660.4L216.38 662.77L216.61 665.09L216.72 667.34L216.69 669.52"/>
<path class="t" d="M172.53 618.53L173.97 617.92L175.49 617.48L177.09 617.21L178.76 617.11L180.49 617.19L182.27 617.45L184.09 617.87L185.95 618.47L187.83 619.23L189.73 620.16L191.63 621.24L193.53 622.48L195.42 623.87L197.28 625.39L199.11 627.05L200.9 628.84L202.64 630.73L204.32 632.74L205.93 634.84L207.47 637.02L208.92 639.28L210.29 641.61L211.55 643.98L212.71 646.39L213.76 648.83L214.7 651.29L215.52 653.74L216.21 656.19L216.77 658.62L217.21 661.01L217.51 663.35L217.68 665.64L217.72 667.86"/>
<path class="t" d="M215.4 666.4L216 670L225.6 674.8V679.6L200.4 697L189.6 692.8L186 688" style="fill:#fff"/>
<path class="t" d="M191 680.5L210.6 670"/>
<path class="h" d="M225.6 679.6L216 675M200.4 697V692.5"/>
<path class="w" d="M114.8 648.39L113.42 649.3L112.15 650.38L110.99 651.63L109.95 653.03L109.03 654.58L108.24 656.27L107.58 658.1L107.06 660.06L106.67 662.13L106.43 664.3L106.32 666.58L106.36 668.93L106.53 671.36L106.85 673.85L107.31 676.39L107.9 678.97L108.62 681.57L109.48 684.18L110.46 686.79L111.56 689.38L112.78 691.95L114.11 694.48L115.54 696.96L117.07 699.38L118.68 701.71L120.38 703.97L122.15 706.12L123.98 708.17L125.87 710.1L127.81 711.9L129.78 713.56L131.78 715.08L133.79 716.45L135.81 717.66L137.83 718.7L139.84 719.58L141.83 720.28L143.78 720.8L145.69 721.15L147.56 721.31L149.36 721.29L151.09 721.09L152.75 720.71L154.32 720.15L155.8 719.41L177.45 706.91L178.83 706L180.1 704.92L181.26 703.67L182.3 702.27L183.22 700.72L184.01 699.03L184.67 697.2L185.19 695.24L185.58 693.17L185.82 691L185.93 688.72L185.89 686.37L185.72 683.94L185.4 681.45L184.94 678.91L184.35 676.33L183.63 673.73L182.77 671.12L181.79 668.51L180.69 665.92L179.47 663.35L178.14 660.82L176.71 658.34L175.18 655.92L173.57 653.59L171.87 651.33L170.1 649.18L168.27 647.13L166.38 645.2L164.44 643.4L162.47 641.74L160.47 640.22L158.46 638.85L156.44 637.64L154.42 636.6L152.41 635.72L150.42 635.02L148.47 634.5L146.56 634.15L144.69 633.99L142.89 634.01L141.16 634.21L139.5 634.59L137.93 635.15L136.45 635.89Z"/>
<path class="t" d="M166.87 708.58L168.75 708.79L170.56 708.81L172.32 708.66L173.99 708.32L175.59 707.8L177.09 707.11L178.49 706.24L179.79 705.2L180.98 704L182.05 702.64L183 701.12L183.83 699.46L184.52 697.67L185.07 695.74L185.49 693.7L185.78 691.55L185.92 689.3L185.92 686.96L185.77 684.55L185.49 682.08L185.07 679.55L184.51 676.98L183.82 674.39L183 671.78L182.05 669.16L180.97 666.56L179.78 663.99L178.48 661.45L177.08 658.95L175.57 656.52L173.98 654.16L172.3 651.89L170.55 649.71L168.73 647.63L166.85 645.67"/>
<path class="t" d="M167.18 709.35L169.04 709.42L170.84 709.31L172.56 709L174.19 708.51L175.73 707.84L177.18 706.99L178.51 705.96L179.74 704.76L180.84 703.4L181.82 701.88L182.66 700.21L183.37 698.39L183.95 696.45L184.38 694.38L184.67 692.2L184.82 689.92L184.81 687.55L184.67 685.1L184.38 682.58L183.94 680.01L183.37 677.4L182.66 674.77L181.81 672.12L180.83 669.47L179.73 666.83L178.5 664.22L177.17 661.65L175.72 659.13L174.18 656.67L172.54 654.29L170.82 652L169.03 649.81L167.17 647.73"/>
<path class="k" d="M155.8 719.41L189.8 699.8"/>
<path class="k" d="M119.51 646.71L117.85 647.09L116.28 647.65L114.8 648.39L113.42 649.3L112.15 650.38L110.99 651.63L109.95 653.03L109.03 654.58L108.24 656.27L107.58 658.1L107.06 660.06L106.67 662.13L106.43 664.3L106.32 666.58L106.36 668.93L106.53 671.36L106.85 673.85L107.31 676.39L107.9 678.97L108.62 681.57L109.48 684.18L110.46 686.79L111.56 689.38L112.78 691.95L114.11 694.48L115.54 696.96L117.07 699.38L118.68 701.71L120.38 703.97L122.15 706.12L123.98 708.17L125.87 710.1L127.81 711.9L129.78 713.56L131.78 715.08L133.79 716.45L135.81 717.66L137.83 718.7L139.84 719.58L141.83 720.28L143.78 720.8L145.69 721.15L147.56 721.31L149.36 721.29L151.09 721.09L152.75 720.71L154.32 720.15L155.8 719.41"/>
<ellipse class="t" cx="136.8" cy="683" rx="40" ry="23.16" transform="rotate(60 136.8 683)"/>
<ellipse class="t" cx="136.1" cy="683.5" rx="34" ry="19.62" transform="rotate(60 136.1 683.5)"/>
<ellipse class="t" cx="136.5" cy="683.3" rx="32.3" ry="18.64" transform="rotate(60 136.5 683.3)"/>
<path class="w" d="M117.5 646.2L137.8 632.9L151.8 625.2L157.4 628.7L158.1 639.2L160.2 643L144.8 660.2L138.5 650Z"/>
<path class="t" d="M137.8 632.9L151.8 625.2L157.4 628.7L158.1 639.2L160.2 642.5"/>
<path class="t" d="M117.5 646.2L118.9 645.5L130.8 640.6L133.6 639.9L130.1 646.2L121 646.9Z"/>
<path class="t" d="M158.1 631.5L156 630.1L140.6 638.5L138.5 642L139.2 649L142 656L144.8 660.2"/>
<path class="t" d="M133.6 639.9L140.6 636"/>
<path class="t" d="M144.1 647.6L153.9 642.7"/>
<path class="k" d="M117.5 646.2L137.8 632.9"/>
<path class="k" d="M293.72 719.19L291.66 720.36L289.55 721.44L287.39 722.43L285.19 723.34L282.94 724.15L280.65 724.88L278.32 725.53L275.95 726.08L273.54 726.54L271.09 726.91L268.61 727.19L266.1 727.38L263.55 727.48L260.97 727.5L258.37 727.41L255.74 727.24L253.08 726.98L250.41 726.63L247.71 726.19L244.99 725.66L242.26 725.03L239.51 724.32L236.75 723.53L233.97 722.64L231.19 721.66L228.4 720.6L225.6 719.46L222.8 718.23L220 716.91L217.19 715.51L214.39 714.03L211.6 712.46L208.81 710.82L206.02 709.1L203.25 707.3L200.49 705.42L197.74 703.47L195.01 701.44L192.29 699.34"/>
<path class="k" d="M136.83 631.48L135.1 628.14L133.42 624.77L131.81 621.39L130.25 617.98L128.76 614.57L127.33 611.13L125.96 607.69L124.66 604.24L123.42 600.78L122.25 597.32L121.15 593.85L120.11 590.39L119.15 586.93L118.25 583.48L117.42 580.03L116.66 576.6L115.97 573.17L115.36 569.77L114.81 566.38L114.34 563.01L113.94 559.66L113.61 556.33L113.36 553.04L113.18 549.77L113.07 546.53L113.04 543.33L113.08 540.16L113.19 537.03L113.38 533.94L113.64 530.89L113.97 527.89L114.37 524.93L114.85 522.02L115.4 519.16L116.02 516.35L116.71 513.6L117.48 510.9L118.31 508.26L119.21 505.68L120.19 503.16L121.23 500.7L122.34 498.31L123.51 495.98L124.76 493.73L126.06 491.54L127.43 489.42L128.87 487.38L130.37 485.41L131.93 483.51L133.55 481.7L135.23 479.96L136.96 478.29L138.76 476.71L140.61 475.21L142.51 473.79L144.47 472.46L146.48 471.21L148.54 470.04L150.65 468.96L152.81 467.97L155.01 467.06L157.26 466.25L159.55 465.52L161.88 464.87L164.25 464.32L166.66 463.86L169.11 463.49L171.59 463.21L174.1 463.02L176.65 462.92L179.23 462.9L181.83 462.99L184.46 463.16L187.12 463.42L189.79 463.77L192.49 464.21L195.21 464.74L197.94 465.37L200.69 466.08L203.45 466.87L206.23 467.76L209.01 468.74L211.8 469.8L214.6 470.94L217.4 472.17L220.2 473.49L223.01 474.89L225.81 476.37L228.6 477.94L231.39 479.58L234.18 481.3L236.95 483.1L239.71 484.98L242.46 486.93L245.19 488.96L247.91 491.06L250.61 493.23L253.28 495.48L255.94 497.79L258.56 500.16L261.17 502.61L263.74 505.11L266.28 507.68L268.8 510.31L271.28 512.99L273.72 515.73L276.13 518.53L278.5 521.38L280.83 524.28L283.11 527.22L285.36 530.22L287.56 533.26L289.71 536.34L291.81 539.46L293.87 542.62L295.88 545.82L297.83 549.05L299.73 552.31L301.58 555.6L303.37 558.92L305.1 562.26L306.78 565.63L308.39 569.01L309.95 572.42L311.44 575.83L312.87 579.27L314.24 582.71L315.54 586.16L316.78 589.62L317.95 593.08L319.05 596.55L320.09 600.01L321.05 603.47L321.95 606.92L322.78 610.37L323.54 613.8L324.23 617.23L324.84 620.63L325.39 624.02L325.86 627.39L326.26 630.74L326.59 634.07L326.84 637.36L327.02 640.63L327.13 643.87L327.16 647.07L327.12 650.24L327.01 653.37L326.82 656.46L326.56 659.51L326.23 662.51L325.83 665.47L325.35 668.38L324.8 671.24L324.18 674.05L323.49 676.8L322.72 679.5L321.89 682.14L320.99 684.72L320.01 687.24L318.97 689.7L317.86 692.09L316.69 694.42L315.44 696.67L314.14 698.86L312.77 700.98L311.33 703.02L309.83 704.99L308.27 706.89L306.65 708.7L304.97 710.44L303.24 712.11L301.44 713.69L299.59 715.19L297.69 716.61L295.73 717.94L293.72 719.19"/>
<ellipse class="o" cx="220.6" cy="597.5" rx="135.9" ry="78.9" transform="rotate(61.65 220.6 597.5)"/>
<path class="d" d="M70.5 567.8L218.5 489.5"/>
<path class="d" d="M70.5 798.6L225 713"/>
<path class="d" d="M75.6 565L75.6 795.5"/>
<path class="a" d="M75.6 565L77.4 573L73.8 573Z"/>
<path class="a" d="M75.6 795.5L73.8 787.5L77.4 787.5Z"/>
<text x="0" y="0" text-anchor="middle" transform="matrix(0 -0.85 0.87 -0.5 70.3 678.5)" style="font-size:13.5px;letter-spacing:0.3px;stroke:#111;stroke-width:0.4px;" dominant-baseline="central">150</text>
<path class="d" d="M135 722L135 878"/>
<path class="h" d="M226 640L226 806"/>
<path class="d" d="M226 716L226 806"/>
<path class="d" d="M306.4 550L306.4 780"/>
<path class="d" d="M135 851.2L226 802.2"/>
<path class="a" d="M135 851.2L139.96 846.49L141.66 849.66Z"/>
<path class="a" d="M226 802.2L221.04 806.91L219.34 803.74Z"/>
<path class="d" d="M226 802.2L306 756.6"/>
<path class="a" d="M226 802.2L230.84 797.37L232.63 800.5Z"/>
<path class="a" d="M306 756.6L301.16 761.43L299.37 758.3Z"/>
<path class="d" d="M135 870.6L306 775.4"/>
<path class="a" d="M135 870.6L139.89 865.82L141.64 868.96Z"/>
<path class="a" d="M306 775.4L301.11 780.18L299.36 777.04Z"/>
<text x="0" y="0" text-anchor="middle" transform="matrix(0.87 -0.5 0 1 182.4 819.5)" style="font-size:13.5px;letter-spacing:0.5px;stroke:#111;stroke-width:0.4px;" dominant-baseline="central">56~72</text>
<text x="0" y="0" text-anchor="middle" transform="matrix(0.87 -0.5 0 1 223.5 815.8)" style="font-size:13.5px;letter-spacing:0.5px;stroke:#111;stroke-width:0.4px;" dominant-baseline="central">130</text>
<text x="0" y="0" text-anchor="middle" transform="matrix(0.87 -0.5 0 1 268.5 770)" style="font-size:13.5px;letter-spacing:0.5px;stroke:#111;stroke-width:0.4px;" dominant-baseline="central">58~74</text>
<path class="d" d="M311.6 433.4L406 487"/>
<path class="a" d="M311.6 433.4L320.41 436.1L318.44 439.58Z"/>
<path class="a" d="M406 487L397.19 484.3L399.16 480.82Z"/>
<text x="0" y="0" text-anchor="middle" transform="matrix(0.87 0.5 -0.87 0.5 362 454.5)" style="font-size:14px;letter-spacing:0.5px;stroke:#111;stroke-width:0.4px;" dominant-baseline="central">72</text>
<path class="d" d="M303 437L432 362"/>
<path class="d" d="M336 526L412 484"/>
<path class="d" d="M340 598L432 544.5"/>
<path class="d" d="M426.3 365L426.3 548"/>
<path class="a" d="M426.3 365L428.1 373L424.5 373Z"/>
<path class="a" d="M426.3 548L424.5 540L428.1 540Z"/>
<text x="0" y="0" text-anchor="middle" transform="matrix(0 1 -0.87 0.5 421.8 458)" style="font-size:13.5px;letter-spacing:0.5px;stroke:#111;stroke-width:0.4px;" dominant-baseline="central">119</text>
<path class="d" d="M234 410L258 419L268 432.5"/>
<path class="d" d="M258 419L242 452.5"/>
<text x="0" y="0" text-anchor="middle" transform="matrix(0.87 0.5 0 1 245.5 405.7)" style="font-size:13px;stroke:#111;stroke-width:0.4px;" dominant-baseline="central">G1/2</text>
<path class="d" d="M334 552L340 561.5L364 575.5"/>
<text x="0" y="0" text-anchor="middle" transform="matrix(0.87 0.5 0 1 352 557.2)" style="font-size:13px;stroke:#111;stroke-width:0.4px;" dominant-baseline="central">G1/2</text>
<path class="d" d="M341.6 614.4L344 624.8L369.6 640"/>
<text x="0" y="0" text-anchor="middle" transform="matrix(0.87 0.5 0 1 359.5 625.7)" style="font-size:13px;stroke:#111;stroke-width:0.4px;" dominant-baseline="central">G1/2</text>
<path class="d" d="M324.8 677.6L332.8 697.6L356.8 711.2"/>
<text x="0" y="0" text-anchor="middle" transform="matrix(0.87 0.5 0 1 346.5 696.7)" style="font-size:13px;stroke:#111;stroke-width:0.4px;" dominant-baseline="central">ø150</text>
<path class="w" d="M464.4 609.2L454 616.4L446.8 627.6L445.2 637.2L447.6 646.8L454 653.2L462 655.6L470.8 654.32L474 659.6L482.8 669.2L494 666L514.8 637.2Z"/>
<path class="m" d="M464.4 609.2C462.67 610.4 456.93 613.33 454 616.4C451.07 619.47 448.27 624.13 446.8 627.6C445.33 631.07 445.07 634 445.2 637.2C445.33 640.4 446.13 644.13 447.6 646.8C449.07 649.47 451.6 651.73 454 653.2C456.4 654.67 459.2 655.41 462 655.6C464.8 655.79 469.33 654.53 470.8 654.32"/>
<path class="m" d="M464.4 609.2L515.6 637.52"/>
<path class="m" d="M461.2 654.32C461.33 652.8 461.73 648.59 462 645.2C462.27 641.81 462.4 637.6 462.8 634C463.2 630.4 463.2 625.95 464.4 623.6C465.6 621.25 467.73 620.37 470 619.92C472.27 619.47 475.47 620.19 478 620.88C480.53 621.57 483.47 623.07 485.2 624.08C486.93 625.09 488.27 625.84 488.4 626.96C488.53 628.08 487.47 629.36 486 630.8C484.53 632.24 481.47 633.73 479.6 635.6C477.73 637.47 476 639.6 474.8 642C473.6 644.4 472.99 647.95 472.4 650C471.81 652.05 471.47 653.6 471.28 654.32"/>
<path class="m" d="M472.4 650C472.48 651.47 472.21 656.13 472.88 658.8C473.55 661.47 474.75 664.05 476.4 666C478.05 667.95 481.73 669.73 482.8 670.48"/>
<path class="m" d="M488.4 626.96C490.13 627.92 495.2 631.07 498.8 632.72C502.4 634.37 507.2 636.08 510 636.88C512.8 637.68 513.6 637.2 515.6 637.52C517.6 637.84 520.48 638.27 522 638.8C523.52 639.33 524.27 640.4 524.72 640.72"/>
<path class="m" d="M492.08 654C492.4 652.8 492.88 648.85 494 646.8C495.12 644.75 496.67 643.12 498.8 641.68C500.93 640.24 504 639.01 506.8 638.16C509.6 637.31 514.13 636.83 515.6 636.56"/>
<path class="m" d="M482.8 670.48C483.6 669.73 486.13 666.75 487.6 666C489.07 665.25 490.93 666 491.6 666"/>
<path class="w" d="M495.6 657L553.7 623.5L554.51 623.1L555.37 622.79L556.27 622.58L557.22 622.47L558.2 622.46L559.22 622.55L560.27 622.74L561.33 623.02L562.42 623.41L563.52 623.89L564.62 624.46L565.72 625.12L566.82 625.86L567.92 626.69L568.99 627.6L570.05 628.59L571.08 629.64L572.08 630.76L573.05 631.94L573.98 633.17L574.86 634.45L575.7 635.76L576.48 637.12L577.2 638.5L577.87 639.9L578.47 641.32L579.01 642.75L579.47 644.18L579.87 645.6L580.19 647L580.44 648.39L580.62 649.75L580.71 651.08L580.73 652.37L580.67 653.61L580.54 654.8L580.33 655.93L580.04 656.99L579.68 657.99L579.25 658.92L578.75 659.77L578.18 660.53L577.55 661.21L576.85 661.8L576.1 662.3L518 695.8Z"/>
<path class="m" d="M495.6 657L553.7 623.5"/>
<path class="m" d="M518 695.8L576.1 662.3"/>
<path class="t" d="M553.7 623.5L552.95 624L552.25 624.59L551.62 625.27L551.05 626.03L550.55 626.88L550.12 627.81L549.76 628.81L549.47 629.87L549.26 631L549.13 632.19L549.07 633.43L549.09 634.72L549.18 636.05L549.36 637.41L549.61 638.8L549.93 640.2L550.33 641.62L550.79 643.05L551.33 644.48L551.93 645.9L552.6 647.3L553.32 648.68L554.1 650.04L554.94 651.35L555.82 652.63L556.75 653.86L557.72 655.04L558.72 656.16L559.75 657.21L560.81 658.2L561.88 659.11L562.98 659.94L564.08 660.68L565.18 661.34L566.28 661.91L567.38 662.39L568.47 662.78L569.53 663.06L570.58 663.25L571.6 663.34L572.58 663.33L573.53 663.22L574.43 663.01L575.29 662.7L576.1 662.3"/>
<path class="m" d="M576.1 662.3L576.85 661.8L577.55 661.21L578.18 660.53L578.75 659.77L579.25 658.92L579.68 657.99L580.04 656.99L580.33 655.93L580.54 654.8L580.67 653.61L580.73 652.37L580.71 651.08L580.62 649.75L580.44 648.39L580.19 647L579.87 645.6L579.47 644.18L579.01 642.75L578.47 641.32L577.87 639.9L577.2 638.5L576.48 637.12L575.7 635.76L574.86 634.45L573.98 633.17L573.05 631.94L572.08 630.76L571.08 629.64L570.05 628.59L568.99 627.6L567.92 626.69L566.82 625.86L565.72 625.12L564.62 624.46L563.52 623.89L562.42 623.41L561.33 623.02L560.27 622.74L559.22 622.55L558.2 622.46L557.22 622.47L556.27 622.58L555.37 622.79L554.51 623.1L553.7 623.5"/>
<path class="t" d="M512.05 647.5L511.3 648L510.61 648.59L509.97 649.27L509.4 650.03L508.9 650.88L508.47 651.81L508.11 652.81L507.82 653.87L507.61 655L507.48 656.19L507.42 657.43L507.44 658.72L507.54 660.05L507.71 661.41L507.96 662.8L508.28 664.2L508.68 665.62L509.15 667.05L509.68 668.48L510.29 669.9L510.95 671.3L511.68 672.68L512.46 674.04L513.29 675.35L514.18 676.63L515.1 677.86L516.07 679.04L517.07 680.16L518.1 681.21L519.16 682.2L520.24 683.11L521.33 683.94L522.43 684.68L523.54 685.34L524.64 685.91L525.74 686.39L526.82 686.78L527.89 687.06L528.93 687.25L529.95 687.34L530.94 687.33L531.88 687.22L532.79 687.01L533.65 686.7L534.45 686.3"/>
<path class="t" d="M535.04 636.88L534.1 636.89L533.19 636.99L532.33 637.19L531.51 637.48L530.74 637.87L530.02 638.34L529.36 638.91L528.76 639.55L528.21 640.28L527.74 641.09L527.32 641.98L526.98 642.93L526.71 643.95L526.51 645.03L526.38 646.16L526.33 647.35L526.35 648.58L526.44 649.85L526.61 651.15L526.85 652.47L527.16 653.81L527.54 655.17L527.98 656.53L528.5 657.9L529.07 659.25L529.71 660.59L530.4 661.91L531.15 663.21L531.94 664.47L532.79 665.69L533.67 666.86L534.6 667.99L535.55 669.06L536.54 670.06L537.55 671L538.58 671.87L539.62 672.67L540.67 673.38L541.72 674.01L542.78 674.56L543.82 675.02L544.86 675.38L545.88 675.66L546.87 675.84L547.85 675.92L548.78 675.91L549.69 675.81L550.55 675.61L551.37 675.32L552.14 674.93L552.86 674.46L553.52 673.89L554.13 673.25L554.67 672.52L555.15 671.71"/>
<path class="t" d="M518.35 652.41L551.26 633.41"/>
<path class="t" d="M523.08 656.61L557.73 636.61"/>
<path class="t" d="M534.28 664L561.99 648"/>
<path class="t" d="M534.32 672.06L563.76 655.06"/>
<path class="t" d="M535.58 678.26L558.1 665.26"/>
<path class="t" d="M539.94 653.8L562.46 640.8"/>
<path class="t" d="M532.4 650.8L545.2 657.2"/>
<path class="t" d="M545.2 657.2L562.8 646.8"/>
<path class="t" d="M545.2 642L554.8 646.8"/>
<ellipse class="t" cx="562.48" cy="635.92" rx="1.6" ry="3.4" transform="rotate(25 562.48 635.92)"/>
<ellipse class="t" cx="561.52" cy="650" rx="1.6" ry="3.6" transform="rotate(25 561.52 650)"/>
<ellipse class="m" cx="506.8" cy="676.4" rx="22.4" ry="12.92" transform="rotate(60 506.8 676.4)" style="fill:#fff"/>
<path d="M489 596.2L508.6 585" style="stroke:#6e6e6e;stroke-width:6.4;stroke-linecap:round"/>
<path d="M489 596.2L508.6 585" style="stroke:#fff;stroke-width:5.3;stroke-linecap:round"/>
<path d="M497.82 591.16L508.6 585" style="stroke:#8a8a8a;stroke-width:5.3;stroke-dasharray:.9 1.7;stroke-linecap:butt"/>
<path d="M497.82 591.16L508.6 585" style="stroke:#fff;stroke-width:1.6;stroke-linecap:butt"/>
<ellipse cx="489" cy="596.2" rx="2.9" ry="4" transform="rotate(-28 489 596.2)" style="fill:#fff;stroke:#666;stroke-width:.8"/>
<ellipse cx="489" cy="596.2" rx="1.5" ry="2.3" transform="rotate(-28 489 596.2)" style="fill:#fff;stroke:#777;stroke-width:.6"/>
<path d="M493.04 588.59L497.36 589.7" style="stroke:#222;stroke-width:1.1"/>
<path d="M495.07 597.8L496.21 595.76" style="stroke:#333;stroke-width:.9"/>
<path d="M503 603.8L522.6 593.4" style="stroke:#6e6e6e;stroke-width:6.4;stroke-linecap:round"/>
<path d="M503 603.8L522.6 593.4" style="stroke:#fff;stroke-width:5.3;stroke-linecap:round"/>
<path d="M511.82 599.12L522.6 593.4" style="stroke:#8a8a8a;stroke-width:5.3;stroke-dasharray:.9 1.7;stroke-linecap:butt"/>
<path d="M511.82 599.12L522.6 593.4" style="stroke:#fff;stroke-width:1.6;stroke-linecap:butt"/>
<ellipse cx="503" cy="603.8" rx="2.9" ry="4" transform="rotate(-28 503 603.8)" style="fill:#fff;stroke:#666;stroke-width:.8"/>
<ellipse cx="503" cy="603.8" rx="1.5" ry="2.3" transform="rotate(-28 503 603.8)" style="fill:#fff;stroke:#777;stroke-width:.6"/>
<path d="M507.13 596.4L511.41 597.64" style="stroke:#222;stroke-width:1.1"/>
<path d="M508.88 605.66L510.08 603.66" style="stroke:#333;stroke-width:.9"/>
<path d="M514.6 615.4L535.4 603.4" style="stroke:#4a4a4a;stroke-width:2.3;stroke-dasharray:.75 .5;stroke-linecap:butt"/>
<path d="M514.6 615.4L535.4 603.4" style="stroke:#555;stroke-width:1.1;stroke-linecap:round"/>
<ellipse cx="514.6" cy="615.4" rx="2.6" ry="3.6" transform="rotate(-28 514.6 615.4)" style="fill:#fff;stroke:#444;stroke-width:.9"/>
<path class="t" d="M513.7 613.8L515.5 617"/>
<path class="t" d="M513.1 616.1L516.1 614.7"/>
<path d="M527 622.2L547.8 610.2" style="stroke:#4a4a4a;stroke-width:2.3;stroke-dasharray:.75 .5;stroke-linecap:butt"/>
<path d="M527 622.2L547.8 610.2" style="stroke:#555;stroke-width:1.1;stroke-linecap:round"/>
<ellipse cx="527" cy="622.2" rx="2.6" ry="3.6" transform="rotate(-28 527 622.2)" style="fill:#fff;stroke:#444;stroke-width:.9"/>
<path class="t" d="M526.1 620.6L527.9 623.8"/>
<path class="t" d="M525.5 622.9L528.5 621.5"/>
<path class="d" d="M406 659L481 702.6"/>
<path class="a" d="M406 659L412.61 660.76L410.8 663.87Z"/>
<path class="a" d="M481 702.6L474.39 700.84L476.2 697.73Z"/>
<path class="d" d="M406 659L444.5 636.8"/>
<path class="d" d="M481 702.6L511 685.3"/>
<text x="0" y="0" text-anchor="middle" transform="matrix(0.87 0.5 -0.87 0.5 451.5 675)" style="font-size:14px;letter-spacing:0.6px;stroke:#111;stroke-width:0.4px;" dominant-baseline="central">106</text>
<path class="d" d="M562.5 701L617.5 669.4"/>
<path class="a" d="M562.5 701L567.33 696.15L569.12 699.27Z"/>
<path class="a" d="M617.5 669.4L612.67 674.25L610.88 671.13Z"/>
<path class="d" d="M562.5 701L526 680"/>
<path class="d" d="M617.5 669.4L580.5 648"/>
<text x="0" y="0" text-anchor="middle" transform="matrix(0.87 -0.5 0 1 581.5 682.5)" style="font-size:14px;letter-spacing:0.6px;stroke:#111;stroke-width:0.4px;" dominant-baseline="central">75</text>
<path class="d" d="M579 637.5L592.5 636L622.5 654"/>
<text x="0" y="0" text-anchor="middle" transform="matrix(0.87 0.5 0 1 611.5 637.7)" style="font-size:13px;stroke:#111;stroke-width:0.4px;" dominant-baseline="central">ø41</text>
<path class="k" d="M535.99 739.7C537.04 739.94 539.59 739.64 542.29 741.14C544.99 742.64 549.79 745.49 552.19 748.7C554.59 751.91 555.79 757.25 556.69 760.4C557.59 763.55 557.68 765.74 557.59 767.6C557.5 769.46 556.81 770.72 556.15 771.56C555.49 772.4 554.05 772.46 553.63 772.63"/>
<path class="t" d="M538.15 744.2C539.59 744.95 544.3 746.3 546.79 748.7C549.28 751.1 551.74 755.15 553.09 758.6C554.44 762.05 554.59 767.6 554.89 769.4"/>
<path class="t" d="M539.95 746.9C541.24 747.8 545.65 749.9 547.69 752.3C549.73 754.7 551.29 758.15 552.19 761.3C553.09 764.45 552.94 769.55 553.09 771.2"/>
<path class="k" d="M535.99 739.7C536.44 740.3 537.94 741.95 538.69 743.3C539.44 744.65 540.19 747.05 540.49 747.8"/>
<ellipse class="k" cx="521.2" cy="769.6" rx="46" ry="26.54" transform="rotate(60 521.2 769.6)" style="fill:#fff"/>
<path class="t" d="M519.31 804.52L521.22 805.35L523.12 806.01L524.98 806.5L526.8 806.81L528.57 806.96L530.29 806.92L531.94 806.71L533.51 806.33L535.01 805.77L536.41 805.05L537.72 804.16L538.92 803.1L540.01 801.9L540.99 800.54L541.85 799.04L542.58 797.4L543.19 795.63L543.67 793.75L544.01 791.75L544.22 789.66L544.29 787.48L544.23 785.22L544.03 782.89L543.7 780.51L543.23 778.08L542.63 775.62L541.91 773.14L541.06 770.66L540.09 768.18L539 765.72L537.81 763.29L536.51 760.91L535.11 758.57L533.63 756.31L532.06 754.12L530.41 752.02L528.7 750.01L526.93 748.12L525.11 746.34L523.25 744.7L521.36 743.18L519.45 741.81"/>
<path class="w" d="M430.85 789.55L494.07 753.05L495.13 752.52L496.26 752.12L497.46 751.84L498.7 751.7L500 751.68L501.34 751.8L502.72 752.05L504.12 752.42L505.55 752.93L507 753.56L508.45 754.31L509.9 755.18L511.35 756.16L512.79 757.26L514.21 758.46L515.6 759.75L516.96 761.14L518.28 762.61L519.55 764.16L520.78 765.78L521.94 767.47L523.04 769.2L524.07 770.99L525.02 772.81L525.9 774.65L526.69 776.52L527.4 778.4L528.01 780.28L528.53 782.15L528.96 784L529.29 785.83L529.52 787.62L529.64 789.37L529.67 791.07L529.59 792.7L529.42 794.27L529.14 795.76L528.76 797.16L528.29 798.48L527.72 799.7L527.06 800.81L526.31 801.82L525.48 802.71L524.56 803.49L523.57 804.15L460.35 840.65Z"/>
<path class="t" d="M517.64 805.52L518.95 805.5L520.21 805.35L521.42 805.07L522.56 804.66L523.63 804.11L524.63 803.44L525.55 802.64L526.39 801.73L527.14 800.7L527.79 799.56L528.36 798.31L528.82 796.97L529.19 795.53L529.45 794.01L529.62 792.41L529.67 790.75L529.63 789.02L529.48 787.24L529.22 785.42L528.87 783.56L528.41 781.68L527.86 779.79L527.21 777.89L526.47 775.99L525.65 774.1L524.73 772.24L523.74 770.41L522.68 768.62L521.54 766.88L520.35 765.2L519.09 763.58L517.78 762.04L516.43 760.58L515.04 759.22L513.62 757.94L512.18 756.78L510.72 755.72L509.25 754.77L507.77 753.95L506.31 753.24L504.85 752.67L503.42 752.22"/>
<path class="k" d="M430.85 789.55L489.19 758.6"/>
<path class="k" d="M516.19 807.19L520.57 805.85"/>
<path class="w" d="M474.43 819.79L475.15 827.89L481.09 833.83L493.69 835.45L506.29 831.31L511.51 825.55L513.67 817.99L514.57 808.63L490.99 817.99Z"/>
<path class="k" d="M474.43 819.79C474.55 821.14 474.04 825.55 475.15 827.89C476.26 830.23 478 832.57 481.09 833.83C484.18 835.09 489.49 835.87 493.69 835.45C497.89 835.03 503.32 832.96 506.29 831.31C509.26 829.66 510.28 827.77 511.51 825.55C512.74 823.33 513.16 820.81 513.67 817.99C514.18 815.17 514.42 810.19 514.57 808.63"/>
<path class="t" d="M475.15 823.75C476.29 824.65 478.75 828.01 481.99 829.15C485.23 830.29 490.39 831.01 494.59 830.59C498.79 830.17 504.07 828.37 507.19 826.63C510.31 824.89 512.29 821.23 513.31 820.15"/>
<path class="t" d="M475.33 826.09C476.44 826.99 478.78 830.35 481.99 831.49C485.2 832.63 490.24 833.38 494.59 832.93C498.94 832.48 505.06 830.44 508.09 828.79C511.12 827.14 511.99 823.99 512.77 823.03"/>
<path class="t" d="M474.79 821.23C475.99 822.13 478.69 825.49 481.99 826.63C485.29 827.77 490.54 828.43 494.59 828.07C498.64 827.71 503.08 826.27 506.29 824.47C509.5 822.67 512.59 818.47 513.85 817.27"/>
<path class="k" d="M464.35 838.35L473.35 827.89"/>
<path class="t" d="M442.4 789.19C443.75 787.54 447.2 781.93 450.5 779.29C453.8 776.65 458.6 774.55 462.2 773.35C465.8 772.16 469.25 771.8 472.1 772.1C474.94 772.4 477.34 773.2 479.29 775.15C481.24 777.1 483.1 779.65 483.79 783.79C484.48 787.93 483.97 794.29 483.43 799.99C482.89 805.69 481.03 814.99 480.55 817.99"/>
<path class="t" d="M448.7 791.89C449.75 790.54 452.15 785.89 455 783.79C457.85 781.69 462.5 779.83 465.8 779.29C469.1 778.75 472.46 779.2 474.79 780.55C477.13 781.9 479.08 783.55 479.83 787.39C480.58 791.23 479.68 798.49 479.29 803.59C478.9 808.69 477.79 815.59 477.49 817.99"/>
<path class="t" d="M444.2 789.19C446.3 787.99 452.3 782.89 456.8 781.99C461.3 781.09 467.6 782.59 471.2 783.79C474.79 784.99 477.19 788.29 478.39 789.19"/>
<path class="t" d="M483.43 799.99C484.09 801.19 486.28 804.49 487.39 807.19C488.5 809.89 489.79 813.79 490.09 816.19C490.39 818.59 489.34 820.69 489.19 821.59"/>
<ellipse class="k" cx="446.5" cy="816.2" rx="29.5" ry="19.5" transform="rotate(60 446.5 816.2)" style="fill:#fff"/>
<path class="d" d="M424 721.7L424 803.6"/>
<path class="d" d="M463.5 742.4L463.5 836"/>
<path class="d" d="M425.3 724.4L463.1 745.1"/>
<path class="a" d="M425.3 724.4L431.95 725.99L430.22 729.15Z"/>
<path class="a" d="M463.1 745.1L456.45 743.51L458.18 740.35Z"/>
<text x="0" y="0" text-anchor="middle" transform="matrix(0.87 0.5 0 1 447 727.5)" style="font-size:13px;stroke:#111;stroke-width:0.4px;" dominant-baseline="central">ø32</text>
<path class="d" d="M418.1 829.7L442.6 816"/>
<path class="d" d="M414.4 877L441.5 862"/>
<path class="d" d="M418.1 829.7L418.1 873.8"/>
<path class="a" d="M418.1 829.7L419.9 837.7L416.3 837.7Z"/>
<path class="a" d="M418.1 873.8L416.3 865.8L419.9 865.8Z"/>
<text x="0" y="0" text-anchor="middle" transform="matrix(0 -1 1 0 413.6 852.2)" style="font-size:13.5px;stroke:#111;stroke-width:0.4px;" dominant-baseline="central">28</text>
<path class="d" d="M443.4 815.4L443.4 901"/>
<path class="d" d="M443.4 896.4L527.4 849.4"/>
<path class="a" d="M443.4 896.4L448.28 891.61L450.04 894.75Z"/>
<path class="a" d="M527.4 849.4L522.52 854.19L520.76 851.05Z"/>
<path class="d" d="M527.4 813.5L527.4 853"/>
<text x="0" y="0" text-anchor="middle" transform="matrix(0.87 -0.5 0 1 488.5 865.7)" style="font-size:14px;letter-spacing:0.6px;stroke:#111;stroke-width:0.4px;" dominant-baseline="central">65</text>
<path class="d" d="M447.8 858.5L496.4 830.6"/>
<path class="d" d="M494.6 834L494.6 845.5"/>
<text x="0" y="0" text-anchor="middle" transform="matrix(0.87 -0.5 0 1 479.5 849.5)" style="font-size:15px;letter-spacing:0.8px;stroke:#111;stroke-width:0.4px;" dominant-baseline="central">G1/2</text>
<path class="d" d="M550.4 743.3L590 720.8"/>
<text x="0" y="0" text-anchor="middle" transform="matrix(0.87 -0.5 0 1 570.4 724.2)" style="font-size:15px;letter-spacing:0.8px;stroke:#111;stroke-width:0.4px;" dominant-baseline="central">G1/2</text>
<path class="d" d="M552.2 750.5L574.7 762.4"/>
<path class="d" d="M538.7 813.5L574.7 834.4"/>
<path class="d" d="M572.9 761.3L572.9 833.4"/>
<path class="a" d="M572.9 761.3L574.7 769.3L571.1 769.3Z"/>
<path class="a" d="M572.9 833.4L571.1 825.4L574.7 825.4Z"/>
<text x="0" y="0" text-anchor="middle" transform="matrix(0 -1 0.87 0.5 568.2 796.4)" style="font-size:13.5px;letter-spacing:0.3px;stroke:#111;stroke-width:0.4px;" dominant-baseline="central">ø50</text>
<path class="t" d="M690 713C689.83 717.5 688.5 730.5 689 740C689.5 749.5 690.17 758.67 693 770C695.83 781.33 700.5 796.33 706 808C711.5 819.67 718.33 830.33 726 840C733.67 849.67 743 859.33 752 866C761 872.67 772 877.42 780 880C788 882.58 794 882 800 881.5C806 881 811.67 878.92 816 877C820.33 875.08 823.33 872.67 826 870C828.67 867.33 830.67 865.17 832 861C833.33 856.83 833.67 847.67 834 845"/>
<path class="t" d="M707 740C706.5 731.67 707.17 726 709 720C710.83 714 714.17 708 718 704C721.83 700 726.33 697 732 696C737.67 695 744.67 695.33 752 698C759.33 700.67 768 706.33 776 712C784 717.67 793.33 725 800 732C806.67 739 811.33 746 816 754C820.67 762 825.17 770.67 828 780C830.83 789.33 832.17 800 833 810C833.83 820 833.5 832 833 840C832.5 848 831.83 853.17 830 858C828.17 862.83 825 866.67 822 869C819 871.33 817 872.17 812 872C807 871.83 799.33 871 792 868C784.67 865 776 860.33 768 854C760 847.67 751.33 839 744 830C736.67 821 729.33 810 724 800C718.67 790 714.83 780 712 770C709.17 760 707.5 748.33 707 740Z"/>
<path class="t" d="M720 677.6C723.33 677.5 733.33 676.27 740 677C746.67 677.73 753.33 679.17 760 682C766.67 684.83 773.33 689.67 780 694C786.67 698.33 793.33 702.5 800 708C806.67 713.5 813.67 719.67 820 727C826.33 734.33 833.33 743.17 838 752C842.67 760.83 845.58 770.33 848 780C850.42 789.67 851.75 800 852.5 810C853.25 820 852.58 831.33 852.5 840C852.42 848.67 852.48 855.6 852 862C851.52 868.4 850 875.67 849.6 878.4"/>
<path class="t" d="M732 696C731.17 698 728.08 703.67 727 708C725.92 712.33 725.67 716.67 725.5 722C725.33 727.33 724.58 732 726 740C727.42 748 730.33 760 734 770C737.67 780 742.33 790.67 748 800C753.67 809.33 761 818.33 768 826C775 833.67 782.67 840.83 790 846C797.33 851.17 805.83 854.67 812 857C818.17 859.33 824.5 859.5 827 860"/>
<path class="t" d="M827 860C827.83 856.67 831.33 847.33 832 840C832.67 832.67 832.33 824.33 831 816C829.67 807.67 827.17 798.67 824 790C820.83 781.33 816 771.33 812 764C808 756.67 804.67 752 800 746C795.33 740 790 734 784 728C778 722 770.33 714.67 764 710C757.67 705.33 751.33 702.33 746 700C740.67 697.67 734.33 696.67 732 696"/>
<path class="t" d="M868 794C868.27 797 869.33 806 869.6 812C869.87 818 870.28 822.83 869.6 830C868.92 837.17 867.6 848.17 865.5 855C863.4 861.83 859.65 867.1 857 871C854.35 874.9 850.83 877.17 849.6 878.4"/>
<path class="k" d="M720 677.6C717.67 678.67 710.17 680.93 706 684C701.83 687.07 697.67 691.17 695 696C692.33 700.83 690.83 710.17 690 713"/>
<path class="k" d="M720 677.6C721.33 676.6 724 673.37 728 671.6C732 669.83 738.67 667.77 744 667C749.33 666.23 754 665.92 760 667C766 668.08 773.33 670.67 780 673.5C786.67 676.33 793.33 679.25 800 684C806.67 688.75 813.33 694.83 820 702C826.67 709.17 834 718.33 840 727C846 735.67 851.83 745.5 856 754C860.17 762.5 863 771.33 865 778C867 784.67 867.5 791.33 868 794"/>
<path class="k" d="M671 698C670.83 705 669.5 728 670 740C670.5 752 671.67 759 674 770C676.33 781 678.92 794 684 806C689.08 818 696.83 831.33 704.5 842C712.17 852.67 720.75 862 730 870C739.25 878 750 885 760 890C770 895 781.67 898.42 790 900C798.33 901.58 803.33 901.08 810 899.5C816.67 897.92 824.5 893.33 830 890.5C835.5 887.67 839.73 884.52 843 882.5C846.27 880.48 846.1 880.82 849.6 878.4C853.1 875.98 859.6 872.4 864 868C868.4 863.6 872.5 858.67 876 852C879.5 845.33 882.9 837.5 885 828C887.1 818.5 888.1 806.33 888.6 795C889.1 783.67 888.1 765.83 888 760"/>
<path class="t" d="M690 698L690 713"/>
<path class="t" d="M868 761L868 794"/>
<path class="m" d="M666 661L668 691.5L668.03 691.95L668.12 692.4L668.27 692.85L668.48 693.29L668.75 693.72L669.08 694.14L669.46 694.55L669.9 694.94L670.39 695.32L670.92 695.68L671.51 696.02L672.14 696.33L672.8 696.62L673.51 696.89L674.25 697.13L675.02 697.34L675.82 697.53L676.64 697.68L677.48 697.81L678.33 697.9L679.19 697.96L680.06 698L680.94 698L681.81 697.96L682.67 697.9L683.52 697.81L684.36 697.68L685.18 697.53L685.98 697.34L686.75 697.13L687.49 696.89L688.2 696.62L688.86 696.33L689.49 696.02L690.08 695.68L690.61 695.32L691.1 694.94L691.54 694.55L691.92 694.14L692.25 693.72L692.52 693.29L692.73 692.85L692.88 692.4L692.97 691.95L693 691.5L695.6 661" style="fill:#fff"/>
<ellipse class="m" cx="680.8" cy="661" rx="14.8" ry="8" transform="rotate(0 680.8 661)" style="fill:#fff"/>
<path class="t" d="M694.2 661.6L694.17 662.07L694.07 662.55L693.91 663.01L693.68 663.47L693.39 663.93L693.04 664.37L692.63 664.79L692.16 665.2L691.64 665.6L691.06 665.97L690.44 666.32L689.77 666.65L689.05 666.96L688.29 667.24L687.5 667.49L686.67 667.71L685.82 667.9L684.94 668.07L684.04 668.2L683.13 668.3L682.2 668.36L681.27 668.4L680.33 668.4L679.4 668.36L678.47 668.3L677.56 668.2L676.66 668.07L675.78 667.9L674.93 667.71L674.1 667.49L673.31 667.24L672.55 666.96L671.83 666.65L671.16 666.32L670.54 665.97L669.96 665.6L669.44 665.2L668.97 664.79L668.56 664.37L668.21 663.93L667.92 663.47L667.69 663.01L667.53 662.55L667.43 662.07L667.4 661.6L667.43 661.13L667.53 660.65L667.69 660.19L667.92 659.73L668.21 659.27L668.56 658.83L668.97 658.41L669.44 658L669.96 657.6L670.54 657.23L671.16 656.88L671.83 656.55L672.55 656.24L673.31 655.96L674.1 655.71L674.93 655.49L675.78 655.3L676.66 655.13L677.56 655L678.47 654.9L679.4 654.84L680.33 654.8L681.27 654.8L682.2 654.84L683.13 654.9L684.04 655L684.94 655.13L685.82 655.3L686.67 655.49L687.5 655.71L688.29 655.96L689.05 656.24L689.77 656.55L690.44 656.88L691.06 657.23L691.64 657.6L692.16 658L692.63 658.41L693.04 658.83L693.39 659.27L693.68 659.73L693.91 660.19L694.07 660.65L694.17 661.13L694.2 661.6"/>
<path class="t" d="M693.75 662.4L693.72 662.85L693.62 663.29L693.47 663.73L693.25 664.16L692.97 664.59L692.63 665L692.23 665.4L691.78 665.79L691.28 666.16L690.72 666.51L690.12 666.85L689.47 667.16L688.77 667.44L688.04 667.71L687.27 667.94L686.48 668.15L685.65 668.33L684.8 668.49L683.93 668.61L683.05 668.7L682.15 668.76L681.25 668.8L680.35 668.8L679.45 668.76L678.55 668.7L677.67 668.61L676.8 668.49L675.95 668.33L675.12 668.15L674.32 667.94L673.56 667.71L672.83 667.44L672.13 667.16L671.48 666.85L670.88 666.51L670.32 666.16L669.82 665.79L669.37 665.4L668.97 665L668.63 664.59L668.35 664.16L668.13 663.73L667.98 663.29L667.88 662.85L667.85 662.4L667.88 661.95L667.98 661.51L668.13 661.07L668.35 660.64L668.63 660.21L668.97 659.8L669.37 659.4L669.82 659.01L670.32 658.64L670.88 658.29L671.48 657.95L672.13 657.64L672.83 657.36L673.56 657.09L674.32 656.86L675.12 656.65L675.95 656.47L676.8 656.31L677.67 656.19L678.55 656.1L679.45 656.04L680.35 656L681.25 656L682.15 656.04L683.05 656.1L683.93 656.19L684.8 656.31L685.65 656.47L686.48 656.65L687.27 656.86L688.04 657.09L688.77 657.36L689.47 657.64L690.12 657.95L690.72 658.29L691.28 658.64L691.78 659.01L692.23 659.4L692.63 659.8L692.97 660.21L693.25 660.64L693.47 661.07L693.62 661.51L693.72 661.95L693.75 662.4"/>
<path class="t" d="M693.3 663.2L693.27 663.62L693.18 664.04L693.03 664.45L692.82 664.85L692.55 665.25L692.22 665.64L691.84 666.02L691.4 666.38L690.91 666.73L690.38 667.06L689.79 667.37L689.16 667.66L688.5 667.93L687.79 668.17L687.05 668.4L686.28 668.59L685.48 668.76L684.66 668.91L683.82 669.02L682.97 669.11L682.11 669.17L681.24 669.2L680.36 669.2L679.49 669.17L678.63 669.11L677.78 669.02L676.94 668.91L676.12 668.76L675.32 668.59L674.55 668.4L673.81 668.17L673.1 667.93L672.44 667.66L671.81 667.37L671.22 667.06L670.69 666.73L670.2 666.38L669.76 666.02L669.38 665.64L669.05 665.25L668.78 664.85L668.57 664.45L668.42 664.04L668.33 663.62L668.3 663.2L668.33 662.78L668.42 662.36L668.57 661.95L668.78 661.55L669.05 661.15L669.38 660.76L669.76 660.38L670.2 660.02L670.69 659.67L671.22 659.34L671.81 659.03L672.44 658.74L673.1 658.47L673.81 658.23L674.55 658L675.32 657.81L676.12 657.64L676.94 657.49L677.78 657.38L678.63 657.29L679.49 657.23L680.36 657.2L681.24 657.2L682.11 657.23L682.97 657.29L683.82 657.38L684.66 657.49L685.48 657.64L686.28 657.81L687.05 658L687.79 658.23L688.5 658.47L689.16 658.74L689.79 659.03L690.38 659.34L690.91 659.67L691.4 660.02L691.84 660.38L692.22 660.76L692.55 661.15L692.82 661.55L693.03 661.95L693.18 662.36L693.27 662.78L693.3 663.2"/>
<path class="t" d="M692.85 664L692.82 664.39L692.73 664.78L692.59 665.16L692.38 665.54L692.12 665.92L691.81 666.28L691.44 666.63L691.02 666.97L690.55 667.29L690.03 667.6L689.47 667.89L688.86 668.16L688.22 668.41L687.54 668.64L686.82 668.85L686.08 669.03L685.31 669.19L684.52 669.33L683.72 669.43L682.89 669.51L682.06 669.57L681.22 669.6L680.38 669.6L679.54 669.57L678.71 669.51L677.88 669.43L677.08 669.33L676.29 669.19L675.52 669.03L674.77 668.85L674.06 668.64L673.38 668.41L672.74 668.16L672.13 667.89L671.57 667.6L671.05 667.29L670.58 666.97L670.16 666.63L669.79 666.28L669.48 665.92L669.22 665.54L669.01 665.16L668.87 664.78L668.78 664.39L668.75 664L668.78 663.61L668.87 663.22L669.01 662.84L669.22 662.46L669.48 662.08L669.79 661.72L670.16 661.37L670.58 661.03L671.05 660.71L671.57 660.4L672.13 660.11L672.74 659.84L673.38 659.59L674.06 659.36L674.77 659.15L675.52 658.97L676.29 658.81L677.08 658.67L677.88 658.57L678.71 658.49L679.54 658.43L680.38 658.4L681.22 658.4L682.06 658.43L682.89 658.49L683.72 658.57L684.52 658.67L685.31 658.81L686.08 658.97L686.82 659.15L687.54 659.36L688.22 659.59L688.86 659.84L689.47 660.11L690.03 660.4L690.55 660.71L691.02 661.03L691.44 661.37L691.81 661.72L692.12 662.08L692.38 662.46L692.59 662.84L692.73 663.22L692.82 663.61L692.85 664"/>
<path class="t" d="M692.4 664.8L692.37 665.16L692.29 665.52L692.15 665.88L691.95 666.23L691.7 666.58L691.4 666.92L691.04 667.24L690.64 667.56L690.18 667.86L689.69 668.14L689.14 668.41L688.56 668.66L687.94 668.9L687.29 669.11L686.6 669.3L685.89 669.47L685.15 669.62L684.38 669.75L683.61 669.85L682.81 669.92L682.01 669.97L681.2 670L680.4 670L679.59 669.97L678.79 669.92L677.99 669.85L677.22 669.75L676.45 669.62L675.71 669.47L675 669.3L674.31 669.11L673.66 668.9L673.04 668.66L672.46 668.41L671.91 668.14L671.42 667.86L670.96 667.56L670.56 667.24L670.2 666.92L669.9 666.58L669.65 666.23L669.45 665.88L669.31 665.52L669.23 665.16L669.2 664.8L669.23 664.44L669.31 664.08L669.45 663.72L669.65 663.37L669.9 663.02L670.2 662.68L670.56 662.36L670.96 662.04L671.42 661.74L671.91 661.46L672.46 661.19L673.04 660.94L673.66 660.7L674.31 660.49L675 660.3L675.71 660.13L676.45 659.98L677.22 659.85L677.99 659.75L678.79 659.68L679.59 659.63L680.4 659.6L681.2 659.6L682.01 659.63L682.81 659.68L683.61 659.75L684.38 659.85L685.15 659.98L685.89 660.13L686.6 660.3L687.29 660.49L687.94 660.7L688.56 660.94L689.14 661.19L689.69 661.46L690.18 661.74L690.64 662.04L691.04 662.36L691.4 662.68L691.7 663.02L691.95 663.37L692.15 663.72L692.29 664.08L692.37 664.44L692.4 664.8"/>
<path class="m" d="M863 726L865.6 756.5L865.63 756.88L865.72 757.27L865.86 757.64L866.06 758.02L866.32 758.38L866.64 758.74L867 759.08L867.42 759.41L867.89 759.73L868.41 760.04L868.97 760.32L869.57 760.59L870.21 760.83L870.89 761.06L871.6 761.26L872.34 761.44L873.1 761.6L873.89 761.73L874.7 761.84L875.52 761.92L876.35 761.97L877.18 762L878.02 762L878.85 761.97L879.68 761.92L880.5 761.84L881.31 761.73L882.1 761.6L882.86 761.44L883.6 761.26L884.31 761.06L884.99 760.83L885.63 760.59L886.23 760.32L886.79 760.04L887.31 759.73L887.78 759.41L888.2 759.08L888.56 758.74L888.88 758.38L889.14 758.02L889.34 757.64L889.48 757.27L889.57 756.88L889.6 756.5L892 726" style="fill:#fff"/>
<ellipse class="m" cx="877.5" cy="726" rx="14.5" ry="8" transform="rotate(0 877.5 726)" style="fill:#fff"/>
<path class="t" d="M890.6 726.6L890.57 727.07L890.47 727.55L890.31 728.01L890.09 728.47L889.81 728.93L889.47 729.37L889.07 729.79L888.61 730.2L888.1 730.6L887.54 730.97L886.92 731.32L886.27 731.65L885.57 731.96L884.83 732.24L884.05 732.49L883.24 732.71L882.41 732.9L881.55 733.07L880.67 733.2L879.77 733.3L878.87 733.36L877.96 733.4L877.04 733.4L876.13 733.36L875.23 733.3L874.33 733.2L873.45 733.07L872.59 732.9L871.76 732.71L870.95 732.49L870.17 732.24L869.43 731.96L868.73 731.65L868.08 731.32L867.46 730.97L866.9 730.6L866.39 730.2L865.93 729.79L865.53 729.37L865.19 728.93L864.91 728.47L864.69 728.01L864.53 727.55L864.43 727.07L864.4 726.6L864.43 726.13L864.53 725.65L864.69 725.19L864.91 724.73L865.19 724.27L865.53 723.83L865.93 723.41L866.39 723L866.9 722.6L867.46 722.23L868.08 721.88L868.73 721.55L869.43 721.24L870.17 720.96L870.95 720.71L871.76 720.49L872.59 720.3L873.45 720.13L874.33 720L875.23 719.9L876.13 719.84L877.04 719.8L877.96 719.8L878.87 719.84L879.77 719.9L880.67 720L881.55 720.13L882.41 720.3L883.24 720.49L884.05 720.71L884.83 720.96L885.57 721.24L886.27 721.55L886.92 721.88L887.54 722.23L888.1 722.6L888.61 723L889.07 723.41L889.47 723.83L889.81 724.27L890.09 724.73L890.31 725.19L890.47 725.65L890.57 726.13L890.6 726.6"/>
<path class="t" d="M890.15 727.4L890.12 727.85L890.03 728.29L889.87 728.73L889.66 729.16L889.39 729.59L889.06 730L888.67 730.4L888.23 730.79L887.73 731.16L887.19 731.51L886.6 731.85L885.96 732.16L885.29 732.44L884.57 732.71L883.83 732.94L883.05 733.15L882.24 733.33L881.41 733.49L880.56 733.61L879.7 733.7L878.82 733.76L877.94 733.8L877.06 733.8L876.18 733.76L875.3 733.7L874.44 733.61L873.59 733.49L872.76 733.33L871.95 733.15L871.17 732.94L870.43 732.71L869.71 732.44L869.04 732.16L868.4 731.85L867.81 731.51L867.27 731.16L866.77 730.79L866.33 730.4L865.94 730L865.61 729.59L865.34 729.16L865.13 728.73L864.97 728.29L864.88 727.85L864.85 727.4L864.88 726.95L864.97 726.51L865.13 726.07L865.34 725.64L865.61 725.21L865.94 724.8L866.33 724.4L866.77 724.01L867.27 723.64L867.81 723.29L868.4 722.95L869.04 722.64L869.71 722.36L870.43 722.09L871.17 721.86L871.95 721.65L872.76 721.47L873.59 721.31L874.44 721.19L875.3 721.1L876.18 721.04L877.06 721L877.94 721L878.82 721.04L879.7 721.1L880.56 721.19L881.41 721.31L882.24 721.47L883.05 721.65L883.83 721.86L884.57 722.09L885.29 722.36L885.96 722.64L886.6 722.95L887.19 723.29L887.73 723.64L888.23 724.01L888.67 724.4L889.06 724.8L889.39 725.21L889.66 725.64L889.87 726.07L890.03 726.51L890.12 726.95L890.15 727.4"/>
<path class="t" d="M889.7 728.2L889.67 728.62L889.58 729.04L889.43 729.45L889.23 729.85L888.96 730.25L888.65 730.64L888.27 731.02L887.85 731.38L887.37 731.73L886.85 732.06L886.28 732.37L885.66 732.66L885.01 732.93L884.32 733.17L883.6 733.4L882.85 733.59L882.07 733.76L881.27 733.91L880.45 734.02L879.62 734.11L878.78 734.17L877.93 734.2L877.07 734.2L876.22 734.17L875.38 734.11L874.55 734.02L873.73 733.91L872.93 733.76L872.15 733.59L871.4 733.4L870.68 733.17L869.99 732.93L869.34 732.66L868.72 732.37L868.15 732.06L867.63 731.73L867.15 731.38L866.73 731.02L866.35 730.64L866.04 730.25L865.77 729.85L865.57 729.45L865.42 729.04L865.33 728.62L865.3 728.2L865.33 727.78L865.42 727.36L865.57 726.95L865.77 726.55L866.04 726.15L866.35 725.76L866.73 725.38L867.15 725.02L867.63 724.67L868.15 724.34L868.72 724.03L869.34 723.74L869.99 723.47L870.68 723.23L871.4 723L872.15 722.81L872.93 722.64L873.73 722.49L874.55 722.38L875.38 722.29L876.22 722.23L877.07 722.2L877.93 722.2L878.78 722.23L879.62 722.29L880.45 722.38L881.27 722.49L882.07 722.64L882.85 722.81L883.6 723L884.32 723.23L885.01 723.47L885.66 723.74L886.28 724.03L886.85 724.34L887.37 724.67L887.85 725.02L888.27 725.38L888.65 725.76L888.96 726.15L889.23 726.55L889.43 726.95L889.58 727.36L889.67 727.78L889.7 728.2"/>
<path class="t" d="M889.25 729L889.22 729.39L889.14 729.78L888.99 730.16L888.79 730.54L888.54 730.92L888.23 731.28L887.87 731.63L887.46 731.97L887.01 732.29L886.5 732.6L885.95 732.89L885.36 733.16L884.73 733.41L884.07 733.64L883.38 733.85L882.65 734.03L881.9 734.19L881.13 734.33L880.34 734.43L879.54 734.51L878.73 734.57L877.91 734.6L877.09 734.6L876.27 734.57L875.46 734.51L874.66 734.43L873.87 734.33L873.1 734.19L872.35 734.03L871.62 733.85L870.93 733.64L870.27 733.41L869.64 733.16L869.05 732.89L868.5 732.6L867.99 732.29L867.54 731.97L867.13 731.63L866.77 731.28L866.46 730.92L866.21 730.54L866.01 730.16L865.86 729.78L865.78 729.39L865.75 729L865.78 728.61L865.86 728.22L866.01 727.84L866.21 727.46L866.46 727.08L866.77 726.72L867.13 726.37L867.54 726.03L867.99 725.71L868.5 725.4L869.05 725.11L869.64 724.84L870.27 724.59L870.93 724.36L871.62 724.15L872.35 723.97L873.1 723.81L873.87 723.67L874.66 723.57L875.46 723.49L876.27 723.43L877.09 723.4L877.91 723.4L878.73 723.43L879.54 723.49L880.34 723.57L881.13 723.67L881.9 723.81L882.65 723.97L883.38 724.15L884.07 724.36L884.73 724.59L885.36 724.84L885.95 725.11L886.5 725.4L887.01 725.71L887.46 726.03L887.87 726.37L888.23 726.72L888.54 727.08L888.79 727.46L888.99 727.84L889.14 728.22L889.22 728.61L889.25 729"/>
<path class="t" d="M888.8 729.8L888.77 730.16L888.69 730.52L888.55 730.88L888.36 731.23L888.12 731.58L887.82 731.92L887.48 732.24L887.08 732.56L886.64 732.86L886.16 733.14L885.63 733.41L885.06 733.66L884.46 733.9L883.82 734.11L883.15 734.3L882.45 734.47L881.73 734.62L880.99 734.75L880.23 734.85L879.46 734.92L878.68 734.97L877.89 735L877.11 735L876.32 734.97L875.54 734.92L874.77 734.85L874.01 734.75L873.27 734.62L872.55 734.47L871.85 734.3L871.18 734.11L870.54 733.9L869.94 733.66L869.37 733.41L868.84 733.14L868.36 732.86L867.92 732.56L867.52 732.24L867.18 731.92L866.88 731.58L866.64 731.23L866.45 730.88L866.31 730.52L866.23 730.16L866.2 729.8L866.23 729.44L866.31 729.08L866.45 728.72L866.64 728.37L866.88 728.02L867.18 727.68L867.52 727.36L867.92 727.04L868.36 726.74L868.84 726.46L869.37 726.19L869.94 725.94L870.54 725.7L871.18 725.49L871.85 725.3L872.55 725.13L873.27 724.98L874.01 724.85L874.77 724.75L875.54 724.68L876.32 724.63L877.11 724.6L877.89 724.6L878.68 724.63L879.46 724.68L880.23 724.75L880.99 724.85L881.73 724.98L882.45 725.13L883.15 725.3L883.82 725.49L884.46 725.7L885.06 725.94L885.63 726.19L886.16 726.46L886.64 726.74L887.08 727.04L887.48 727.36L887.82 727.68L888.12 728.02L888.36 728.37L888.55 728.72L888.69 729.08L888.77 729.44L888.8 729.8"/>
<path class="d" d="M630.2 624L660.8 641L671 656"/>
<text x="0" y="0" text-anchor="middle" transform="matrix(0.87 0.5 0 1 648.5 622.2)" style="font-size:13px;stroke:#111;stroke-width:0.4px;" dominant-baseline="central">G1/2</text>
<path class="d" d="M892 729L904 726L935 744"/>
<text x="0" y="0" text-anchor="middle" transform="matrix(0.87 0.5 0 1 921.5 727.2)" style="font-size:13px;stroke:#111;stroke-width:0.4px;" dominant-baseline="central">G1/2</text>
<path class="d" d="M816 899.5L824 912L870 938.5"/>
<text x="0" y="0" text-anchor="middle" transform="matrix(0.87 0.5 0 1 847.5 916.2)" style="font-size:12.5px;stroke:#111;stroke-width:0.4px;" dominant-baseline="central">1750mm</text>
</svg>
</body></html>
